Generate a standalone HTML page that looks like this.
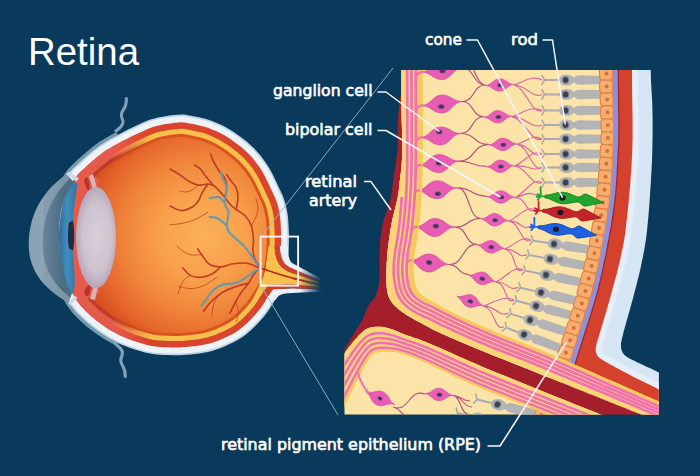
<!DOCTYPE html>
<html><head><meta charset="utf-8"><title>Retina</title>
<style>
html,body{margin:0;padding:0;background:#0a3a5b;}
svg{display:block}
text{font-family:"DejaVu Sans","Liberation Sans",sans-serif;fill:#fff}
</style></head><body>
<svg width="700" height="476" viewBox="0 0 700 476">
<rect width="700" height="476" fill="#0a3a5b"/>
<defs>
<radialGradient id="vit" gradientUnits="userSpaceOnUse" cx="202" cy="236" r="124">
<stop offset="0" stop-color="#fbb05a"/><stop offset="0.35" stop-color="#f8a04b"/><stop offset="0.62" stop-color="#f0853b"/><stop offset="0.84" stop-color="#e6662c"/><stop offset="1" stop-color="#d64c21"/></radialGradient>
<linearGradient id="corn" gradientUnits="userSpaceOnUse" x1="28" y1="0" x2="62" y2="0">
<stop offset="0" stop-color="#6d8a9c"/><stop offset="0.42" stop-color="#7591a2"/><stop offset="0.5" stop-color="#64829a"/><stop offset="1" stop-color="#4d6d82"/></linearGradient>
<linearGradient id="iris" gradientUnits="userSpaceOnUse" x1="59" y1="0" x2="75" y2="0">
<stop offset="0" stop-color="#2c6c9c"/><stop offset="0.5" stop-color="#3f8dc0"/><stop offset="1" stop-color="#3579a8"/></linearGradient>
<radialGradient id="lens" gradientUnits="userSpaceOnUse" cx="97" cy="237" r="50" gradientTransform="translate(97 237) scale(0.42 1) translate(-97 -237)">
<stop offset="0" stop-color="#d9d0da"/><stop offset="0.7" stop-color="#cdc2cf"/><stop offset="1" stop-color="#b7a6ba"/></radialGradient>
<linearGradient id="nfade" gradientUnits="userSpaceOnUse" x1="300" y1="0" x2="321" y2="0">
<stop offset="0" stop-color="#0a3a5b" stop-opacity="0"/><stop offset="1" stop-color="#0a3a5b" stop-opacity="1"/></linearGradient>
<linearGradient id="fmg" gradientUnits="userSpaceOnUse" x1="112" y1="0" x2="152" y2="0"><stop offset="0" stop-color="#fff"/><stop offset="1" stop-color="#000"/></linearGradient>
<mask id="fm" maskUnits="userSpaceOnUse" x="40" y="100" width="130" height="270"><rect x="40" y="100" width="130" height="270" fill="url(#fmg)"/></mask>
<clipPath id="eyeclip"><ellipse cx="170.5" cy="235" rx="117.5" ry="119.8"/></clipPath>
<clipPath id="vitclip"><ellipse cx="170.5" cy="235" rx="98.0" ry="100.3"/></clipPath>
</defs>
<path d="M57.8,196.2 L58.6,192.9 L59.6,189.6 L60.6,186.3 L61.8,183.1 L63.1,180 L64.6,177 L66.3,174.2 L68.3,171.5 L70.3,169.1 L72.5,166.8 L75,164.4 L77.9,161.7 L81.2,158.6 L84.9,155.3 L88.9,151.8 L93,148.5 L96.9,145.5 L100.8,142.8 L104.6,140.5 L108.4,138.2 L112.2,136.1 L116,134.1" fill="none" stroke="#7898ad" stroke-width="3" stroke-linecap="round"/>
<path d="M126.3,98.5C126.6,103 126,106 123.5,109.5C120.5,113.5 120.5,116 122.5,119.5C124,122.5 122.5,125.5 119,128.5L116,131" fill="none" stroke="#82a1b6" stroke-width="3.1" stroke-linecap="round" stroke-linejoin="round"/>
<path d="M57.4,276.5 L58.4,281 L59.6,285.4 L61,289.7 L62.6,293.8 L64.4,297.7 L66.4,301.6 L68.8,305.3 L71.3,308.9 L74.2,312.4 L77.3,315.7 L80.5,318.9 L84,322.1 L87.7,325.3 L91.7,328.5 L95.9,331.6 L100.1,334.6 L104.2,337.3 L108.2,339.7 L112.1,341.8 L116,343.8" fill="none" stroke="#7898ad" stroke-width="3" stroke-linecap="round"/>
<path d="M125.2,376.5C125.6,372 124.5,369 122.5,365.5C120,361.5 120.3,359 122,355.5C123.3,352.5 122,349.5 118.5,346.5L115.5,344" fill="none" stroke="#82a1b6" stroke-width="3.1" stroke-linecap="round" stroke-linejoin="round"/>
<path d="M178,114.7 L181.1,114.5 L183.6,114.6 L185.7,114.8 L188.1,115.2 L191,115.8 L194.7,116.5 L198.8,117.3 L203.2,118.3 L207.7,119.6 L212,121 L216.2,122.7 L220.4,124.5 L224.6,126.6 L228.8,128.9 L233,131.5 L237.3,134.4 L241.7,137.7 L246.1,141.1 L250.2,144.7 L254,148.3 L257.4,151.9 L260.5,155.6 L263.4,159.4 L266.1,163.3 L268.7,167.2 L271.2,171.4 L273.5,175.9 L275.6,180.4 L277.5,184.6 L279.2,188.2 L280.6,191.1 L281.7,193.5 L282.7,195.6 L283.5,197.7 L284.3,200 L285.1,202.5 L285.8,205.1 L286.4,207.7 L286.9,210.4 L287.4,213 L287.8,215.6 L288.1,218.2 L288.3,220.7 L288.4,223.3 L288.6,226 L288.7,228.7 L288.8,231.5 L288.9,234.3 L288.9,237.1 L288.9,240 L288.9,242.9 L288.8,245.8 L288.7,248.8 L288.5,251.9 L288.2,255 L287.9,258.3 L287.5,261.7 L287,265.2 L286.4,268.6 L285.8,272 L285.1,275.3 L284.3,278.4 L283.5,281.6 L282.5,284.8 L281.3,287.9 L279.9,291.1 L278.3,294.2 L276.6,297.4 L274.8,300.5 L272.9,303.6 L271,306.6 L269.1,309.6 L267,312.5 L264.8,315.4 L262.4,318.3 L259.7,321.3 L256.8,324.4 L253.8,327.5 L250.7,330.4 L247.7,333 L244.9,335.3 L242.1,337.2 L239.3,339 L236.3,340.8 L233,342.5 L229.2,344.3 L225.1,346.2 L220.7,347.9 L216.3,349.6 L212,350.9 L207.8,352 L203.5,352.8 L199.3,353.4 L195.1,354 L191,354.4 L187.1,354.8 L183.4,355 L179.7,355.2 L176,355.2 L172,355.2 L167.8,355.1 L163.6,355 L159.2,354.8 L154.6,354.3 L150,353.6 L145.1,352.5 L140,351.1 L134.8,349.5 L129.7,347.8 L125,346 L120.7,344.2 L116.6,342.4 L112.8,340.5 L108.9,338.4 L105,336 L100.9,333.3 L96.8,330.4 L92.6,327.3 L88.7,324.2 L85,321 L81.6,317.8 L78.4,314.7 L75.3,311.4 L72.5,308 L70,304.5 L67.7,300.8 L65.7,297.1 L64,293.2 L62.4,289.2 L61,285 L59.8,280.7 L58.9,276.2 L58.1,271.7 L57.5,266.9 L57,262 L56.6,256.9 L56.3,251.5 L56.1,246 L56,240.5 L56,235 L56.1,229.5 L56.3,223.8 L56.6,218.2 L57,212.8 L57.5,208 L58,203.8 L58.6,200 L59.3,196.6 L60.1,193.3 L61,190 L62,186.8 L63.2,183.6 L64.5,180.7 L65.9,177.8 L67.6,175 L69.4,172.4 L71.4,170.1 L73.6,167.8 L76.1,165.4 L78.9,162.8 L82.2,159.8 L85.9,156.4 L89.9,153 L93.9,149.7 L97.8,146.7 L101.6,144.1 L105.4,141.7 L109.1,139.6 L112.9,137.5 L116.7,135.4 L120.5,133.4 L124.3,131.4 L128,129.5 L131.8,127.7 L135.6,126 L139.3,124.3 L142.9,122.6 L146.6,121.1 L150.4,119.6 L154.5,118.4 L159.1,117.3 L164.1,116.4 L169.1,115.6 L173.9,115.1Z" fill="#bdd5ea"/>
<path d="M178.1,116.4 L181.2,116.2 L183.5,116.3 L185.5,116.5 L187.7,116.9 L190.7,117.5 L194.4,118.2 L198.5,119 L202.8,120 L207.2,121.2 L211.4,122.6 L215.5,124.2 L219.7,126.1 L223.8,128.1 L227.9,130.4 L232.1,132.9 L236.3,135.8 L240.7,139 L245,142.4 L249.1,146 L252.8,149.5 L256.1,153 L259.2,156.7 L262.1,160.4 L264.7,164.2 L267.3,168.1 L269.7,172.2 L271.9,176.6 L274.1,181.1 L276,185.3 L277.7,188.9 L279.1,191.9 L280.2,194.2 L281.1,196.3 L281.9,198.3 L282.7,200.5 L283.4,203 L284.1,205.5 L284.7,208.1 L285.3,210.7 L285.7,213.3 L286.1,215.8 L286.4,218.3 L286.6,220.9 L286.8,223.4 L286.9,226.1 L287,228.8 L287.1,231.5 L287.2,234.3 L287.2,237.1 L287.2,240 L287.2,242.9 L287.1,245.8 L287,248.7 L286.8,251.7 L286.5,254.8 L286.2,258.1 L285.8,261.5 L285.3,264.9 L284.8,268.3 L284.1,271.7 L283.4,274.9 L282.7,278 L281.9,281.1 L280.9,284.2 L279.7,287.3 L278.4,290.3 L276.8,293.5 L275.1,296.6 L273.3,299.7 L271.5,302.7 L269.6,305.7 L267.6,308.6 L265.6,311.5 L263.5,314.3 L261.1,317.2 L258.5,320.2 L255.6,323.2 L252.6,326.3 L249.6,329.1 L246.6,331.7 L243.8,333.9 L241.2,335.8 L238.4,337.6 L235.5,339.3 L232.2,341 L228.5,342.8 L224.4,344.6 L220.1,346.4 L215.8,347.9 L211.5,349.3 L207.4,350.3 L203.2,351.1 L199,351.7 L194.9,352.3 L190.8,352.7 L187,353.1 L183.3,353.3 L179.7,353.5 L176,353.5 L172,353.5 L167.9,353.4 L163.6,353.3 L159.3,353.1 L154.9,352.7 L150.3,351.9 L145.5,350.9 L140.5,349.5 L135.3,347.9 L130.3,346.2 L125.6,344.4 L121.4,342.7 L117.4,340.9 L113.6,339 L109.8,336.9 L105.9,334.6 L101.9,331.9 L97.8,329.1 L93.7,326 L89.8,322.9 L86.1,319.7 L82.8,316.6 L79.6,313.5 L76.6,310.3 L73.9,307 L71.4,303.6 L69.2,300 L67.3,296.3 L65.5,292.5 L64,288.6 L62.6,284.5 L61.5,280.3 L60.6,275.9 L59.8,271.4 L59.2,266.7 L58.7,261.8 L58.3,256.7 L58,251.4 L57.8,246 L57.7,240.5 L57.7,235 L57.8,229.5 L58,223.8 L58.3,218.3 L58.7,213 L59.2,208.2 L59.7,204 L60.3,200.3 L60.9,196.9 L61.7,193.7 L62.6,190.5 L63.7,187.3 L64.8,184.3 L66,181.4 L67.4,178.6 L69,175.9 L70.8,173.5 L72.7,171.2 L74.8,169 L77.2,166.7 L80.1,164 L83.3,161 L87,157.7 L91,154.3 L95,151 L98.8,148.1 L102.5,145.5 L106.2,143.2 L110,141 L113.7,139 L117.5,136.9 L121.3,134.9 L125,132.9 L128.8,131.1 L132.5,129.3 L136.3,127.5 L140,125.8 L143.6,124.2 L147.2,122.7 L151,121.3 L154.9,120 L159.4,119 L164.4,118.1 L169.4,117.3 L174.1,116.8Z" fill="#eef3f8"/>
<path d="M178.4,122.5 L181.3,122.3 L183.1,122.4 L184.6,122.6 L186.7,122.9 L189.6,123.5 L193.2,124.1 L197.2,125 L201.3,125.9 L205.4,127 L209.3,128.3 L213.2,129.9 L217.1,131.6 L221,133.5 L224.9,135.6 L228.8,138 L232.8,140.8 L237,143.9 L241.1,147.1 L245,150.5 L248.5,153.8 L251.6,157.1 L254.5,160.5 L257.1,164 L259.7,167.6 L262.1,171.3 L264.3,175.2 L266.5,179.4 L268.5,183.7 L270.4,187.8 L272.1,191.5 L273.5,194.5 L274.6,196.8 L275.5,198.7 L276.2,200.4 L276.9,202.4 L277.6,204.7 L278.2,207 L278.8,209.4 L279.3,211.8 L279.7,214.2 L280,216.6 L280.3,218.9 L280.5,221.3 L280.7,223.8 L280.8,226.4 L280.9,229.1 L281,231.7 L281.1,234.4 L281.1,237.1 L281.1,239.9 L281.1,242.7 L281,245.6 L280.9,248.4 L280.7,251.3 L280.4,254.3 L280.1,257.4 L279.7,260.7 L279.3,264 L278.8,267.3 L278.2,270.4 L277.5,273.5 L276.8,276.5 L276,279.4 L275.1,282.2 L274.1,285 L272.8,287.8 L271.4,290.6 L269.8,293.6 L268.1,296.5 L266.3,299.5 L264.5,302.4 L262.6,305.2 L260.7,307.9 L258.7,310.5 L256.5,313.2 L254,316.1 L251.2,319 L248.3,321.9 L245.5,324.6 L242.7,327 L240.1,329 L237.7,330.8 L235.3,332.4 L232.6,333.9 L229.5,335.5 L225.9,337.2 L222,339 L217.9,340.7 L213.8,342.2 L209.9,343.4 L206.1,344.3 L202.2,345.1 L198.2,345.7 L194.2,346.2 L190.2,346.6 L186.5,347 L183,347.2 L179.5,347.4 L175.9,347.4 L172.1,347.4 L168,347.3 L163.9,347.2 L159.8,347 L155.6,346.6 L151.5,345.9 L147,344.9 L142.2,343.6 L137.2,342.1 L132.4,340.4 L127.8,338.7 L123.8,337.1 L120,335.4 L116.4,333.6 L112.8,331.6 L109.1,329.4 L105.3,326.9 L101.3,324.1 L97.4,321.2 L93.7,318.2 L90.2,315.2 L87,312.2 L84,309.2 L81.2,306.2 L78.7,303.2 L76.5,300.2 L74.5,297 L72.7,293.6 L71.1,290.2 L69.7,286.5 L68.5,282.8 L67.4,278.9 L66.6,274.8 L65.9,270.5 L65.3,266 L64.8,261.3 L64.3,256.3 L64.1,251.1 L63.9,245.8 L63.8,240.4 L63.8,235.1 L63.9,229.7 L64.1,224.1 L64.4,218.7 L64.8,213.5 L65.3,208.8 L65.7,204.8 L66.3,201.3 L66.9,198.2 L67.6,195.2 L68.5,192.3 L69.4,189.3 L70.4,186.5 L71.5,183.9 L72.8,181.5 L74.1,179.3 L75.6,177.2 L77.2,175.3 L79.1,173.3 L81.4,171.1 L84.2,168.5 L87.4,165.5 L91.1,162.3 L94.9,158.9 L98.7,155.8 L102.4,153 L105.9,150.6 L109.4,148.4 L113,146.3 L116.7,144.3 L120.4,142.3 L124.1,140.3 L127.8,138.4 L131.5,136.6 L135.1,134.8 L138.9,133.1 L142.6,131.4 L146.1,129.8 L149.5,128.3 L152.9,127 L156.5,125.9 L160.7,125 L165.4,124.1 L170.2,123.4 L174.8,122.8Z" fill="#d8442c"/>
<path d="M178.7,128.9 L181.4,128.7 L182.7,128.8 L183.7,128.9 L185.5,129.2 L188.4,129.8 L192,130.4 L195.8,131.2 L199.8,132.1 L203.6,133.1 L207.1,134.3 L210.7,135.8 L214.4,137.4 L218,139.2 L221.6,141.2 L225.3,143.4 L229.1,146 L233.1,148.9 L237,152.1 L240.7,155.2 L244,158.3 L246.8,161.4 L249.5,164.5 L252,167.8 L254.4,171.2 L256.6,174.6 L258.7,178.2 L260.7,182.2 L262.7,186.4 L264.6,190.5 L266.3,194.2 L267.8,197.2 L268.8,199.4 L269.6,201.2 L270.2,202.7 L270.8,204.4 L271.4,206.5 L272,208.6 L272.5,210.8 L273,213.1 L273.4,215.3 L273.7,217.4 L273.9,219.5 L274.1,221.8 L274.3,224.2 L274.4,226.8 L274.5,229.3 L274.6,231.9 L274.7,234.5 L274.7,237.1 L274.7,239.8 L274.7,242.6 L274.6,245.3 L274.5,248.1 L274.3,250.8 L274.1,253.7 L273.7,256.7 L273.4,259.9 L272.9,263.1 L272.5,266.2 L271.9,269.2 L271.2,272.1 L270.6,275 L269.9,277.6 L269.1,280.1 L268.2,282.5 L267,285 L265.7,287.7 L264.2,290.4 L262.6,293.3 L260.8,296.1 L259.1,298.9 L257.3,301.6 L255.5,304.1 L253.7,306.6 L251.6,309.1 L249.2,311.8 L246.6,314.6 L243.9,317.3 L241.2,319.9 L238.6,322.1 L236.3,323.9 L234.1,325.5 L231.9,326.9 L229.5,328.3 L226.6,329.8 L223.2,331.4 L219.5,333.1 L215.6,334.7 L211.7,336.1 L208.1,337.2 L204.7,338.1 L201.1,338.8 L197.3,339.4 L193.4,339.8 L189.5,340.3 L185.9,340.6 L182.6,340.9 L179.3,341 L175.9,341 L172.2,341 L168.1,340.9 L164.1,340.8 L160.2,340.6 L156.5,340.3 L152.7,339.7 L148.5,338.7 L143.9,337.5 L139.2,336 L134.5,334.4 L130.2,332.8 L126.3,331.2 L122.7,329.6 L119.4,327.9 L116,326.1 L112.5,324 L108.9,321.6 L105.1,318.9 L101.3,316.1 L97.8,313.3 L94.5,310.4 L91.4,307.6 L88.5,304.8 L86,302 L83.8,299.3 L81.8,296.6 L80,293.8 L78.5,290.8 L77,287.7 L75.7,284.4 L74.6,280.9 L73.6,277.4 L72.9,273.6 L72.2,269.6 L71.6,265.2 L71.1,260.7 L70.7,255.9 L70.4,250.8 L70.3,245.6 L70.2,240.4 L70.2,235.1 L70.3,229.9 L70.5,224.4 L70.8,219.1 L71.2,214 L71.6,209.5 L72.1,205.7 L72.6,202.4 L73.2,199.6 L73.8,196.9 L74.6,194.1 L75.5,191.4 L76.4,188.9 L77.3,186.7 L78.4,184.6 L79.5,182.8 L80.6,181.2 L82,179.6 L83.6,177.9 L85.9,175.7 L88.6,173.2 L91.8,170.2 L95.3,167.1 L99,163.8 L102.7,160.8 L106.1,158.2 L109.4,156 L112.7,153.9 L116.1,151.9 L119.8,149.9 L123.5,147.9 L127.1,145.9 L130.7,144.1 L134.3,142.3 L137.8,140.6 L141.5,138.9 L145.2,137.2 L148.7,135.6 L151.9,134.3 L155,133.1 L158.2,132.1 L162,131.2 L166.4,130.4 L171.1,129.7 L175.6,129.2Z" fill="#f8bf4c"/>
<path d="M178.9,134 L181.5,133.8 L182.4,133.9 L183,133.9 L184.6,134.2 L187.4,134.8 L191,135.4 L194.7,136.2 L198.5,137.1 L202.1,138 L205.4,139.1 L208.7,140.5 L212.2,142 L215.7,143.7 L219.1,145.6 L222.5,147.7 L226.1,150.2 L230,153 L233.7,156 L237.3,159 L240.4,161.9 L243,164.8 L245.5,167.7 L247.9,170.8 L250.1,174.1 L252.3,177.3 L254.2,180.7 L256.2,184.5 L258.1,188.5 L260,192.6 L261.7,196.4 L263.2,199.4 L264.2,201.6 L264.9,203.2 L265.4,204.5 L266,206 L266.5,207.9 L267.1,209.8 L267.5,211.9 L268,214 L268.3,216.1 L268.6,218 L268.9,220 L269,222.2 L269.2,224.5 L269.3,227 L269.5,229.5 L269.5,232 L269.6,234.6 L269.6,237.1 L269.6,239.8 L269.6,242.5 L269.5,245.2 L269.4,247.8 L269.2,250.5 L269,253.2 L268.7,256.2 L268.3,259.3 L267.9,262.4 L267.4,265.3 L266.9,268.2 L266.3,271 L265.6,273.7 L265,276.2 L264.2,278.4 L263.4,280.6 L262.4,282.9 L261.2,285.3 L259.8,287.9 L258.2,290.6 L256.5,293.4 L254.8,296.1 L253.1,298.7 L251.4,301.1 L249.7,303.4 L247.7,305.8 L245.5,308.3 L242.9,311 L240.3,313.7 L237.8,316.1 L235.4,318.2 L233.2,319.9 L231.2,321.3 L229.3,322.6 L227.1,323.8 L224.4,325.2 L221.1,326.8 L217.5,328.4 L213.8,329.9 L210.1,331.3 L206.8,332.3 L203.6,333.1 L200.2,333.8 L196.6,334.3 L192.8,334.8 L189,335.2 L185.5,335.5 L182.3,335.8 L179.2,335.9 L175.9,335.9 L172.3,335.9 L168.2,335.8 L164.3,335.7 L160.6,335.5 L157.1,335.2 L153.7,334.7 L149.8,333.8 L145.4,332.6 L140.8,331.1 L136.2,329.6 L132,328 L128.3,326.5 L124.9,325 L121.7,323.4 L118.6,321.6 L115.3,319.6 L111.7,317.4 L108.1,314.8 L104.5,312.1 L101,309.3 L97.8,306.6 L94.9,303.9 L92.2,301.2 L89.8,298.7 L87.8,296.2 L86,293.8 L84.5,291.2 L83,288.5 L81.7,285.7 L80.5,282.6 L79.5,279.4 L78.6,276.2 L77.9,272.7 L77.2,268.9 L76.7,264.6 L76.2,260.2 L75.8,255.5 L75.5,250.6 L75.4,245.5 L75.3,240.3 L75.3,235.2 L75.4,230 L75.6,224.7 L75.9,219.4 L76.3,214.5 L76.7,210.1 L77.1,206.4 L77.6,203.3 L78.1,200.6 L78.7,198.2 L79.5,195.6 L80.3,193.1 L81.1,190.8 L82,188.8 L82.8,187.1 L83.7,185.6 L84.7,184.3 L85.7,183 L87.3,181.5 L89.4,179.4 L92,176.9 L95.2,174 L98.7,170.9 L102.3,167.7 L105.9,164.8 L109.1,162.3 L112.2,160.2 L115.3,158.3 L118.7,156.3 L122.2,154.4 L125.9,152.4 L129.5,150.4 L133,148.6 L136.5,146.9 L140,145.2 L143.6,143.5 L147.3,141.9 L150.7,140.3 L153.8,139 L156.6,137.9 L159.5,137 L163,136.2 L167.3,135.4 L171.7,134.8 L176.2,134.2Z" fill="#d9531f"/>
<path d="M179.1,136.9 L181.6,136.7 L182.2,136.8 L182.6,136.8 L184.1,137.1 L186.9,137.6 L190.4,138.3 L194.1,139 L197.8,139.9 L201.2,140.8 L204.4,141.9 L207.6,143.1 L211,144.6 L214.3,146.3 L217.6,148.1 L220.9,150.1 L224.5,152.5 L228.2,155.3 L231.9,158.2 L235.3,161.2 L238.3,164 L240.9,166.7 L243.2,169.5 L245.5,172.5 L247.7,175.7 L249.8,178.8 L251.7,182.1 L253.6,185.7 L255.5,189.8 L257.3,193.8 L259.1,197.6 L260.5,200.6 L261.5,202.8 L262.2,204.3 L262.7,205.5 L263.2,206.9 L263.7,208.7 L264.2,210.5 L264.7,212.5 L265.1,214.6 L265.5,216.5 L265.8,218.4 L266,220.3 L266.1,222.4 L266.3,224.7 L266.4,227.2 L266.6,229.7 L266.6,232.1 L266.7,234.6 L266.7,237.1 L266.7,239.7 L266.7,242.4 L266.6,245.1 L266.5,247.7 L266.3,250.2 L266.1,252.9 L265.8,255.9 L265.4,258.9 L265,261.9 L264.6,264.8 L264,267.6 L263.4,270.3 L262.8,273 L262.2,275.3 L261.5,277.5 L260.7,279.5 L259.8,281.6 L258.6,284 L257.3,286.5 L255.7,289.2 L254,291.9 L252.4,294.6 L250.7,297 L249.1,299.4 L247.4,301.6 L245.5,303.9 L243.3,306.4 L240.8,309 L238.3,311.6 L235.8,313.9 L233.5,315.9 L231.5,317.6 L229.6,318.9 L227.8,320.1 L225.7,321.3 L223.1,322.6 L219.9,324.2 L216.4,325.7 L212.7,327.2 L209.2,328.5 L206,329.5 L203,330.3 L199.7,330.9 L196.2,331.4 L192.5,331.9 L188.7,332.3 L185.3,332.6 L182.2,332.9 L179.1,333 L175.9,333 L172.3,333 L168.3,332.9 L164.4,332.8 L160.8,332.7 L157.5,332.3 L154.2,331.8 L150.5,331 L146.2,329.8 L141.7,328.4 L137.2,326.9 L133.1,325.3 L129.4,323.8 L126.2,322.4 L123.1,320.8 L120,319.1 L116.8,317.2 L113.3,314.9 L109.8,312.5 L106.2,309.8 L102.9,307.1 L99.8,304.4 L96.9,301.8 L94.3,299.2 L92,296.8 L90.1,294.4 L88.4,292.1 L87,289.8 L85.6,287.2 L84.4,284.6 L83.3,281.6 L82.3,278.6 L81.4,275.5 L80.7,272.2 L80.1,268.4 L79.6,264.3 L79.1,259.9 L78.7,255.3 L78.4,250.5 L78.3,245.4 L78.2,240.3 L78.2,235.2 L78.3,230.1 L78.5,224.8 L78.8,219.6 L79.2,214.7 L79.6,210.4 L80,206.8 L80.5,203.8 L81,201.3 L81.5,198.9 L82.2,196.5 L83,194 L83.8,191.8 L84.6,190 L85.4,188.5 L86.1,187.2 L86.9,186.1 L87.9,185 L89.3,183.5 L91.4,181.5 L94,179 L97.1,176.2 L100.6,173.1 L104.2,170 L107.7,167.1 L110.8,164.7 L113.8,162.7 L116.8,160.8 L120.1,158.9 L123.6,156.9 L127.3,154.9 L130.8,153 L134.3,151.2 L137.8,149.5 L141.2,147.8 L144.9,146.2 L148.5,144.5 L151.9,142.9 L154.9,141.7 L157.5,140.7 L160.2,139.8 L163.6,139.1 L167.7,138.3 L172.1,137.6 L176.6,137.1Z" fill="url(#vit)"/>
<clipPath id="eyeclip2"><path d="M178,114.7 L181.1,114.5 L183.6,114.6 L185.7,114.8 L188.1,115.2 L191,115.8 L194.7,116.5 L198.8,117.3 L203.2,118.3 L207.7,119.6 L212,121 L216.2,122.7 L220.4,124.5 L224.6,126.6 L228.8,128.9 L233,131.5 L237.3,134.4 L241.7,137.7 L246.1,141.1 L250.2,144.7 L254,148.3 L257.4,151.9 L260.5,155.6 L263.4,159.4 L266.1,163.3 L268.7,167.2 L271.2,171.4 L273.5,175.9 L275.6,180.4 L277.5,184.6 L279.2,188.2 L280.6,191.1 L281.7,193.5 L282.7,195.6 L283.5,197.7 L284.3,200 L285.1,202.5 L285.8,205.1 L286.4,207.7 L286.9,210.4 L287.4,213 L287.8,215.6 L288.1,218.2 L288.3,220.7 L288.4,223.3 L288.6,226 L288.7,228.7 L288.8,231.5 L288.9,234.3 L288.9,237.1 L288.9,240 L288.9,242.9 L288.8,245.8 L288.7,248.8 L288.5,251.9 L288.2,255 L287.9,258.3 L287.5,261.7 L287,265.2 L286.4,268.6 L285.8,272 L285.1,275.3 L284.3,278.4 L283.5,281.6 L282.5,284.8 L281.3,287.9 L279.9,291.1 L278.3,294.2 L276.6,297.4 L274.8,300.5 L272.9,303.6 L271,306.6 L269.1,309.6 L267,312.5 L264.8,315.4 L262.4,318.3 L259.7,321.3 L256.8,324.4 L253.8,327.5 L250.7,330.4 L247.7,333 L244.9,335.3 L242.1,337.2 L239.3,339 L236.3,340.8 L233,342.5 L229.2,344.3 L225.1,346.2 L220.7,347.9 L216.3,349.6 L212,350.9 L207.8,352 L203.5,352.8 L199.3,353.4 L195.1,354 L191,354.4 L187.1,354.8 L183.4,355 L179.7,355.2 L176,355.2 L172,355.2 L167.8,355.1 L163.6,355 L159.2,354.8 L154.6,354.3 L150,353.6 L145.1,352.5 L140,351.1 L134.8,349.5 L129.7,347.8 L125,346 L120.7,344.2 L116.6,342.4 L112.8,340.5 L108.9,338.4 L105,336 L100.9,333.3 L96.8,330.4 L92.6,327.3 L88.7,324.2 L85,321 L81.6,317.8 L78.4,314.7 L75.3,311.4 L72.5,308 L70,304.5 L67.7,300.8 L65.7,297.1 L64,293.2 L62.4,289.2 L61,285 L59.8,280.7 L58.9,276.2 L58.1,271.7 L57.5,266.9 L57,262 L56.6,256.9 L56.3,251.5 L56.1,246 L56,240.5 L56,235 L56.1,229.5 L56.3,223.8 L56.6,218.2 L57,212.8 L57.5,208 L58,203.8 L58.6,200 L59.3,196.6 L60.1,193.3 L61,190 L62,186.8 L63.2,183.6 L64.5,180.7 L65.9,177.8 L67.6,175 L69.4,172.4 L71.4,170.1 L73.6,167.8 L76.1,165.4 L78.9,162.8 L82.2,159.8 L85.9,156.4 L89.9,153 L93.9,149.7 L97.8,146.7 L101.6,144.1 L105.4,141.7 L109.1,139.6 L112.9,137.5 L116.7,135.4 L120.5,133.4 L124.3,131.4 L128,129.5 L131.8,127.7 L135.6,126 L139.3,124.3 L142.9,122.6 L146.6,121.1 L150.4,119.6 L154.5,118.4 L159.1,117.3 L164.1,116.4 L169.1,115.6 L173.9,115.1Z"/></clipPath>
<g>
<path d="M268.5,246 L274.5,246 L284,270 L292,277 L292,279 L275,283.5 L262,291 L256,297 L261,284 L265.5,270Z" fill="#f8c14d"/>
<path d="M279.5,246 L288,246 C288.3,256 289,260.5 292,263 L322,279 L322,281.3 L292,268.5 C284,265.5 280.5,259 279.5,246Z" fill="#e9f0f7"/>
<path d="M274,246 L279.7,246 C280.5,259 284,265.5 292,268.5 L322,281.3 L322,283 L292,273 C280,269.5 275,262 274,246Z" fill="#d0402b"/>
<path d="M269,246 L274.2,246 C275,262 280,269.5 292,273 L322,283 L322,284.5 L292,277 C277,273 270,266 269,246Z" fill="#f8c14d"/>
<path d="M273,289.5 L292,288.3 L322,289.6 L322,291.6 L292,293 C286,293.3 281,294 278.5,296 L275.2,300 L265.4,300 Z" fill="#e9f0f7"/>
<path d="M268,284.5 L292,284 L322,287.8 L322,289.6 L292,288.3 L273,289.5 L265.4,300 L258,300 Z" fill="#d0402b"/>
<path d="M263.6,277 L292,279 L322,286 L322,287.8 L292,284 L268,284.5 L258,300 L252.3,300 Z" fill="#f8c14d"/>
<path d="M266,262 C270,268 277,273 292,277 L322,284.5 L322,286 L292,278.5 C282,278.2 272,279 266,281.5Z" fill="#f8c14d"/>
<path d="M262,268.5 C272,272 282,275.5 292,277.9 L322,285.2" fill="none" stroke="#b8251c" stroke-width="1.5"/>
<rect x="296" y="255" width="30" height="42" fill="url(#nfade)"/>
</g>
<path d="M259,266 C257.5,263.3 255.5,260.8 254.5,258 C253.5,255.2 253,252 252.8,249 C252.6,246 253.8,243.9 253.5,240 C253.2,236.1 252.6,229.6 251.3,225.6 C250,221.6 248.1,218.9 245.6,216.2 C243.1,213.5 238.7,211.4 236.2,209.5 C233.7,207.6 232.4,206.8 230.5,204.8 C228.6,202.8 226.7,199.7 224.8,197.3 C222.9,194.9 221,192.6 219.1,190.6 C217.2,188.6 215.4,186.6 213.5,185.5 C211.6,184.4 210.3,184.1 207.8,184 C205.3,183.9 201.6,185.5 198.4,185 C195.2,184.5 192.1,182.9 188.9,181.2 C185.8,179.5 182.7,176.6 179.5,174.6 C176.3,172.6 173.2,170.9 170,169 M224.8,197.3 C225.4,194.1 226.7,191 226.7,187.8 C226.7,184.7 226.1,181.2 224.8,178.4 C223.5,175.6 221,173.7 219.1,170.8 C217.2,168 214.9,164.1 213.5,161.3 C212.1,158.5 211.6,156.3 210.6,153.8 M236.2,209.5 C236.8,205.4 238,200.9 238,197.3 C238,193.7 237.4,190.7 236.2,187.8 C234.9,185 232.1,182.4 230.5,180.2 C228.9,178 228,176.5 226.7,174.6 M213.5,185.5 C211,182.5 208.1,179.3 205.9,176.5 C203.7,173.7 202.1,170.8 200.2,168.9 C198.3,167 196.5,166.3 194.6,165 M207.8,184 C205.9,187 203.6,190.2 202,193 C200.4,195.8 200,198.7 198.4,201 C196.8,203.3 195.5,205.1 192.7,206.7 C189.8,208.3 185.1,210.6 181.3,210.5 C177.5,210.4 173.8,207.5 170,206 M258,267.5 C255.3,266.3 252.5,264.8 250,264 C247.5,263.2 246.2,263 243.2,263 C240.2,263 235.6,263.4 231.8,264 C228,264.6 224.3,266.9 220.5,266.9 C216.7,266.9 212.2,266.1 209.1,264 C205.9,261.9 203.5,257.1 201.6,254.6 C199.7,252.1 199.1,250.8 197.8,248.9 M220.5,266.9 C218,269.1 216.1,271.8 212.9,273.5 C209.8,275.2 205.4,277 201.6,277.3 C197.8,277.6 193.3,277 190.2,275.4 C187,273.8 185.2,270.3 182.7,267.8 M257.5,270 C255.7,272.3 253.4,274.8 252,277 C250.6,279.2 250.6,280.4 248.8,283 C247,285.6 243.5,289.3 241.3,292.4 C239.1,295.5 237.5,298.3 235.6,301.8 C233.7,305.3 231.9,309.4 230,313.2 M248.8,283 C244.4,284.2 240,285.1 235.6,286.7 C231.2,288.3 226.5,289.9 222.4,292.4 C218.3,294.9 214.2,298.6 211,301.8 C207.8,305 206,308.1 203.5,311.3" fill="none" stroke="#b62b1d" stroke-width="1.6" stroke-linecap="round" opacity="0.85"/>
<path d="M216.7,277.3 C212.9,279.8 209.5,282.9 205.4,284.8 C201.3,286.7 196.5,288.3 192.1,288.6 C187.7,288.9 183.3,287.3 178.9,286.7 M207.8,212.4 C204.5,214.3 201.2,216.4 198,218 C194.8,219.6 192.2,220.8 188.9,221.8 C185.6,222.8 181.2,223.5 178,224 C174.8,224.5 172.7,224.5 170,224.7 M251.3,225.6 C252.9,222.7 254.9,219.9 256,217 C257.1,214.1 258,211 258,208 C258,205 256.7,202 256,199 M201.6,254.6 C198.4,254.7 194.9,255.4 192,255 C189.1,254.6 186.5,253.5 184,252 C181.5,250.5 179.3,248 177,246 M222.4,292.4 C220.3,294.6 217.6,296.6 216,299 C214.4,301.4 213.7,304.3 213,307 C212.3,309.7 212.3,312.3 212,315 M190.2,275.4 C188.1,276.9 185.7,278.1 184,280 C182.3,281.9 181,284.7 180,287 C179,289.3 178.7,291.7 178,294 M198.4,185 C196.3,186.7 194.1,188.8 192,190 C189.9,191.2 188,191.8 186,192 C184,192.2 182,191.3 180,191 M235.6,301.8 C236.4,304.2 237.6,306.6 238,309 C238.4,311.4 238.3,313.8 238,316 C237.7,318.2 236.7,320 236,322" fill="none" stroke="#b9361f" stroke-width="1" stroke-linecap="round" opacity="0.7"/>
<path d="M258,265.5 C255.6,261.9 253.2,258 250.7,254.6 C248.2,251.2 245.7,247.8 243.2,245.1 C240.7,242.4 238,240.7 235.6,238.5 C233.2,236.3 230.5,234.2 229,232 C227.5,229.8 226.8,228.9 226.7,225.6 C226.6,222.3 228.9,216.2 228.6,212.4 C228.3,208.6 225.1,207.1 224.8,203 C224.5,198.9 227,191.9 226.7,187.8 C226.4,183.7 223.9,180.9 223,178.4 C222.1,175.9 221.7,174.6 221,172.7 M224.8,203 C222.9,201.1 221.6,198.1 219.1,197.3 C216.6,196.5 212.8,197.9 209.7,198.2 M226.7,225.6 C223.6,223.1 220.1,219.4 217.3,218 C214.5,216.6 212.2,217.4 209.7,217.1 M257.5,269.5 C253.3,272.4 248.7,275.9 245,278.2 C241.3,280.4 239.4,281.9 235.6,283 C231.8,284.1 226.2,283.6 222.4,284.8 C218.6,286.1 215.4,288.3 212.9,290.5 C210.4,292.7 209.2,295.5 207.3,298 C205.4,300.5 203.5,303.1 201.6,305.6" fill="none" stroke="#5a9db2" stroke-width="2" stroke-linecap="round"/>
<g clip-path="url(#eyeclip2)">
<g mask="url(#fm)">
<path d="M66.9,198.2 L67.6,195.2 L68.5,192.3 L69.4,189.3 L70.4,186.5 L71.5,183.9 L72.8,181.5 L74.1,179.3 L75.6,177.2 L77.2,175.3 L79.1,173.3 L81.4,171.1 L84.2,168.5 L87.4,165.5 L91.1,162.3 L94.9,158.9 L98.7,155.8 L102.4,153 L105.9,150.6 L109.4,148.4 L113,146.3 L116.7,144.3 L120.4,142.3 L124.1,140.3 L127.8,138.4 L131.5,136.6 L135.1,134.8 L138.9,133.1 L142.6,131.4 L146.1,129.8 L149.5,128.3 L152.9,127 L156.5,125.9 L158.9,135 L155.9,135.9 L153,137 L149.9,138.4 L146.5,139.9 L142.8,141.6 L139.1,143.3 L135.6,145 L132,146.8 L128.5,148.6 L124.9,150.5 L121.2,152.5 L117.6,154.5 L114.2,156.5 L111,158.5 L107.9,160.6 L104.6,163.2 L101,166.1 L97.3,169.3 L93.8,172.5 L90.6,175.4 L87.9,177.9 L85.8,180 L84.2,181.6 L83,183 L82,184.5 L81,186.1 L80.1,187.9 L79.2,190 L78.3,192.4 L77.5,195 L76.7,197.6 L76.1,200.2Z" fill="#e65a4c"/>
<path d="M76.1,200.2 L76.7,197.6 L77.5,195 L78.3,192.4 L79.2,190 L80.1,187.9 L81,186.1 L82,184.5 L83,183 L84.2,181.6 L85.8,180 L87.9,177.9 L90.6,175.4 L93.8,172.5 L97.3,169.3 L101,166.1 L104.6,163.2 L107.9,160.6 L111,158.5 L114.2,156.5 L117.6,154.5 L121.2,152.5 L124.9,150.5 L128.5,148.6 L132,146.8 L135.6,145 L139.1,143.3 L142.8,141.6 L146.5,139.9 L149.9,138.4 L153,137 L155.9,135.9 L158.9,135 L160,138.9 L157.2,139.7 L154.5,140.8 L151.5,142 L148.1,143.6 L144.4,145.3 L140.8,146.9 L137.3,148.6 L133.8,150.3 L130.4,152.1 L126.8,154 L123.1,156 L119.6,158 L116.3,159.9 L113.2,161.8 L110.2,163.9 L107.1,166.3 L103.5,169.2 L99.9,172.3 L96.5,175.4 L93.3,178.3 L90.7,180.8 L88.6,182.8 L87.2,184.3 L86.2,185.5 L85.3,186.7 L84.5,188 L83.7,189.6 L82.9,191.5 L82.1,193.7 L81.3,196.2 L80.6,198.6 L80,201Z" fill="#bf3b2c"/>
<path d="M80,201 L80.6,198.6 L81.3,196.2 L82.1,193.7 L82.9,191.5 L83.7,189.6 L84.5,188 L85.3,186.7 L86.2,185.5 L87.2,184.3 L88.6,182.8 L90.7,180.8 L93.3,178.3 L96.5,175.4 L99.9,172.3 L103.5,169.2 L107.1,166.3 L110.2,163.9 L113.2,161.8 L116.3,159.9 L119.6,158 L123.1,156 L126.8,154 L130.4,152.1 L133.8,150.3 L137.3,148.6 L140.8,146.9 L144.4,145.3 L148.1,143.6 L151.5,142 L154.5,140.8 L157.2,139.7 L160,138.9 L160.8,142.1 L158.3,142.8 L155.7,143.8 L152.8,145 L149.5,146.6 L145.8,148.3 L142.2,149.9 L138.8,151.6 L135.3,153.3 L131.9,155 L128.4,156.9 L124.7,158.9 L121.2,160.9 L118,162.7 L115,164.6 L112.2,166.5 L109.1,168.9 L105.7,171.7 L102.1,174.8 L98.7,177.9 L95.6,180.7 L92.9,183.2 L90.9,185.2 L89.6,186.5 L88.8,187.5 L88.1,188.5 L87.4,189.6 L86.7,191 L86,192.7 L85.2,194.8 L84.4,197.1 L83.8,199.5 L83.2,201.7Z" fill="#d9521f" opacity="0.55"/>
<path d="M155.6,346.6 L151.5,345.9 L147,344.9 L142.2,343.6 L137.2,342.1 L132.4,340.4 L127.8,338.7 L123.8,337.1 L120,335.4 L116.4,333.6 L112.8,331.6 L109.1,329.4 L105.3,326.9 L101.3,324.1 L97.4,321.2 L93.7,318.2 L90.2,315.2 L87,312.2 L84,309.2 L81.2,306.2 L78.7,303.2 L76.5,300.2 L74.5,297 L72.7,293.6 L71.1,290.2 L69.7,286.5 L68.5,282.8 L67.4,278.9 L66.6,274.8 L75.8,273.1 L76.6,276.7 L77.5,280 L78.6,283.3 L79.8,286.5 L81.1,289.5 L82.6,292.3 L84.3,294.9 L86.1,297.5 L88.3,300.1 L90.7,302.7 L93.5,305.4 L96.5,308.2 L99.7,310.9 L103.2,313.7 L106.8,316.5 L110.6,319.1 L114.1,321.4 L117.5,323.5 L120.8,325.2 L124,326.9 L127.5,328.4 L131.3,330 L135.5,331.6 L140.1,333.1 L144.8,334.6 L149.3,335.8 L153.3,336.7 L156.9,337.3Z" fill="#e65a4c"/>
<path d="M156.9,337.3 L153.3,336.7 L149.3,335.8 L144.8,334.6 L140.1,333.1 L135.5,331.6 L131.3,330 L127.5,328.4 L124,326.9 L120.8,325.2 L117.5,323.5 L114.1,321.4 L110.6,319.1 L106.8,316.5 L103.2,313.7 L99.7,310.9 L96.5,308.2 L93.5,305.4 L90.7,302.7 L88.3,300.1 L86.1,297.5 L84.3,294.9 L82.6,292.3 L81.1,289.5 L79.8,286.5 L78.6,283.3 L77.5,280 L76.6,276.7 L75.8,273.1 L79.7,272.3 L80.4,275.7 L81.3,278.9 L82.3,282 L83.5,284.9 L84.7,287.7 L86.1,290.3 L87.6,292.7 L89.3,295 L91.3,297.4 L93.6,299.9 L96.2,302.5 L99.1,305.2 L102.2,307.9 L105.6,310.6 L109.2,313.3 L112.8,315.8 L116.3,318 L119.5,320 L122.6,321.7 L125.7,323.3 L129,324.8 L132.7,326.3 L136.9,327.8 L141.3,329.3 L145.9,330.7 L150.2,331.9 L154,332.8 L157.4,333.3Z" fill="#bf3b2c"/>
<path d="M157.4,333.3 L154,332.8 L150.2,331.9 L145.9,330.7 L141.3,329.3 L136.9,327.8 L132.7,326.3 L129,324.8 L125.7,323.3 L122.6,321.7 L119.5,320 L116.3,318 L112.8,315.8 L109.2,313.3 L105.6,310.6 L102.2,307.9 L99.1,305.2 L96.2,302.5 L93.6,299.9 L91.3,297.4 L89.3,295 L87.6,292.7 L86.1,290.3 L84.7,287.7 L83.5,284.9 L82.3,282 L81.3,278.9 L80.4,275.7 L79.7,272.3 L83,271.7 L83.7,275 L84.5,277.9 L85.4,280.9 L86.5,283.7 L87.7,286.2 L89,288.6 L90.4,290.9 L91.9,293 L93.8,295.2 L95.9,297.6 L98.5,300.1 L101.3,302.7 L104.3,305.3 L107.6,308 L111.1,310.6 L114.6,313 L118,315.2 L121.2,317.1 L124.2,318.8 L127.1,320.3 L130.3,321.7 L133.9,323.2 L138,324.7 L142.4,326.2 L146.8,327.6 L151,328.7 L154.6,329.5 L157.8,330Z" fill="#d9521f" opacity="0.55"/>
</g>
<path d="M75,181 L84,172 L101,180 L95,189 L80,215 L80,260 L96,287 L102,292 L84,300 L75,294 L68,250 L68,215 Z" fill="#e65a4c"/>
<path d="M84,180 C86,176 88,177 89,181 L90,192 C87,190 85,186 84,180Z" fill="#b7332c"/>
<path d="M84,292 C86,298 88,297 90,293 L91,283 C88,285 85,288 84,292Z" fill="#b7332c"/>
</g>
<path d="M89,176 L93,190 L97,188 L93,174Z" fill="#d9c3c8" opacity="0.85"/>
<path d="M90,299 L94,285 L98,287 L95,300Z" fill="#d9c3c8" opacity="0.85"/>
<ellipse cx="96" cy="237.5" rx="20" ry="50.5" fill="url(#lens)"/>
<path d="M75,182 C70,187 65.5,194 63,204 C60,215 58.6,228 59,240 C59.3,255 61,270 65,281 C67,287 69.5,291 73,294 C74.5,289 75,283 74.6,276 C74.2,267 73.6,258 73,250.5 L69,248.5 C67.6,242 67.6,229 69,222.5 L73,220.5 C73.6,211 74.6,202 76,194 C76.6,190 77.2,186 77.6,183.5Z" fill="url(#iris)"/>
<path d="M69,222.5 L73,220.5 C74.6,228 74.6,243 73,250.5 L69,248.5 C67.6,242 67.6,229 69,222.5Z" fill="#15304a"/>
<path d="M66.3,174.5 C52,184 41,198 35,212 C30,224 28,238 29,250 C30,262 35,274 44,284 C52,292 60,298 68.5,303 L72,293 C67,286 63,272 60.5,256 C58.5,240 58.5,224 61,212 C63.5,200 68,190 74.5,182.5Z" fill="url(#corn)"/>
<path d="M66.3,174.5 C52,184 41,198 35,212 C30,224 28,238 29,250 C30,262 35,274 44,284 C52,292 60,298 68.5,303 L70.5,297.5 C64,293 58,287 53.5,280 C47,271 43.5,260 42.8,249 C42,237 43.5,225 47,214 C51,202 58,190 69.5,179Z" fill="#9db3c0" opacity="0.6"/>
<path d="M66,174.5 L69,171.5 L79,178.5 L76.5,181.5Z" fill="#cddbe8"/>
<path d="M68,303 L70.5,305.5 L77.5,298 L74.8,295.5Z" fill="#cddbe8"/>
<defs><clipPath id="pc"><rect x="344.5" y="70" width="314.4" height="344.5"/></clipPath>
<clipPath id="uc"><path d="M401,40 L401,43 L401.1,45.9 L401.1,48.8 L401.1,51.7 L401.2,54.6 L401.2,57.5 L401.2,60.5 L401.2,63.6 L401.3,66.7 L401.3,70 L401.3,73.4 L401.3,77 L401.3,80.6 L401.4,84.3 L401.4,88.1 L401.4,91.9 L401.4,95.8 L401.4,99.6 L401.5,103.3 L401.5,107 L401.6,110.7 L401.6,114.5 L401.7,118.4 L401.8,122.2 L401.9,126.1 L402,129.8 L402.1,133.4 L402.2,136.8 L402.3,140.1 L402.3,143 L402.3,145.7 L402.3,148.1 L402.3,150.2 L402.3,152.2 L402.2,154.1 L402.2,155.9 L402.1,157.7 L402,159.4 L401.9,161.2 L401.8,163 L401.7,164.9 L401.5,166.8 L401.3,168.6 L401.1,170.4 L400.9,172.2 L400.7,174 L400.4,175.8 L400.2,177.6 L400,179.3 L399.8,181 L399.6,182.6 L399.5,184.2 L399.3,185.7 L399.2,187.1 L399,188.6 L398.9,190.1 L398.7,191.6 L398.4,193.3 L398.2,195.1 L397.8,197 L397.4,199.1 L396.8,201.5 L396.3,203.9 L395.6,206.5 L395,209.1 L394.3,211.7 L393.7,214.3 L393,216.8 L392.5,219.3 L392,221.5 L391.6,223.6 L391.2,225.6 L390.9,227.6 L390.5,229.5 L390.2,231.3 L390,233.1 L389.7,234.9 L389.5,236.6 L389.2,238.3 L389,240 L388.8,241.6 L388.6,243.2 L388.4,244.8 L388.2,246.3 L388,247.7 L387.9,249.2 L387.7,250.6 L387.6,252.1 L387.4,253.5 L387.3,255 L387.2,256.5 L387.1,258 L387,259.5 L386.9,261 L386.8,262.6 L386.7,264.1 L386.7,265.6 L386.6,267.1 L386.5,268.5 L386.5,270 L386.5,271.4 L386.4,272.9 L386.4,274.3 L386.3,275.8 L386.3,277.2 L386.3,278.6 L386.3,280 L386.4,281.3 L386.4,282.7 L386.5,284 L386.6,285.3 L386.7,286.6 L386.8,287.8 L387,289.1 L387.1,290.3 L387.3,291.5 L387.6,292.7 L387.8,293.8 L388.1,294.9 L388.5,296 L388.9,297 L389.3,298 L389.8,299 L390.3,299.9 L390.9,300.8 L391.4,301.7 L392.1,302.6 L392.8,303.5 L393.6,304.4 L394.4,305.3 L395.3,306.2 L396.3,307.1 L397.3,308.1 L398.4,309 L399.6,309.9 L400.8,310.8 L402,311.8 L403.3,312.7 L404.6,313.6 L406,314.5 L407.4,315.4 L408.9,316.3 L410.4,317.2 L412,318.1 L413.6,319 L415.2,319.9 L416.9,320.8 L418.6,321.7 L420.3,322.6 L422,323.5 L423.6,324.4 L425.1,325.2 L426.6,326 L428,326.8 L429.5,327.6 L431.1,328.5 L432.9,329.4 L435,330.4 L437.3,331.5 L440,332.8 L443,334.2 L446.3,335.6 L449.8,337.2 L453.5,338.8 L457.4,340.5 L461.5,342.3 L465.8,344.1 L470.4,346 L475.1,348 L480,350 L485.2,352.1 L490.7,354.4 L496.5,356.7 L502.6,359.1 L508.8,361.6 L515,364.1 L521.4,366.6 L527.7,369.1 L533.9,371.6 L540,374 L546,376.4 L552,378.8 L558,381.2 L564,383.6 L570,386 L576,388.4 L582,390.8 L588,393.2 L594,395.6 L600,398 L606.1,400.4 L612.3,402.9 L618.6,405.5 L625,408 L631.2,410.5 L637.4,413 L643.5,415.4 L649.3,417.7 L654.8,419.9 L660,422 L664.8,423.9 L669.3,425.7 L673.5,427.4 L677.4,429 L681.2,430.5 L685,432 L688.6,433.5 L692.3,434.9 L696.1,436.4 L700,438 L720,438 L720,0 L401,0Z"/></clipPath>
<clipPath id="lc"><path d="M700,454 L696.1,452.4 L692.3,450.9 L688.6,449.5 L685,448 L681.2,446.5 L677.4,445 L673.5,443.4 L669.3,441.7 L664.8,439.9 L660,438 L654.8,435.9 L649.3,433.7 L643.5,431.4 L637.4,429 L631.2,426.5 L625,424 L618.6,421.5 L612.3,418.9 L606.1,416.4 L600,414 L594,411.6 L588,409.2 L582,406.8 L576,404.4 L570,402 L564,399.6 L558,397.2 L552,394.8 L546,392.4 L540,390 L534,387.6 L527.8,385.1 L521.7,382.6 L515.5,380.1 L509.4,377.6 L503.3,375.1 L497.3,372.7 L491.4,370.2 L485.6,367.9 L480,365.5 L474.5,363.1 L469,360.7 L463.5,358.3 L458.1,355.9 L452.9,353.6 L447.8,351.3 L442.9,349.1 L438.3,347.1 L434,345.2 L430,343.5 L426.4,342 L423,340.7 L420,339.6 L417.2,338.6 L414.7,337.7 L412.3,336.9 L410.1,336.1 L408,335.4 L405.9,334.7 L404,334 L402.2,333.3 L400.6,332.7 L399.3,332.1 L398,331.5 L396.9,331 L395.9,330.5 L394.8,330.1 L393.8,329.7 L392.7,329.3 L391.5,328.9 L390.2,328.5 L389,328.2 L387.7,327.8 L386.4,327.5 L385.1,327.2 L383.9,327 L382.6,326.7 L381.3,326.6 L380.1,326.5 L378.9,326.4 L377.7,326.4 L376.5,326.4 L375.3,326.5 L374.1,326.7 L372.9,326.8 L371.8,327.1 L370.7,327.3 L369.6,327.6 L368.6,327.9 L367.6,328.3 L366.7,328.7 L365.8,329.1 L365.1,329.6 L364.3,330.1 L363.6,330.7 L362.9,331.3 L362.2,331.9 L361.5,332.6 L360.8,333.3 L360,334 L359.2,334.8 L358.4,335.6 L357.6,336.4 L356.8,337.3 L356,338.2 L355.2,339.2 L354.4,340.1 L353.6,341.1 L352.8,342 L352,343 L351.2,343.9 L350.5,344.9 L349.8,345.8 L349.1,346.7 L348.3,347.6 L347.6,348.6 L346.9,349.6 L346.1,350.7 L345.3,351.8 L344.5,353 L343.6,354.3 L342.8,355.5 L341.9,356.8 L341,358.2 L340.1,359.6 L339.1,361.1 L338.2,362.7 L337.2,364.3 L336.1,366.1 L335,368 L333.8,370 L332.6,372.2 L331.3,374.4 L330,376.8 L328.7,379.2 L327.3,381.7 L325.9,384.2 L324.6,386.8 L323.3,389.4 L322,392 L320.8,394.6 L319.5,397.3 L318.3,400.1 L317.1,402.9 L315.9,405.8 L314.8,408.6 L313.6,411.5 L312.4,414.3 L311.2,417.2 L310,420 L310,480 L720,480Z"/></clipPath>
</defs>
<g clip-path="url(#pc)">
<path d="M401.5,91 L401.3,92.1 L401.1,93.2 L400.8,94.2 L400.6,95.3 L400.4,96.4 L400.2,97.5 L400,98.7 L399.8,100 L399.6,101.3 L399.4,102.6 L399.3,104 L399.1,105.4 L398.9,106.9 L398.8,108.5 L398.6,110.2 L398.5,112 L398.4,114 L398.2,116.1 L398.1,118.4 L398,120.8 L397.8,123.2 L397.7,125.6 L397.7,127.9 L397.6,130 L397.6,132 L397.6,133.9 L397.7,135.8 L397.8,137.6 L397.8,139.4 L397.9,141.2 L397.9,143 L397.8,145 L397.7,147 L397.5,149.1 L397.2,151.2 L397,153.3 L396.7,155.5 L396.4,157.6 L396.1,159.8 L395.8,162 L395.5,164.2 L395.2,166.5 L394.9,168.9 L394.5,171.2 L394.2,173.6 L393.9,175.8 L393.6,178 L393.3,180 L393,181.9 L392.8,183.6 L392.6,185.2 L392.4,186.8 L392.2,188.3 L392,189.8 L391.8,191.4 L391.5,193 L391.2,194.7 L390.9,196.4 L390.6,198.2 L390.2,199.9 L389.8,201.7 L389.4,203.5 L389,205.2 L388.5,207 L387.9,208.7 L387.3,210.5 L386.6,212.2 L385.9,213.9 L385.2,215.6 L384.5,217.4 L383.8,219.2 L383.3,221 L382.8,222.9 L382.4,224.9 L382,226.9 L381.7,228.9 L381.4,230.9 L381.1,233 L380.8,235 L380.6,237 L380.4,239 L380.2,241 L380,243 L379.9,245 L379.8,247 L379.7,249 L379.6,251 L379.5,253 L379.5,255 L379.4,257 L379.4,259 L379.5,261.1 L379.5,263.1 L379.5,265.1 L379.5,267 L379.5,269 L379.5,270.9 L379.5,272.9 L379.5,274.8 L379.5,276.7 L379.5,278.6 L379.4,280.4 L379.2,282.2 L379,284 L378.7,285.8 L378.3,287.5 L377.9,289.2 L377.4,290.9 L376.8,292.5 L376.3,294.1 L375.6,295.6 L375,297 L374.3,298.2 L373.5,299.3 L372.7,300.3 L371.8,301.2 L371,302.1 L370.1,303.1 L369.2,304.2 L368.4,305.5 L367.6,307 L366.9,308.8 L366.1,310.6 L365.4,312.5 L364.7,314.5 L363.9,316.4 L363.1,318.3 L362.3,320 L361.4,321.6 L360.6,323.2 L359.6,324.7 L358.7,326.2 L357.8,327.6 L356.8,329.1 L355.9,330.5 L355,332 L354.1,333.5 L353.3,334.9 L352.4,336.3 L351.5,337.7 L350.7,339.1 L349.8,340.6 L348.9,342 L348,343.5 L347,345 L346.1,346.6 L345.1,348.1 L344.1,349.7 L343,351.3 L342,352.9 L341,354.4 L340,356 L380,350 L430,352 L660,444 L660,418 L430,322 L410,300 L405,260 L405,92Z" fill="#a51e2b"/>
<g clip-path="url(#uc)">
<path d="M650.5,40 L650.5,43.7 L650.6,47.5 L650.6,51.4 L650.6,55.2 L650.6,59.1 L650.7,62.8 L650.7,66.6 L650.8,70.2 L650.8,73.7 L650.9,77 L651,80.2 L651.1,83.2 L651.3,86.2 L651.4,89 L651.6,91.8 L651.8,94.4 L651.9,97.1 L652.1,99.7 L652.2,102.4 L652.3,105 L652.4,107.6 L652.4,110.1 L652.5,112.6 L652.5,115 L652.6,117.4 L652.6,119.8 L652.6,122.2 L652.6,124.7 L652.6,127.3 L652.6,130 L652.6,132.8 L652.6,135.7 L652.5,138.6 L652.5,141.6 L652.4,144.7 L652.4,147.8 L652.3,150.8 L652.2,153.9 L652.1,157 L652,160 L651.9,163 L651.7,166.1 L651.6,169.2 L651.4,172.2 L651.2,175.3 L651,178.4 L650.9,181.4 L650.7,184.3 L650.5,187.2 L650.3,190 L650.1,192.7 L650,195.3 L649.8,197.8 L649.6,200.3 L649.5,202.8 L649.3,205.2 L649.1,207.6 L648.9,210 L648.7,212.5 L648.5,215 L648.3,217.6 L648,220.2 L647.8,222.8 L647.5,225.4 L647.3,228 L647,230.6 L646.7,233.2 L646.4,235.8 L646.1,238.4 L645.7,241 L645.3,243.5 L644.9,246.1 L644.5,248.6 L644,251.1 L643.5,253.6 L643.1,256.1 L642.6,258.6 L642,261.1 L641.5,263.5 L641,266 L640.5,268.5 L639.9,270.9 L639.3,273.4 L638.7,275.9 L638.1,278.3 L637.5,280.7 L636.9,283.1 L636.3,285.5 L635.7,287.8 L635.1,290 L634.5,292.2 L634,294.3 L633.5,296.3 L633,298.3 L632.4,300.2 L631.9,302.2 L631.4,304.1 L630.9,306.1 L630.3,308 L629.8,310 L629.2,312 L628.6,314.1 L628,316.2 L627.4,318.3 L626.8,320.4 L626.2,322.5 L625.6,324.5 L625.1,326.4 L624.6,328.3 L624.1,330 L623.7,331.6 L623.3,333 L623,334.4 L622.7,335.7 L622.4,336.9 L622.1,338.1 L621.8,339.3 L621.6,340.5 L621.3,341.7 L621,343 L621,343.8 L621,344.5 L621,345.2 L621,346 L621,346.8 L621,347.5 L621.1,348.2 L621.3,349 L621.5,349.8 L621.8,350.5 L622.1,351.3 L622.4,352.1 L622.8,352.8 L623.3,353.6 L623.9,354.3 L624.5,355 L625.1,355.6 L625.7,356.1 L626.3,356.6 L627,357.1 L627.9,357.6 L629.1,358.2 L630.6,359 L632.5,360 L634.8,361.1 L637.5,362.4 L640.4,363.8 L643.6,365.3 L647.1,366.9 L650.8,368.6 L654.8,370.5 L658.9,372.5 L663.3,374.7 L668.1,377.1 L673.2,379.6 L678.5,382.2 L683.9,385 L689.4,387.7 L694.8,390.4 L700,393 L700,520 L300,520 L300,0 L649.5,0Z" fill="#d6e6f5"/>
<path d="M638.5,40.1 L638.4,43.7 L638.4,47.3 L638.3,50.7 L638.2,54.1 L638.2,57.6 L638.1,61.1 L638.1,64.8 L638,68.6 L638,72.7 L638,77 L638,81.7 L638.1,86.9 L638.1,92.4 L638.2,98.1 L638.3,103.8 L638.4,109.6 L638.5,115.2 L638.6,120.6 L638.6,125.5 L638.6,130 L638.6,134 L638.5,137.5 L638.5,140.8 L638.4,143.8 L638.4,146.6 L638.3,149.3 L638.2,152 L638.1,154.6 L637.9,157.4 L637.8,160.3 L637.6,163.3 L637.5,166.4 L637.3,169.5 L637.1,172.7 L636.8,175.7 L636.6,178.8 L636.4,181.8 L636.1,184.8 L635.9,187.7 L635.7,190.5 L635.5,193.2 L635.2,195.8 L635,198.4 L634.8,200.9 L634.5,203.3 L634.3,205.8 L634.1,208.2 L633.8,210.6 L633.5,213.1 L633.3,215.7 L633,218.2 L632.7,220.8 L632.4,223.4 L632.1,226.1 L631.8,228.7 L631.5,231.4 L631.1,234 L630.7,236.7 L630.3,239.4 L629.9,242 L629.5,244.6 L629,247.2 L628.4,249.8 L627.9,252.4 L627.3,254.9 L626.8,257.5 L626.2,260 L625.6,262.5 L625,264.9 L624.4,267.4 L623.8,269.9 L623.2,272.4 L622.6,274.9 L621.9,277.4 L621.3,279.9 L620.6,282.3 L620,284.7 L619.3,287 L618.7,289.3 L618.1,291.6 L617.5,293.7 L616.9,295.8 L616.4,297.9 L615.8,299.9 L615.3,301.9 L614.7,303.8 L614.2,305.8 L613.6,307.7 L613,309.7 L612.5,311.7 L611.9,313.7 L611.2,315.8 L610.6,317.9 L610,320 L609.4,322.1 L608.7,324.2 L608.1,326.2 L607.5,328.1 L607,330 L606.4,331.7 L606,333.4 L605.5,334.9 L605.1,336.4 L604.6,337.8 L604.2,339.1 L603.8,340.4 L603.5,341.7 L603.1,343 L602.7,344.4 L602.3,345.4 L602.3,345.7 L602.2,346.8 L602,347.7 L601.9,348.5 L601.8,349.1 L601.7,349.6 L601.7,349.9 L601.7,350.2 L601.8,350.6 L601.9,351.1 L602,351.5 L602.2,351.8 L602.3,352.1 L602.5,352.4 L602.6,352.6 L603,353 L603.3,353.3 L603.6,353.6 L603.8,353.8 L604.2,354 L604.8,354.4 L605.8,355 L607.2,355.8 L609,356.8 L611.1,358 L613.6,359.4 L616.5,361 L619.5,362.6 L622.8,364.4 L626.1,366.2 L629.4,367.9 L632.8,369.7 L636,371.3 L639.3,373 L642.6,374.7 L646,376.3 L649.6,378.1 L653.4,380 L657.3,381.9 L661.6,384 L666.1,386.3 L671,388.7 L676.1,391.3 L681.4,393.9 L686.7,396.6 L692.1,399.3 L697.5,402 L702.7,404.6 L700,520 L300,520 L300,0 L640,0Z" fill="#e6eff8"/>
<path d="M632.5,40 L632.4,43.6 L632.4,47.1 L632.3,50.6 L632.2,54 L632.2,57.5 L632.1,61 L632.1,64.7 L632,68.6 L632,72.7 L632,77 L632,81.8 L632.1,86.9 L632.1,92.4 L632.2,98.2 L632.3,103.9 L632.4,109.7 L632.5,115.3 L632.6,120.6 L632.6,125.6 L632.6,130 L632.6,133.9 L632.6,137.5 L632.5,140.7 L632.4,143.7 L632.4,146.4 L632.3,149.1 L632.2,151.7 L632.1,154.4 L631.9,157.1 L631.8,160 L631.6,163 L631.5,166.1 L631.3,169.2 L631.1,172.2 L630.8,175.3 L630.6,178.4 L630.4,181.4 L630.2,184.3 L629.9,187.2 L629.7,190 L629.5,192.7 L629.3,195.3 L629,197.8 L628.8,200.3 L628.6,202.8 L628.3,205.2 L628.1,207.6 L627.8,210 L627.6,212.5 L627.3,215 L627,217.6 L626.7,220.2 L626.4,222.8 L626.1,225.4 L625.8,228 L625.5,230.6 L625.2,233.2 L624.8,235.8 L624.4,238.4 L624,241 L623.5,243.5 L623.1,246.1 L622.6,248.6 L622,251.1 L621.5,253.6 L620.9,256.1 L620.4,258.6 L619.8,261.1 L619.2,263.5 L618.6,266 L618,268.5 L617.4,270.9 L616.8,273.4 L616.1,275.9 L615.5,278.3 L614.8,280.7 L614.2,283.1 L613.5,285.5 L612.9,287.8 L612.3,290 L611.7,292.2 L611.1,294.3 L610.6,296.3 L610,298.3 L609.5,300.2 L608.9,302.2 L608.4,304.1 L607.8,306.1 L607.3,308 L606.7,310 L606.1,312 L605.5,314.1 L604.9,316.2 L604.2,318.3 L603.6,320.4 L603,322.4 L602.4,324.4 L601.8,326.4 L601.2,328.2 L600.7,330 L600.2,331.6 L599.7,333.2 L599.3,334.6 L598.9,336 L598.5,337.4 L598.1,338.7 L597.7,340 L597.3,341.3 L596.9,342.6 L596.5,344 L596.4,344.9 L596.2,345.8 L596.1,346.7 L595.9,347.6 L595.8,348.4 L595.7,349.3 L595.7,350.2 L595.8,351 L595.9,351.8 L596.1,352.6 L596.4,353.4 L596.6,354.1 L597,354.9 L597.4,355.6 L597.9,356.3 L598.5,357 L599.1,357.6 L599.7,358.1 L600.2,358.6 L600.9,359.1 L601.8,359.6 L602.9,360.2 L604.2,361 L606,362 L608.2,363.2 L610.7,364.7 L613.6,366.2 L616.7,367.9 L619.9,369.7 L623.3,371.5 L626.7,373.3 L630,375 L633.3,376.7 L636.6,378.4 L639.9,380 L643.4,381.7 L647,383.5 L650.7,385.3 L654.7,387.3 L658.9,389.4 L663.5,391.7 L668.3,394.1 L673.4,396.7 L678.7,399.3 L684.1,402 L689.4,404.7 L694.8,407.4 L700,410 L700,520 L300,520 L300,0 L633,0Z" fill="#d4422e"/>
<path d="M619.3,40 L619.3,43.6 L619.2,47.2 L619.2,50.6 L619.1,54 L619.1,57.5 L619.1,61.1 L619,64.7 L619,68.6 L619,72.7 L619,77 L619,81.7 L619.1,86.9 L619.2,92.4 L619.3,98.1 L619.3,103.9 L619.4,109.7 L619.5,115.3 L619.6,120.6 L619.6,125.6 L619.6,130 L619.6,133.9 L619.5,137.5 L619.4,140.7 L619.4,143.7 L619.3,146.5 L619.1,149.2 L619,151.8 L618.9,154.4 L618.7,157.2 L618.6,160.1 L618.4,163.1 L618.3,166.1 L618.1,169.2 L618,172.3 L617.8,175.4 L617.6,178.4 L617.4,181.5 L617.2,184.4 L616.9,187.3 L616.7,190.1 L616.4,192.8 L616.2,195.4 L615.9,198 L615.6,200.5 L615.3,202.9 L615,205.3 L614.7,207.8 L614.4,210.2 L614,212.7 L613.7,215.2 L613.3,217.8 L612.9,220.4 L612.5,223 L612.1,225.6 L611.6,228.2 L611.2,230.8 L610.7,233.5 L610.2,236.1 L609.7,238.7 L609.3,241.2 L608.8,243.8 L608.3,246.3 L607.8,248.9 L607.3,251.4 L606.8,253.9 L606.3,256.4 L605.8,258.9 L605.3,261.3 L604.8,263.8 L604.3,266.3 L603.7,268.7 L603.2,271.2 L602.6,273.7 L602.1,276.2 L601.5,278.6 L600.9,281 L600.4,283.4 L599.8,285.8 L599.2,288.1 L598.7,290.3 L598.1,292.5 L597.5,294.6 L596.9,296.6 L596.4,298.6 L595.8,300.6 L595.2,302.6 L594.6,304.5 L594,306.4 L593.4,308.4 L592.8,310.4 L592.2,312.4 L591.6,314.4 L591,316.4 L590.4,318.3 L589.7,320.3 L589.1,322.3 L588.5,324.3 L587.8,326.3 L587.2,328.4 L586.5,330.4 L585.9,332.5 L585.2,334.5 L584.6,336.6 L583.9,338.7 L583.2,340.8 L582.5,342.9 L581.9,345.1 L581.2,347.2 L580.5,349.3 L579.8,351.4 L579.2,353.5 L578.5,355.7 L577.8,357.9 L577.1,360.2 L576.4,362.4 L575.7,364.6 L575,366.7 L574.4,368.7 L573.8,370.6 L573.2,372.4 L572.7,374 L572.3,375.5 L571.9,376.9 L571.5,378.2 L571.1,379.4 L570.7,380.6 L570.4,381.7 L570,382.9 L569.6,384.1 L569.2,385.4 L560,520 L300,520 L300,0 L619,0Z" fill="#a3242a"/>
<path d="M618,40 L618,43.6 L617.9,47.1 L617.9,50.6 L617.8,54 L617.8,57.5 L617.8,61 L617.7,64.7 L617.7,68.6 L617.7,72.7 L617.7,77 L617.7,81.8 L617.8,86.9 L617.9,92.4 L618,98.2 L618,103.9 L618.1,109.7 L618.2,115.3 L618.3,120.6 L618.3,125.6 L618.3,130 L618.3,133.9 L618.2,137.5 L618.1,140.7 L618.1,143.7 L618,146.4 L617.8,149.1 L617.7,151.7 L617.6,154.4 L617.4,157.1 L617.3,160 L617.2,163 L617,166.1 L616.8,169.2 L616.7,172.2 L616.5,175.3 L616.3,178.4 L616.1,181.4 L615.9,184.3 L615.6,187.2 L615.4,190 L615.2,192.7 L614.9,195.3 L614.6,197.8 L614.3,200.3 L614.1,202.8 L613.8,205.2 L613.4,207.6 L613.1,210 L612.8,212.5 L612.4,215 L612,217.6 L611.6,220.2 L611.2,222.8 L610.8,225.4 L610.3,228 L609.9,230.6 L609.4,233.2 L608.9,235.8 L608.5,238.4 L608,241 L607.5,243.5 L607,246.1 L606.6,248.6 L606.1,251.1 L605.6,253.6 L605.1,256.1 L604.6,258.6 L604,261.1 L603.5,263.5 L603,266 L602.5,268.5 L601.9,270.9 L601.4,273.4 L600.8,275.9 L600.2,278.3 L599.7,280.7 L599.1,283.1 L598.5,285.5 L598,287.8 L597.4,290 L596.8,292.2 L596.3,294.3 L595.7,296.3 L595.1,298.3 L594.5,300.2 L594,302.2 L593.4,304.1 L592.8,306.1 L592.2,308 L591.6,310 L591,312 L590.4,314 L589.8,316 L589.1,318 L588.5,319.9 L587.9,321.9 L587.2,323.9 L586.6,325.9 L585.9,328 L585.3,330 L584.6,332.1 L584,334.1 L583.3,336.2 L582.6,338.3 L582,340.4 L581.3,342.6 L580.6,344.7 L579.9,346.8 L579.3,348.9 L578.6,351 L577.9,353.1 L577.2,355.3 L576.5,357.6 L575.8,359.8 L575.1,362 L574.4,364.2 L573.8,366.3 L573.2,368.3 L572.6,370.2 L572,372 L571.5,373.6 L571,375.1 L570.6,376.5 L570.2,377.8 L569.8,379 L569.5,380.2 L569.1,381.4 L568.8,382.5 L568.4,383.7 L568,385 L560,520 L300,520 L300,0 L619,0Z" fill="#8f90dd"/>
<path d="M612.6,40 L612.6,43.6 L612.6,47.1 L612.6,50.6 L612.5,54 L612.5,57.5 L612.5,61 L612.5,64.7 L612.5,68.6 L612.6,72.7 L612.6,77 L612.7,81.8 L612.8,86.9 L612.9,92.4 L613.1,98.2 L613.2,103.9 L613.4,109.7 L613.5,115.3 L613.6,120.6 L613.7,125.6 L613.7,130 L613.7,133.9 L613.6,137.5 L613.6,140.7 L613.5,143.7 L613.4,146.4 L613.3,149.1 L613.1,151.7 L613,154.4 L612.8,157.1 L612.7,160 L612.6,163 L612.4,166.1 L612.3,169.2 L612.1,172.2 L612,175.3 L611.8,178.4 L611.6,181.4 L611.4,184.3 L611.1,187.2 L610.9,190 L610.6,192.7 L610.3,195.3 L610,197.8 L609.7,200.3 L609.4,202.8 L609,205.2 L608.7,207.6 L608.3,210 L607.9,212.5 L607.5,215 L607.1,217.6 L606.7,220.2 L606.2,222.8 L605.8,225.4 L605.3,228 L604.8,230.6 L604.3,233.2 L603.9,235.8 L603.4,238.4 L602.9,241 L602.4,243.5 L602,246.1 L601.5,248.6 L601,251.1 L600.5,253.6 L600,256.1 L599.5,258.6 L599,261.1 L598.5,263.5 L598,266 L597.5,268.5 L596.9,270.9 L596.4,273.4 L595.8,275.9 L595.2,278.3 L594.6,280.7 L594.1,283.1 L593.5,285.5 L592.9,287.8 L592.3,290 L591.7,292.2 L591.1,294.3 L590.5,296.3 L589.9,298.3 L589.3,300.2 L588.7,302.2 L588.1,304.1 L587.5,306.1 L586.8,308 L586.2,310 L585.6,312 L584.9,314 L584.2,316 L583.6,318 L582.9,319.9 L582.2,321.9 L581.6,323.9 L580.9,325.9 L580.2,328 L579.6,330 L579,332.1 L578.4,334.1 L577.8,336.2 L577.2,338.3 L576.6,340.4 L576,342.6 L575.4,344.7 L574.8,346.8 L574.2,348.9 L573.6,351 L573,353.1 L572.3,355.3 L571.6,357.6 L570.9,359.8 L570.2,362 L569.5,364.2 L568.8,366.3 L568.2,368.3 L567.6,370.2 L567,372 L566.5,373.6 L566,375.1 L565.6,376.5 L565.2,377.8 L564.8,379 L564.5,380.2 L564.1,381.4 L563.8,382.5 L563.4,383.7 L563,385 L550,520 L300,520 L300,0 L613,0Z" fill="#f3a566"/>
<path d="M599.4,40 L599.4,43.6 L599.4,47.1 L599.3,50.6 L599.3,54 L599.3,57.5 L599.3,61 L599.3,64.7 L599.3,68.6 L599.3,72.7 L599.4,77 L599.5,81.8 L599.7,86.9 L599.9,92.4 L600.1,98.2 L600.3,103.9 L600.5,109.7 L600.7,115.3 L600.8,120.6 L601,125.6 L601,130 L601,133.9 L600.9,137.5 L600.8,140.7 L600.7,143.7 L600.6,146.4 L600.4,149.1 L600.2,151.7 L600,154.4 L599.8,157.1 L599.6,160 L599.4,163 L599.2,166.1 L599,169.2 L598.7,172.2 L598.5,175.3 L598.2,178.4 L597.9,181.4 L597.7,184.3 L597.4,187.2 L597.1,190 L596.8,192.7 L596.5,195.3 L596.2,197.8 L595.9,200.3 L595.5,202.8 L595.2,205.2 L594.9,207.6 L594.5,210 L594.2,212.5 L593.8,215 L593.4,217.6 L593.1,220.2 L592.7,222.8 L592.3,225.4 L591.9,228 L591.5,230.6 L591.1,233.2 L590.6,235.8 L590.2,238.4 L589.7,241 L589.2,243.5 L588.7,246.1 L588.2,248.6 L587.6,251.1 L587.1,253.6 L586.5,256.1 L585.9,258.6 L585.4,261.1 L584.8,263.5 L584.2,266 L583.6,268.5 L583,270.9 L582.4,273.4 L581.8,275.9 L581.1,278.3 L580.5,280.7 L579.9,283.1 L579.2,285.5 L578.6,287.8 L578,290 L577.4,292.2 L576.8,294.3 L576.2,296.3 L575.7,298.3 L575.1,300.2 L574.5,302.2 L574,304.1 L573.4,306.1 L572.8,308 L572.2,310 L571.6,312 L571,314 L570.4,316 L569.8,318 L569.1,319.9 L568.5,321.9 L567.9,323.9 L567.2,325.9 L566.6,328 L565.9,330 L565.2,332.1 L564.5,334.1 L563.8,336.2 L563.1,338.3 L562.3,340.4 L561.6,342.6 L560.8,344.7 L560.1,346.8 L559.3,348.9 L558.6,351 L557.8,353.1 L557,355.3 L556.2,357.6 L555.4,359.8 L554.6,362 L553.8,364.2 L553,366.3 L552.3,368.3 L551.6,370.2 L551,372 L550.5,373.6 L550,375.1 L549.5,376.5 L549.1,377.8 L548.8,379 L548.4,380.2 L548.1,381.4 L547.7,382.5 L547.4,383.7 L547,385 L540,520 L300,520 L300,0 L600,0Z" fill="#fce3a8"/>
<path d="M513.6,85 C525.6,83.9 532.1,99.4 542.1,94.4 M513.6,85 C525.6,81 532.1,75 542.1,80 M513.6,85 C525.6,87.1 532.1,115.4 542.1,110.4 M511.8,116.7 C523.8,115.4 532.1,130 542.1,125 M511.8,116.7 C523.8,112.4 532.1,105.4 542.1,110.4 M511.8,116.7 C523.8,118.2 532.1,144 542.1,139 M516.9,144.4 C528.9,143.3 532.1,159 542.1,154 M516.9,144.4 C528.9,140.3 532.1,134 542.1,139 M516.9,144.4 C528.9,146 532.1,172.5 542.1,167.5 M514.4,166.3 C526.4,163.5 532.1,172.5 542.1,167.5 M514.4,166.3 C526.4,166.5 532.1,187.5 542.1,182.5 M514.4,166.3 C526.4,160.8 532.1,149 542.1,154 M514.9,197.7 C526.9,194.4 527.7,190.8 537.7,195.8 M514.9,197.7 C526.9,197.2 525.5,215 535.5,210 M514.9,197.7 C526.9,191.7 532.1,177.5 542.1,182.5 M508.5,221.3 C520.5,219.3 521.2,231.3 531.2,226.3 M508.5,221.3 C520.5,216 525.5,205 535.5,210 M508.5,221.3 C520.5,222.1 520.8,245.3 530.8,240.3 M504.6,249.2 C516.6,247.3 516.9,259.5 526.9,254.5 M504.6,249.2 C516.6,244.4 520.8,235.3 530.8,240.3 M504.6,249.2 C516.6,250.4 513,275.1 523,270.1 M495.5,282.2 C507.5,280.2 508.1,292.2 518.1,287.2 M495.5,282.2 C507.5,282.8 504.3,305.2 514.3,300.2 M495.5,282.2 C507.5,276.7 513,265.1 523,270.1 M483,306.2 C495,304.6 498.6,318 508.6,313 M483,306.2 C495,302 504.3,295.2 514.3,300.2 M483,306.2 C495,307.4 493.9,331.8 503.9,326.8" fill="none" stroke="#d8649f" stroke-width="1.1"/>
<path d="M462,68 C475,68 472.6,85 485.6,85 M462,101.5 C474,101.5 471.8,116.7 483.8,116.7 M462,101.5 C475,101.5 472.6,85 485.6,85 M460.6,133.5 C476.2,133.5 473.3,144.4 488.9,144.4 M460.6,133.5 C473.4,133.5 471,116.7 483.8,116.7 M458.9,161.1 C474,161.1 471.3,166.3 486.4,166.3 M458.9,161.1 C475.4,161.1 472.4,144.4 488.9,144.4 M457.1,187.9 C473.5,187.9 470.5,196.3 486.9,196.3 M457.1,187.9 C470.1,187.9 467.7,218.3 480.7,218.3 M455.2,227.1 C469.2,227.1 466.6,218.3 480.7,218.3 M455.2,227.1 C467.2,227.1 465,244.4 477,244.4 M449.1,264.7 C459.8,264.7 457.8,274.4 468.5,274.4 M449.1,264.7 C464.4,264.7 461.7,244.4 477,244.4 M462,68 C475,68 475,56 488,56 M462,56 C474,56 474,85 486,85" fill="none" stroke="#b4547f" stroke-width="1.2"/>
<g transform="translate(442 70.5)"><path d="M-20,1.5C-11,1 -9,-9 0,-9C9,-9 11,-2.5 20,-2.5C11,-2 9,9 0,9C-9,9 -11,2 -20,1.5Z" fill="#e85cb4" stroke="#d44aa2" stroke-width="0.7"/><ellipse cx="0.5" cy="0.5" rx="3.1" ry="2.3" fill="#5a4470"/><ellipse cx="0.5" cy="0.5" rx="1.6" ry="1.2" fill="#3d2f55"/></g>
<g transform="translate(442 104)"><path d="M-20,1.5C-11,1 -9,-9 0,-9C9,-9 11,-2.5 20,-2.5C11,-2 9,9 0,9C-9,9 -11,2 -20,1.5Z" fill="#e85cb4" stroke="#d44aa2" stroke-width="0.7"/><ellipse cx="-0.8" cy="2.6" rx="3.1" ry="2.3" fill="#5a4470"/><ellipse cx="-0.8" cy="2.6" rx="1.6" ry="1.2" fill="#3d2f55"/></g>
<g transform="translate(440.6 136)"><path d="M-20,1.5C-11,1 -9,-9 0,-9C9,-9 11,-2.5 20,-2.5C11,-2 9,9 0,9C-9,9 -11,2 -20,1.5Z" fill="#e85cb4" stroke="#d44aa2" stroke-width="0.7"/><ellipse cx="-1.3" cy="-4" rx="3.1" ry="2.3" fill="#5a4470"/><ellipse cx="-1.3" cy="-4" rx="1.6" ry="1.2" fill="#3d2f55"/></g>
<g transform="translate(438.9 163.6)"><path d="M-20,1.5C-11,1 -9,-9 0,-9C9,-9 11,-2.5 20,-2.5C11,-2 9,9 0,9C-9,9 -11,2 -20,1.5Z" fill="#e85cb4" stroke="#d44aa2" stroke-width="0.7"/><ellipse cx="0" cy="-0.4" rx="3.1" ry="2.3" fill="#5a4470"/><ellipse cx="0" cy="-0.4" rx="1.6" ry="1.2" fill="#3d2f55"/></g>
<g transform="translate(437 189.7) rotate(2)"><path d="M-20,1.5C-11,1 -9,-9 0,-9C9,-9 11,-2.5 20,-2.5C11,-2 9,9 0,9C-9,9 -11,2 -20,1.5Z" fill="#e85cb4" stroke="#d44aa2" stroke-width="0.7"/><ellipse cx="1" cy="4" rx="3.1" ry="2.3" fill="#5a4470"/><ellipse cx="1" cy="4" rx="1.6" ry="1.2" fill="#3d2f55"/></g>
<g transform="translate(435 227.5) rotate(6)"><path d="M-20,1.5C-11,1 -9,-9 0,-9C9,-9 11,-2.5 20,-2.5C11,-2 9,9 0,9C-9,9 -11,2 -20,1.5Z" fill="#e85cb4" stroke="#d44aa2" stroke-width="0.7"/><ellipse cx="0.7" cy="-1.5" rx="3.1" ry="2.3" fill="#5a4470"/><ellipse cx="0.7" cy="-1.5" rx="1.6" ry="1.2" fill="#3d2f55"/></g>
<g transform="translate(429 263) rotate(12)"><path d="M-20,1.5C-11,1 -9,-9 0,-9C9,-9 11,-2.5 20,-2.5C11,-2 9,9 0,9C-9,9 -11,2 -20,1.5Z" fill="#e85cb4" stroke="#d44aa2" stroke-width="0.7"/><ellipse cx="0" cy="-0.5" rx="3.1" ry="2.3" fill="#5a4470"/><ellipse cx="0" cy="-0.5" rx="1.6" ry="1.2" fill="#3d2f55"/></g>
<g transform="translate(499.6 85)"><path d="M-14,0.5C-8,0 -6,-6.3 0,-6.3C6,-6.3 8,-1 14,-0.5C8,0 6,6.3 0,6.3C-6,6.3 -8,1 -14,0.5Z" fill="#ea5fb6" stroke="#d44aa2" stroke-width="0.6"/><ellipse cx="0.5" cy="0.3" rx="2.8" ry="2" fill="#5a4470"/><ellipse cx="0.5" cy="0.3" rx="1.4" ry="1" fill="#3d2f55"/></g>
<g transform="translate(497.8 116.7)"><path d="M-14,0.5C-8,0 -6,-6.3 0,-6.3C6,-6.3 8,-1 14,-0.5C8,0 6,6.3 0,6.3C-6,6.3 -8,1 -14,0.5Z" fill="#ea5fb6" stroke="#d44aa2" stroke-width="0.6"/><ellipse cx="0.5" cy="0.3" rx="2.8" ry="2" fill="#5a4470"/><ellipse cx="0.5" cy="0.3" rx="1.4" ry="1" fill="#3d2f55"/></g>
<g transform="translate(502.9 144.4)"><path d="M-14,0.5C-8,0 -6,-6.3 0,-6.3C6,-6.3 8,-1 14,-0.5C8,0 6,6.3 0,6.3C-6,6.3 -8,1 -14,0.5Z" fill="#ea5fb6" stroke="#d44aa2" stroke-width="0.6"/><ellipse cx="0.5" cy="0.3" rx="2.8" ry="2" fill="#5a4470"/><ellipse cx="0.5" cy="0.3" rx="1.4" ry="1" fill="#3d2f55"/></g>
<g transform="translate(500.4 166.3)"><path d="M-14,0.5C-8,0 -6,-6.3 0,-6.3C6,-6.3 8,-1 14,-0.5C8,0 6,6.3 0,6.3C-6,6.3 -8,1 -14,0.5Z" fill="#ea5fb6" stroke="#d44aa2" stroke-width="0.6"/><ellipse cx="0.5" cy="0.3" rx="2.8" ry="2" fill="#5a4470"/><ellipse cx="0.5" cy="0.3" rx="1.4" ry="1" fill="#3d2f55"/></g>
<g transform="translate(500.9 197) rotate(3)"><path d="M-14,0.5C-8,0 -6,-6.3 0,-6.3C6,-6.3 8,-1 14,-0.5C8,0 6,6.3 0,6.3C-6,6.3 -8,1 -14,0.5Z" fill="#ea5fb6" stroke="#d44aa2" stroke-width="0.6"/><ellipse cx="0.5" cy="0.3" rx="2.8" ry="2" fill="#5a4470"/><ellipse cx="0.5" cy="0.3" rx="1.4" ry="1" fill="#3d2f55"/></g>
<g transform="translate(494.6 219.8) rotate(6)"><path d="M-14,0.5C-8,0 -6,-6.3 0,-6.3C6,-6.3 8,-1 14,-0.5C8,0 6,6.3 0,6.3C-6,6.3 -8,1 -14,0.5Z" fill="#ea5fb6" stroke="#d44aa2" stroke-width="0.6"/><ellipse cx="0.5" cy="0.3" rx="2.8" ry="2" fill="#5a4470"/><ellipse cx="0.5" cy="0.3" rx="1.4" ry="1" fill="#3d2f55"/></g>
<g transform="translate(490.8 246.8) rotate(10)"><path d="M-14,0.5C-8,0 -6,-6.3 0,-6.3C6,-6.3 8,-1 14,-0.5C8,0 6,6.3 0,6.3C-6,6.3 -8,1 -14,0.5Z" fill="#ea5fb6" stroke="#d44aa2" stroke-width="0.6"/><ellipse cx="0.5" cy="0.3" rx="2.8" ry="2" fill="#5a4470"/><ellipse cx="0.5" cy="0.3" rx="1.4" ry="1" fill="#3d2f55"/></g>
<g transform="translate(482 278.3) rotate(16)"><path d="M-14,0.5C-8,0 -6,-6.3 0,-6.3C6,-6.3 8,-1 14,-0.5C8,0 6,6.3 0,6.3C-6,6.3 -8,1 -14,0.5Z" fill="#ea5fb6" stroke="#d44aa2" stroke-width="0.6"/><ellipse cx="0.5" cy="0.3" rx="2.8" ry="2" fill="#5a4470"/><ellipse cx="0.5" cy="0.3" rx="1.4" ry="1" fill="#3d2f55"/></g>
<g transform="translate(470 301) rotate(22)"><path d="M-14,0.5C-8,0 -6,-6.3 0,-6.3C6,-6.3 8,-1 14,-0.5C8,0 6,6.3 0,6.3C-6,6.3 -8,1 -14,0.5Z" fill="#ea5fb6" stroke="#d44aa2" stroke-width="0.6"/><ellipse cx="0.5" cy="0.3" rx="2.8" ry="2" fill="#5a4470"/><ellipse cx="0.5" cy="0.3" rx="1.4" ry="1" fill="#3d2f55"/></g>
<g transform="translate(565.6 80) scale(1 1.32)"><path d="M-6,0L-21,0M-23.6,-3.4L-21,0L-23.6,3.4" fill="none" stroke="#a9abae" stroke-width="1.5" stroke-linecap="round"/><path d="M-6.5,0C-6.5,-5.2 5.5,-5 7.5,-2.2C9,-1.3 10,-3.5 13,-3.6L33.2,-3.3C37.2,-3.3 37.2,3.3 33.2,3.3L13,3.6C10,3.5 9,1.3 7.5,2.2C5.5,5 -6.5,5.2 -6.5,0Z" fill="#b4b4b6"/><ellipse cx="0" cy="0" rx="3.6" ry="2.9" fill="#7b7f8a"/><ellipse cx="0" cy="0" rx="2.5" ry="2" fill="#3a3f4c"/></g>
<g transform="translate(565.6 94.4) scale(1 1.32)"><path d="M-6,0L-21,0M-23.6,-3.4L-21,0L-23.6,3.4" fill="none" stroke="#a9abae" stroke-width="1.5" stroke-linecap="round"/><path d="M-6.5,0C-6.5,-5.2 5.5,-5 7.5,-2.2C9,-1.3 10,-3.5 13,-3.6L33.7,-3.3C37.7,-3.3 37.7,3.3 33.7,3.3L13,3.6C10,3.5 9,1.3 7.5,2.2C5.5,5 -6.5,5.2 -6.5,0Z" fill="#b4b4b6"/><ellipse cx="0" cy="0" rx="3.6" ry="2.9" fill="#7b7f8a"/><ellipse cx="0" cy="0" rx="2.5" ry="2" fill="#3a3f4c"/></g>
<g transform="translate(565.6 110.4) scale(1 1.32)"><path d="M-6,0L-21,0M-23.6,-3.4L-21,0L-23.6,3.4" fill="none" stroke="#a9abae" stroke-width="1.5" stroke-linecap="round"/><path d="M-6.5,0C-6.5,-5.2 5.5,-5 7.5,-2.2C9,-1.3 10,-3.5 13,-3.6L34.2,-3.3C38.2,-3.3 38.2,3.3 34.2,3.3L13,3.6C10,3.5 9,1.3 7.5,2.2C5.5,5 -6.5,5.2 -6.5,0Z" fill="#b4b4b6"/><ellipse cx="0" cy="0" rx="3.6" ry="2.9" fill="#7b7f8a"/><ellipse cx="0" cy="0" rx="2.5" ry="2" fill="#3a3f4c"/></g>
<g transform="translate(565.6 125) scale(1 1.32)"><path d="M-6,0L-21,0M-23.6,-3.4L-21,0L-23.6,3.4" fill="none" stroke="#a9abae" stroke-width="1.5" stroke-linecap="round"/><path d="M-6.5,0C-6.5,-5.2 5.5,-5 7.5,-2.2C9,-1.3 10,-3.5 13,-3.6L34.7,-3.3C38.7,-3.3 38.7,3.3 34.7,3.3L13,3.6C10,3.5 9,1.3 7.5,2.2C5.5,5 -6.5,5.2 -6.5,0Z" fill="#b4b4b6"/><ellipse cx="0" cy="0" rx="3.6" ry="2.9" fill="#7b7f8a"/><ellipse cx="0" cy="0" rx="2.5" ry="2" fill="#3a3f4c"/></g>
<g transform="translate(565.6 139) scale(1 1.32)"><path d="M-6,0L-21,0M-23.6,-3.4L-21,0L-23.6,3.4" fill="none" stroke="#a9abae" stroke-width="1.5" stroke-linecap="round"/><path d="M-6.5,0C-6.5,-5.2 5.5,-5 7.5,-2.2C9,-1.3 10,-3.5 13,-3.6L34.7,-3.3C38.7,-3.3 38.7,3.3 34.7,3.3L13,3.6C10,3.5 9,1.3 7.5,2.2C5.5,5 -6.5,5.2 -6.5,0Z" fill="#b4b4b6"/><ellipse cx="0" cy="0" rx="3.6" ry="2.9" fill="#7b7f8a"/><ellipse cx="0" cy="0" rx="2.5" ry="2" fill="#3a3f4c"/></g>
<g transform="translate(565.6 154) scale(1 1.32)"><path d="M-6,0L-21,0M-23.6,-3.4L-21,0L-23.6,3.4" fill="none" stroke="#a9abae" stroke-width="1.5" stroke-linecap="round"/><path d="M-6.5,0C-6.5,-5.2 5.5,-5 7.5,-2.2C9,-1.3 10,-3.5 13,-3.6L33.7,-3.3C37.7,-3.3 37.7,3.3 33.7,3.3L13,3.6C10,3.5 9,1.3 7.5,2.2C5.5,5 -6.5,5.2 -6.5,0Z" fill="#b4b4b6"/><ellipse cx="0" cy="0" rx="3.6" ry="2.9" fill="#7b7f8a"/><ellipse cx="0" cy="0" rx="2.5" ry="2" fill="#3a3f4c"/></g>
<g transform="translate(565.6 167.5) scale(1 1.32)"><path d="M-6,0L-21,0M-23.6,-3.4L-21,0L-23.6,3.4" fill="none" stroke="#a9abae" stroke-width="1.5" stroke-linecap="round"/><path d="M-6.5,0C-6.5,-5.2 5.5,-5 7.5,-2.2C9,-1.3 10,-3.5 13,-3.6L32.7,-3.3C36.7,-3.3 36.7,3.3 32.7,3.3L13,3.6C10,3.5 9,1.3 7.5,2.2C5.5,5 -6.5,5.2 -6.5,0Z" fill="#b4b4b6"/><ellipse cx="0" cy="0" rx="3.6" ry="2.9" fill="#7b7f8a"/><ellipse cx="0" cy="0" rx="2.5" ry="2" fill="#3a3f4c"/></g>
<g transform="translate(565.6 182.5) scale(1 1.32)"><path d="M-6,0L-21,0M-23.6,-3.4L-21,0L-23.6,3.4" fill="none" stroke="#a9abae" stroke-width="1.5" stroke-linecap="round"/><path d="M-6.5,0C-6.5,-5.2 5.5,-5 7.5,-2.2C9,-1.3 10,-3.5 13,-3.6L31.5,-3.3C35.5,-3.3 35.5,3.3 31.5,3.3L13,3.6C10,3.5 9,1.3 7.5,2.2C5.5,5 -6.5,5.2 -6.5,0Z" fill="#b4b4b6"/><ellipse cx="0" cy="0" rx="3.6" ry="2.9" fill="#7b7f8a"/><ellipse cx="0" cy="0" rx="2.5" ry="2" fill="#3a3f4c"/></g>
<g transform="translate(554 244) rotate(9) scale(1 1.32)"><path d="M-6,0L-21,0M-23.6,-3.4L-21,0L-23.6,3.4" fill="none" stroke="#a9abae" stroke-width="1.5" stroke-linecap="round"/><path d="M-6.5,0C-6.5,-5.2 5.5,-5 7.5,-2.2C9,-1.3 10,-3.5 13,-3.6L33.7,-3.3C37.7,-3.3 37.7,3.3 33.7,3.3L13,3.6C10,3.5 9,1.3 7.5,2.2C5.5,5 -6.5,5.2 -6.5,0Z" fill="#b4b4b6"/><ellipse cx="0" cy="0" rx="3.6" ry="2.9" fill="#7b7f8a"/><ellipse cx="0" cy="0" rx="2.5" ry="2" fill="#3a3f4c"/></g>
<g transform="translate(550 259) rotate(11) scale(1 1.32)"><path d="M-6,0L-21,0M-23.6,-3.4L-21,0L-23.6,3.4" fill="none" stroke="#a9abae" stroke-width="1.5" stroke-linecap="round"/><path d="M-6.5,0C-6.5,-5.2 5.5,-5 7.5,-2.2C9,-1.3 10,-3.5 13,-3.6L34.2,-3.3C38.2,-3.3 38.2,3.3 34.2,3.3L13,3.6C10,3.5 9,1.3 7.5,2.2C5.5,5 -6.5,5.2 -6.5,0Z" fill="#b4b4b6"/><ellipse cx="0" cy="0" rx="3.6" ry="2.9" fill="#7b7f8a"/><ellipse cx="0" cy="0" rx="2.5" ry="2" fill="#3a3f4c"/></g>
<g transform="translate(546 275) rotate(12) scale(1 1.32)"><path d="M-6,0L-21,0M-23.6,-3.4L-21,0L-23.6,3.4" fill="none" stroke="#a9abae" stroke-width="1.5" stroke-linecap="round"/><path d="M-6.5,0C-6.5,-5.2 5.5,-5 7.5,-2.2C9,-1.3 10,-3.5 13,-3.6L34.2,-3.3C38.2,-3.3 38.2,3.3 34.2,3.3L13,3.6C10,3.5 9,1.3 7.5,2.2C5.5,5 -6.5,5.2 -6.5,0Z" fill="#b4b4b6"/><ellipse cx="0" cy="0" rx="3.6" ry="2.9" fill="#7b7f8a"/><ellipse cx="0" cy="0" rx="2.5" ry="2" fill="#3a3f4c"/></g>
<g transform="translate(541 292.5) rotate(13) scale(1 1.32)"><path d="M-6,0L-21,0M-23.6,-3.4L-21,0L-23.6,3.4" fill="none" stroke="#a9abae" stroke-width="1.5" stroke-linecap="round"/><path d="M-6.5,0C-6.5,-5.2 5.5,-5 7.5,-2.2C9,-1.3 10,-3.5 13,-3.6L34.2,-3.3C38.2,-3.3 38.2,3.3 34.2,3.3L13,3.6C10,3.5 9,1.3 7.5,2.2C5.5,5 -6.5,5.2 -6.5,0Z" fill="#b4b4b6"/><ellipse cx="0" cy="0" rx="3.6" ry="2.9" fill="#7b7f8a"/><ellipse cx="0" cy="0" rx="2.5" ry="2" fill="#3a3f4c"/></g>
<g transform="translate(536 306) rotate(15) scale(1 1.32)"><path d="M-6,0L-20,0M-22.6,-3.4L-20,0L-22.6,3.4" fill="none" stroke="#a9abae" stroke-width="1.5" stroke-linecap="round"/><path d="M-6.5,0C-6.5,-5.2 5.5,-5 7.5,-2.2C9,-1.3 10,-3.5 13,-3.6L35.2,-3.3C39.2,-3.3 39.2,3.3 35.2,3.3L13,3.6C10,3.5 9,1.3 7.5,2.2C5.5,5 -6.5,5.2 -6.5,0Z" fill="#b4b4b6"/><ellipse cx="0" cy="0" rx="3.6" ry="2.9" fill="#7b7f8a"/><ellipse cx="0" cy="0" rx="2.5" ry="2" fill="#3a3f4c"/></g>
<g transform="translate(530 320) rotate(18) scale(1 1.32)"><path d="M-6,0L-20,0M-22.6,-3.4L-20,0L-22.6,3.4" fill="none" stroke="#a9abae" stroke-width="1.5" stroke-linecap="round"/><path d="M-6.5,0C-6.5,-5.2 5.5,-5 7.5,-2.2C9,-1.3 10,-3.5 13,-3.6L36.5,-3.3C40.5,-3.3 40.5,3.3 36.5,3.3L13,3.6C10,3.5 9,1.3 7.5,2.2C5.5,5 -6.5,5.2 -6.5,0Z" fill="#b4b4b6"/><ellipse cx="0" cy="0" rx="3.6" ry="2.9" fill="#7b7f8a"/><ellipse cx="0" cy="0" rx="2.5" ry="2" fill="#3a3f4c"/></g>
<g transform="translate(524 334.5) rotate(21) scale(1 1.32)"><path d="M-6,0L-19,0M-21.6,-3.4L-19,0L-21.6,3.4" fill="none" stroke="#a9abae" stroke-width="1.5" stroke-linecap="round"/><path d="M-6.5,0C-6.5,-5.2 5.5,-5 7.5,-2.2C9,-1.3 10,-3.5 13,-3.6L37.5,-3.3C41.5,-3.3 41.5,3.3 37.5,3.3L13,3.6C10,3.5 9,1.3 7.5,2.2C5.5,5 -6.5,5.2 -6.5,0Z" fill="#b4b4b6"/><ellipse cx="0" cy="0" rx="3.6" ry="2.9" fill="#7b7f8a"/><ellipse cx="0" cy="0" rx="2.5" ry="2" fill="#3a3f4c"/></g>
<g transform="translate(515 347) rotate(23) scale(1 1.32)"><path d="M-6,0L-18,0M-20.6,-3.4L-18,0L-20.6,3.4" fill="none" stroke="#a9abae" stroke-width="1.5" stroke-linecap="round"/><path d="M-6.5,0C-6.5,-5.2 5.5,-5 7.5,-2.2C9,-1.3 10,-3.5 13,-3.6L41.7,-3.3C45.7,-3.3 45.7,3.3 41.7,3.3L13,3.6C10,3.5 9,1.3 7.5,2.2C5.5,5 -6.5,5.2 -6.5,0Z" fill="#b4b4b6"/><ellipse cx="0" cy="0" rx="3.6" ry="2.9" fill="#7b7f8a"/><ellipse cx="0" cy="0" rx="2.5" ry="2" fill="#3a3f4c"/></g>
<g transform="translate(605.9 60.7) rotate(0.1)"><rect x="-6.6" y="-6.3" width="13.1" height="12.7" rx="3.4" fill="#f6ad72" stroke="#e3823f" stroke-width="1.1"/><circle cx="0.5" cy="0" r="2" fill="#d9702f"/></g>
<g transform="translate(606 73.6) rotate(-0.7)"><rect x="-6.5" y="-6.3" width="13.1" height="12.7" rx="3.4" fill="#f6ad72" stroke="#e3823f" stroke-width="1.1"/><circle cx="0.5" cy="0" r="2" fill="#d9702f"/></g>
<g transform="translate(606.2 86.5) rotate(-1.6)"><rect x="-6.5" y="-6.3" width="13" height="12.7" rx="3.4" fill="#f6ad72" stroke="#e3823f" stroke-width="1.1"/><circle cx="0.5" cy="0" r="2" fill="#d9702f"/></g>
<g transform="translate(606.6 99.4) rotate(-1.8)"><rect x="-6.4" y="-6.3" width="12.8" height="12.7" rx="3.4" fill="#f6ad72" stroke="#e3823f" stroke-width="1.1"/><circle cx="0.5" cy="0" r="2" fill="#d9702f"/></g>
<g transform="translate(607 112.3) rotate(-1.6)"><rect x="-6.4" y="-6.3" width="12.7" height="12.7" rx="3.4" fill="#f6ad72" stroke="#e3823f" stroke-width="1.1"/><circle cx="0.5" cy="0" r="2" fill="#d9702f"/></g>
<g transform="translate(607.3 125.2) rotate(-0.8)"><rect x="-6.3" y="-6.3" width="12.6" height="12.7" rx="3.4" fill="#f6ad72" stroke="#e3823f" stroke-width="1.1"/><circle cx="0.5" cy="0" r="2" fill="#d9702f"/></g>
<g transform="translate(607.3 138.1) rotate(1.3)"><rect x="-6.3" y="-6.3" width="12.6" height="12.7" rx="3.4" fill="#f6ad72" stroke="#e3823f" stroke-width="1.1"/><circle cx="0.5" cy="0" r="2" fill="#d9702f"/></g>
<g transform="translate(606.7 151) rotate(3.6)"><rect x="-6.4" y="-6.3" width="12.8" height="12.7" rx="3.4" fill="#f6ad72" stroke="#e3823f" stroke-width="1.1"/><circle cx="0.5" cy="0" r="2" fill="#d9702f"/></g>
<g transform="translate(605.9 163.8) rotate(3.3)"><rect x="-6.5" y="-6.3" width="13" height="12.7" rx="3.4" fill="#f6ad72" stroke="#e3823f" stroke-width="1.1"/><circle cx="0.5" cy="0" r="2" fill="#d9702f"/></g>
<g transform="translate(605.1 176.7) rotate(4.1)"><rect x="-6.7" y="-6.3" width="13.4" height="12.7" rx="3.4" fill="#f6ad72" stroke="#e3823f" stroke-width="1.1"/><circle cx="0.5" cy="0" r="2" fill="#d9702f"/></g>
<g transform="translate(604 189.6) rotate(5.7)"><rect x="-6.8" y="-6.3" width="13.7" height="12.7" rx="3.4" fill="#f6ad72" stroke="#e3823f" stroke-width="1.1"/><circle cx="0.5" cy="0" r="2" fill="#d9702f"/></g>
<g transform="translate(602.5 202.4) rotate(7.9)"><rect x="-6.8" y="-6.3" width="13.7" height="12.7" rx="3.4" fill="#f6ad72" stroke="#e3823f" stroke-width="1.1"/><circle cx="0.5" cy="0" r="2" fill="#d9702f"/></g>
<g transform="translate(600.6 215.1) rotate(8.6)"><rect x="-6.8" y="-6.3" width="13.6" height="12.7" rx="3.4" fill="#f6ad72" stroke="#e3823f" stroke-width="1.1"/><circle cx="0.5" cy="0" r="2" fill="#d9702f"/></g>
<g transform="translate(598.6 227.9) rotate(9.5)"><rect x="-6.6" y="-6.3" width="13.3" height="12.7" rx="3.4" fill="#f6ad72" stroke="#e3823f" stroke-width="1.1"/><circle cx="0.5" cy="0" r="2" fill="#d9702f"/></g>
<g transform="translate(596.4 240.6) rotate(10.6)"><rect x="-6.5" y="-6.3" width="13.1" height="12.7" rx="3.4" fill="#f6ad72" stroke="#e3823f" stroke-width="1.1"/><circle cx="0.5" cy="0" r="2" fill="#d9702f"/></g>
<g transform="translate(593.9 253.2) rotate(11.8)"><rect x="-6.6" y="-6.3" width="13.3" height="12.7" rx="3.4" fill="#f6ad72" stroke="#e3823f" stroke-width="1.1"/><circle cx="0.5" cy="0" r="2" fill="#d9702f"/></g>
<g transform="translate(591.1 265.8) rotate(12.9)"><rect x="-6.8" y="-6.3" width="13.7" height="12.7" rx="3.4" fill="#f6ad72" stroke="#e3823f" stroke-width="1.1"/><circle cx="0.5" cy="0" r="2" fill="#d9702f"/></g>
<g transform="translate(588.2 278.4) rotate(14)"><rect x="-7" y="-6.3" width="14" height="12.7" rx="3.4" fill="#f6ad72" stroke="#e3823f" stroke-width="1.1"/><circle cx="0.5" cy="0" r="2" fill="#d9702f"/></g>
<g transform="translate(584.9 290.9) rotate(15.4)"><rect x="-7.1" y="-6.3" width="14.2" height="12.7" rx="3.4" fill="#f6ad72" stroke="#e3823f" stroke-width="1.1"/><circle cx="0.5" cy="0" r="2" fill="#d9702f"/></g>
<g transform="translate(581.3 303.3) rotate(17.1)"><rect x="-7" y="-6.3" width="14" height="12.7" rx="3.4" fill="#f6ad72" stroke="#e3823f" stroke-width="1.1"/><circle cx="0.5" cy="0" r="2" fill="#d9702f"/></g>
<g transform="translate(577.4 315.6) rotate(17.9)"><rect x="-6.9" y="-6.3" width="13.7" height="12.7" rx="3.4" fill="#f6ad72" stroke="#e3823f" stroke-width="1.1"/><circle cx="0.5" cy="0" r="2" fill="#d9702f"/></g>
<g transform="translate(573.4 327.8) rotate(17.9)"><rect x="-6.8" y="-6.3" width="13.5" height="12.7" rx="3.4" fill="#f6ad72" stroke="#e3823f" stroke-width="1.1"/><circle cx="0.5" cy="0" r="2" fill="#d9702f"/></g>
<g transform="translate(569.6 340.1) rotate(17.4)"><rect x="-7.1" y="-6.3" width="14.1" height="12.7" rx="3.4" fill="#f6ad72" stroke="#e3823f" stroke-width="1.1"/><circle cx="0.5" cy="0" r="2" fill="#d9702f"/></g>
<g transform="translate(565.6 352.4) rotate(18.4)"><rect x="-7.1" y="-6.3" width="14.2" height="12.7" rx="3.4" fill="#f6ad72" stroke="#e3823f" stroke-width="1.1"/><circle cx="0.5" cy="0" r="2" fill="#d9702f"/></g>
<g transform="translate(561.5 364.6) rotate(18.9)"><rect x="-7.1" y="-6.3" width="14.2" height="12.7" rx="3.4" fill="#f6ad72" stroke="#e3823f" stroke-width="1.1"/><circle cx="0.5" cy="0" r="2" fill="#d9702f"/></g>
<g transform="translate(562.6 198) rotate(5) scale(1.04 1.1)"><path d="M-16,0L-21,0M-21,0L-24.5,-1.5M-21,0L-22,-8M-21,0L-23.5,3.5M-21,0L-25,1" fill="none" stroke="#23a330" stroke-width="1.7" stroke-linecap="round"/><path d="M-17,-1.2C-10,-1.5 -7,-5.2 0,-5.2C7,-5.2 10,-2.6 15,-2.2C18,-2.2 19,-5.5 22,-5.5C27,-4 34,-1 39.5,1C33,2.4 27,4.5 22,5.6C19,5.6 18,2.6 15,2.4C10,2.6 7,5.2 0,5.2C-7,5.2 -10,1.5 -17,1.2Z" fill="#23a330" stroke="#167f22" stroke-width="0.8" stroke-linejoin="round"/><ellipse cx="0" cy="0" rx="3" ry="2.5" fill="#1d1d2a"/></g>
<g transform="translate(560.4 212.6) rotate(6) scale(1.04 1.1)"><path d="M-16,0L-21,0M-21,0L-24.5,-1.5M-21,0L-22,-8M-21,0L-23.5,3.5M-21,0L-25,1" fill="none" stroke="#c5232c" stroke-width="1.7" stroke-linecap="round"/><path d="M-17,-1.2C-10,-1.5 -7,-5.2 0,-5.2C7,-5.2 10,-2.6 15,-2.2C18,-2.2 19,-5.5 22,-5.5C27,-4 34,-1 39.5,1C33,2.4 27,4.5 22,5.6C19,5.6 18,2.6 15,2.4C10,2.6 7,5.2 0,5.2C-7,5.2 -10,1.5 -17,1.2Z" fill="#c5232c" stroke="#98181f" stroke-width="0.8" stroke-linejoin="round"/><ellipse cx="0" cy="0" rx="3" ry="2.5" fill="#1d1d2a"/></g>
<g transform="translate(556 229.3) rotate(7) scale(1.04 1.1)"><path d="M-16,0L-21,0M-21,0L-24.5,-1.5M-21,0L-22,-8M-21,0L-23.5,3.5M-21,0L-25,1" fill="none" stroke="#1f60e2" stroke-width="1.7" stroke-linecap="round"/><path d="M-17,-1.2C-10,-1.5 -7,-5.2 0,-5.2C7,-5.2 10,-2.6 15,-2.2C18,-2.2 19,-5.5 22,-5.5C27,-4 34,-1 39.5,1C33,2.4 27,4.5 22,5.6C19,5.6 18,2.6 15,2.4C10,2.6 7,5.2 0,5.2C-7,5.2 -10,1.5 -17,1.2Z" fill="#1f60e2" stroke="#1546b0" stroke-width="0.8" stroke-linejoin="round"/><ellipse cx="0" cy="0" rx="3" ry="2.5" fill="#1d1d2a"/></g>
<path d="M401,40 L401,43 L401.1,45.9 L401.1,48.8 L401.1,51.7 L401.2,54.6 L401.2,57.5 L401.2,60.5 L401.2,63.6 L401.3,66.7 L401.3,70 L401.3,73.4 L401.3,77 L401.3,80.6 L401.4,84.3 L401.4,88.1 L401.4,91.9 L401.4,95.8 L401.4,99.6 L401.5,103.3 L401.5,107 L401.6,110.7 L401.6,114.5 L401.7,118.4 L401.8,122.2 L401.9,126.1 L402,129.8 L402.1,133.4 L402.2,136.8 L402.3,140.1 L402.3,143 L402.3,145.7 L402.3,148.1 L402.3,150.2 L402.3,152.2 L402.2,154.1 L402.2,155.9 L402.1,157.7 L402,159.4 L401.9,161.2 L401.8,163 L401.7,164.9 L401.5,166.8 L401.3,168.6 L401.1,170.4 L400.9,172.2 L400.7,174 L400.4,175.8 L400.2,177.6 L400,179.3 L399.8,181 L399.6,182.6 L399.5,184.2 L399.3,185.7 L399.2,187.1 L399,188.6 L398.9,190.1 L398.7,191.6 L398.4,193.3 L398.2,195.1 L397.8,197 L397.4,199.1 L396.8,201.5 L396.3,203.9 L395.6,206.5 L395,209.1 L394.3,211.7 L393.7,214.3 L393,216.8 L392.5,219.3 L392,221.5 L391.6,223.6 L391.2,225.6 L390.9,227.6 L390.5,229.5 L390.2,231.3 L390,233.1 L389.7,234.9 L389.5,236.6 L389.2,238.3 L389,240 L388.8,241.6 L388.6,243.2 L388.4,244.8 L388.2,246.3 L388,247.7 L387.9,249.2 L387.7,250.6 L387.6,252.1 L387.4,253.5 L387.3,255 L387.2,256.5 L387.1,258 L387,259.5 L386.9,261 L386.8,262.6 L386.7,264.1 L386.7,265.6 L386.6,267.1 L386.5,268.5 L386.5,270 L386.5,271.4 L386.4,272.9 L386.4,274.3 L386.3,275.8 L386.3,277.2 L386.3,278.6 L386.3,280 L386.4,281.3 L386.4,282.7 L386.5,284 L386.6,285.3 L386.7,286.6 L386.8,287.8 L387,289.1 L387.1,290.3 L387.3,291.5 L387.6,292.7 L387.8,293.8 L388.1,294.9 L388.5,296 L388.9,297 L389.3,298 L389.8,299 L390.3,299.9 L390.9,300.8 L391.4,301.7 L392.1,302.6 L392.8,303.5 L393.6,304.4 L394.4,305.3 L395.3,306.2 L396.3,307.1 L397.3,308.1 L398.4,309 L399.6,309.9 L400.8,310.8 L402,311.8 L403.3,312.7 L404.6,313.6 L406,314.5 L407.4,315.4 L408.9,316.3 L410.4,317.2 L412,318.1 L413.6,319 L415.2,319.9 L416.9,320.8 L418.6,321.7 L420.3,322.6 L422,323.5 L423.6,324.4 L425.1,325.2 L426.6,326 L428,326.8 L429.5,327.6 L431.1,328.5 L432.9,329.4 L435,330.4 L437.3,331.5 L440,332.8 L443,334.2 L446.3,335.6 L449.8,337.2 L453.5,338.8 L457.4,340.5 L461.5,342.3 L465.8,344.1 L470.4,346 L475.1,348 L480,350 L485.2,352.1 L490.7,354.4 L496.5,356.7 L502.6,359.1 L508.8,361.6 L515,364.1 L521.4,366.6 L527.7,369.1 L533.9,371.6 L540,374 L546,376.4 L552,378.8 L558,381.2 L564,383.6 L570,386 L576,388.4 L582,390.8 L588,393.2 L594,395.6 L600,398 L606.1,400.4 L612.3,402.9 L618.6,405.5 L625,408 L631.2,410.5 L637.4,413 L643.5,415.4 L649.3,417.7 L654.8,419.9 L660,422 L664.8,423.9 L669.3,425.7 L673.5,427.4 L677.4,429 L681.2,430.5 L685,432 L688.6,433.5 L692.3,434.9 L696.1,436.4 L700,438 L706,422.5 L702.2,420.8 L698.5,419.1 L694.8,417.5 L691.2,415.9 L687.6,414.3 L683.9,412.6 L680,410.9 L675.8,409 L671.4,407.1 L666.7,405 L661.6,402.7 L656.1,400.3 L650.4,397.8 L644.4,395.2 L638.3,392.5 L632.1,389.8 L625.8,387.1 L619.6,384.3 L613.4,381.6 L607.4,379 L601.5,376.4 L595.5,373.8 L589.6,371.1 L583.7,368.5 L577.7,365.9 L571.8,363.3 L565.8,360.7 L559.9,358.1 L553.9,355.5 L548,353 L542,350.5 L535.8,348 L529.5,345.5 L523.3,343 L517,340.5 L510.9,338.1 L504.9,335.7 L499.2,333.4 L493.7,331.2 L488.5,329 L483.6,326.9 L478.8,324.8 L474.2,322.7 L469.8,320.7 L465.6,318.7 L461.7,316.8 L457.9,315.1 L454.5,313.4 L451.3,311.9 L448.5,310.5 L446.1,309.3 L444,308.3 L442.4,307.4 L441,306.6 L439.8,305.9 L438.8,305.3 L437.9,304.7 L437,304.2 L436,303.6 L435,303 L433.9,302.4 L432.9,301.8 L431.9,301.3 L430.9,300.8 L430,300.3 L429.2,299.8 L428.3,299.4 L427.5,298.9 L426.8,298.5 L426,298 L425.3,297.5 L424.6,297.1 L423.9,296.6 L423.3,296.2 L422.7,295.8 L422.1,295.3 L421.5,294.9 L421,294.5 L420.5,294 L420,293.5 L419.5,293 L419.1,292.5 L418.7,292 L418.3,291.4 L418,290.9 L417.7,290.4 L417.4,289.8 L417.1,289.2 L416.8,288.6 L416.5,288 L416.2,287.4 L416,286.8 L415.8,286.1 L415.5,285.5 L415.3,284.8 L415.2,284.2 L415,283.4 L414.8,282.7 L414.7,281.9 L414.5,281 L414.4,280.1 L414.2,279.1 L414.1,278.1 L413.9,277.1 L413.8,276 L413.7,274.9 L413.6,273.7 L413.6,272.5 L413.5,271.3 L413.5,270 L413.5,268.7 L413.5,267.3 L413.6,265.8 L413.7,264.3 L413.8,262.8 L413.9,261.2 L414,259.6 L414.2,258.1 L414.3,256.5 L414.5,255 L414.7,253.5 L414.9,252.1 L415.1,250.6 L415.4,249.2 L415.7,247.7 L415.9,246.3 L416.2,244.8 L416.5,243.2 L416.7,241.6 L417,240 L417.3,238.3 L417.5,236.6 L417.8,234.9 L418,233.1 L418.3,231.3 L418.5,229.5 L418.8,227.6 L419,225.6 L419.3,223.6 L419.5,221.5 L419.7,219.3 L420,216.8 L420.2,214.3 L420.4,211.7 L420.6,209.1 L420.8,206.5 L421,203.9 L421.2,201.5 L421.4,199.1 L421.5,197 L421.6,195.1 L421.7,193.3 L421.8,191.6 L421.9,190.1 L422,188.6 L422.1,187.1 L422.1,185.7 L422.2,184.2 L422.2,182.6 L422.3,181 L422.4,179.3 L422.4,177.6 L422.5,175.8 L422.5,174 L422.5,172.2 L422.6,170.4 L422.6,168.6 L422.6,166.8 L422.7,164.9 L422.7,163 L422.7,161.2 L422.7,159.4 L422.8,157.7 L422.8,155.9 L422.8,154.1 L422.8,152.2 L422.8,150.2 L422.8,148.1 L422.8,145.7 L422.8,143 L422.8,140.1 L422.8,136.8 L422.8,133.4 L422.8,129.8 L422.8,126.1 L422.8,122.2 L422.8,118.4 L422.8,114.5 L422.8,110.7 L422.8,107 L422.8,103.3 L422.8,99.6 L422.8,95.8 L422.7,91.9 L422.7,88.1 L422.7,84.3 L422.7,80.6 L422.6,77 L422.6,73.4 L422.6,70 L422.6,66.7 L422.6,63.6 L422.6,60.5 L422.6,57.5 L422.5,54.6 L422.5,51.7 L422.5,48.8 L422.5,45.9 L422.5,43 L422.5,40Z" fill="#f8d676"/>
<path d="M416.9,40 L417,43 L417,45.9 L417,48.8 L417,51.7 L417,54.6 L417,57.5 L417,60.5 L417,63.6 L417,66.7 L417.1,70 L417.1,73.4 L417.1,77 L417.1,80.6 L417.1,84.3 L417.2,88.1 L417.2,91.9 L417.2,95.8 L417.2,99.6 L417.2,103.3 L417.2,107 L417.3,110.7 L417.3,114.5 L417.3,118.4 L417.3,122.2 L417.3,126.1 L417.3,129.8 L417.3,133.4 L417.3,136.8 L417.3,140.1 L417.2,143 L417.2,145.7 L417.2,148.1 L417.2,150.2 L417.2,152.2 L417.2,154.1 L417.2,155.9 L417.2,157.7 L417.2,159.4 L417.2,161.2 L417.1,163 L417.1,164.9 L417.1,166.8 L417.1,168.6 L417,170.4 L417,172.2 L417,174 L416.9,175.8 L416.9,177.6 L416.8,179.3 L416.8,181 L416.7,182.6 L416.6,184.2 L416.6,185.7 L416.5,187.1 L416.4,188.6 L416.4,190.1 L416.3,191.6 L416.2,193.3 L416.1,195.1 L415.9,197 L415.8,199.1 L415.6,201.5 L415.5,203.9 L415.3,206.5 L415.1,209.1 L414.8,211.7 L414.6,214.3 L414.4,216.8 L414.2,219.3 L413.9,221.5 L413.7,223.6 L413.5,225.6 L413.2,227.6 L413,229.5 L412.7,231.3 L412.5,233.1 L412.2,234.9 L412,236.6 L411.7,238.3 L411.4,240 L411.2,241.6 L410.9,243.2 L410.7,244.8 L410.4,246.3 L410.1,247.7 L409.8,249.2 L409.6,250.6 L409.4,252.1 L409.1,253.5 L408.9,255 L408.8,256.5 L408.6,258.1 L408.5,259.6 L408.3,261.2 L408.2,262.7 L408.1,264.2 L408.1,265.7 L408,267.2 L408,268.6 L407.9,270 L408,271.3 L408,272.6 L408.1,273.8 L408.2,275.1 L408.3,276.2 L408.4,277.4 L408.5,278.5 L408.7,279.6 L408.8,280.6 L409,281.6 L409.1,282.5 L409.3,283.4 L409.5,284.3 L409.7,285.1 L409.9,285.9 L410.1,286.7 L410.4,287.4 L410.6,288.1 L410.9,288.8 L411.2,289.5 L411.5,290.2 L411.8,290.9 L412.1,291.5 L412.5,292.2 L412.8,292.8 L413.3,293.4 L413.7,294 L414.2,294.6 L414.7,295.1 L415.2,295.7 L415.8,296.3 L416.4,296.8 L417.1,297.3 L417.7,297.8 L418.5,298.4 L419.2,298.9 L420,299.4 L420.8,299.9 L421.6,300.4 L422.5,300.9 L423.4,301.4 L424.4,301.9 L425.3,302.4 L426.3,302.8 L427.4,303.3 L428.5,303.8 L429.6,304.3 L430.7,304.8 L431.9,305.4 L433.1,305.9 L434.3,306.5 L435.4,307 L436.4,307.5 L437.4,308 L438.5,308.6 L439.8,309.3 L441.2,310.1 L442.9,311 L445,312 L447.4,313.3 L450.3,314.6 L453.5,316.2 L456.9,317.8 L460.6,319.6 L464.6,321.5 L468.8,323.4 L473.2,325.4 L477.7,327.5 L482.5,329.6 L487.4,331.7 L492.6,333.9 L498.1,336.2 L503.8,338.5 L509.8,340.8 L516,343.3 L522.2,345.7 L528.5,348.2 L534.7,350.7 L540.9,353.2 L546.9,355.8 L552.9,358.3 L558.8,360.8 L564.8,363.4 L570.7,366 L576.7,368.6 L582.6,371.3 L588.5,373.9 L594.5,376.5 L600.4,379.1 L606.3,381.7 L612.4,384.4 L618.5,387.1 L624.8,389.8 L631,392.6 L637.2,395.3 L643.3,398 L649.3,400.6 L655,403.1 L660.5,405.6 L665.6,407.8 L670.3,409.9 L674.7,411.9 L678.8,413.7 L682.7,415.5 L686.5,417.2 L690.1,418.8 L693.7,420.4 L697.3,422.1 L701,423.7 L704.9,425.4 L704,427.6 L700.2,425.9 L696.5,424.2 L692.8,422.6 L689.2,421 L685.6,419.4 L681.8,417.7 L677.9,416 L673.8,414.2 L669.4,412.3 L664.7,410.2 L659.5,407.9 L654.1,405.5 L648.3,403 L642.4,400.4 L636.2,397.8 L630,395.1 L623.8,392.3 L617.5,389.6 L611.4,386.9 L605.3,384.3 L599.4,381.7 L593.5,379 L587.6,376.4 L581.6,373.8 L575.7,371.2 L569.8,368.5 L563.8,365.9 L557.9,363.4 L551.9,360.8 L546,358.3 L539.9,355.8 L533.8,353.3 L527.5,350.7 L521.2,348.3 L515,345.8 L508.8,343.4 L502.8,341 L497,338.7 L491.5,336.4 L486.4,334.2 L481.5,332.1 L476.7,330 L472.2,328 L467.8,325.9 L463.6,324 L459.7,322.1 L456,320.4 L452.5,318.7 L449.4,317.2 L446.5,315.8 L444,314.6 L441.9,313.5 L440.1,312.6 L438.7,311.7 L437.4,311 L436.2,310.5 L435.1,309.9 L434.1,309.4 L432.9,308.8 L431.7,308.2 L430.4,307.6 L429.1,307 L427.9,306.5 L426.7,305.9 L425.6,305.4 L424.5,304.8 L423.4,304.3 L422.4,303.7 L421.4,303.2 L420.4,302.6 L419.5,302 L418.6,301.5 L417.8,300.9 L416.9,300.3 L416.2,299.8 L415.4,299.2 L414.7,298.6 L414,298 L413.4,297.4 L412.8,296.8 L412.2,296.2 L411.7,295.6 L411.2,295 L410.7,294.4 L410.3,293.7 L409.9,293.1 L409.5,292.4 L409.2,291.7 L408.9,291 L408.6,290.3 L408.3,289.5 L408,288.8 L407.7,288 L407.5,287.2 L407.2,286.4 L407,285.6 L406.8,284.7 L406.6,283.8 L406.5,282.9 L406.3,281.9 L406.1,280.8 L406,279.8 L405.8,278.7 L405.7,277.5 L405.6,276.4 L405.5,275.1 L405.4,273.9 L405.3,272.6 L405.3,271.3 L405.2,270 L405.3,268.6 L405.3,267.2 L405.4,265.7 L405.4,264.2 L405.5,262.7 L405.6,261.1 L405.8,259.6 L405.9,258 L406.1,256.5 L406.2,255 L406.4,253.5 L406.7,252.1 L406.9,250.6 L407.1,249.2 L407.4,247.7 L407.7,246.3 L408,244.8 L408.2,243.2 L408.5,241.6 L408.8,240 L409,238.3 L409.3,236.6 L409.5,234.9 L409.8,233.1 L410,231.3 L410.3,229.5 L410.5,227.6 L410.8,225.6 L411,223.6 L411.2,221.5 L411.5,219.3 L411.7,216.8 L411.9,214.3 L412.1,211.7 L412.4,209.1 L412.6,206.5 L412.8,203.9 L412.9,201.5 L413.1,199.1 L413.2,197 L413.4,195.1 L413.5,193.3 L413.6,191.6 L413.7,190.1 L413.8,188.6 L413.8,187.1 L413.9,185.7 L413.9,184.2 L414,182.6 L414.1,181 L414.1,179.3 L414.2,177.6 L414.2,175.8 L414.3,174 L414.3,172.2 L414.3,170.4 L414.4,168.6 L414.4,166.8 L414.4,164.9 L414.4,163 L414.5,161.2 L414.5,159.4 L414.5,157.7 L414.5,155.9 L414.5,154.1 L414.5,152.2 L414.5,150.2 L414.5,148.1 L414.5,145.7 L414.6,143 L414.6,140.1 L414.6,136.8 L414.6,133.4 L414.6,129.8 L414.6,126.1 L414.6,122.2 L414.6,118.4 L414.6,114.5 L414.6,110.7 L414.6,107 L414.5,103.3 L414.5,99.6 L414.5,95.8 L414.5,91.9 L414.5,88.1 L414.4,84.3 L414.4,80.6 L414.4,77 L414.4,73.4 L414.4,70 L414.3,66.7 L414.3,63.6 L414.3,60.5 L414.3,57.5 L414.3,54.6 L414.3,51.7 L414.3,48.8 L414.3,45.9 L414.3,43 L414.2,40Z" fill="#f26eb5"/>
<path d="M412.6,40 L412.7,43 L412.7,45.9 L412.7,48.8 L412.7,51.7 L412.7,54.6 L412.7,57.5 L412.7,60.5 L412.7,63.6 L412.7,66.7 L412.8,70 L412.8,73.4 L412.8,77 L412.8,80.6 L412.8,84.3 L412.9,88.1 L412.9,91.9 L412.9,95.8 L412.9,99.6 L412.9,103.3 L412.9,107 L413,110.7 L413,114.5 L413,118.4 L413,122.2 L413,126.1 L413,129.8 L413,133.4 L413,136.8 L413,140.1 L412.9,143 L412.9,145.7 L412.9,148.1 L412.9,150.2 L412.9,152.2 L412.9,154.1 L412.9,155.9 L412.9,157.7 L412.9,159.4 L412.9,161.2 L412.8,163 L412.8,164.9 L412.8,166.8 L412.8,168.6 L412.7,170.4 L412.7,172.2 L412.7,174 L412.6,175.8 L412.6,177.6 L412.5,179.3 L412.4,181 L412.4,182.6 L412.3,184.2 L412.3,185.7 L412.2,187.1 L412.1,188.6 L412.1,190.1 L412,191.6 L411.9,193.3 L411.8,195.1 L411.6,197 L411.5,199.1 L411.3,201.5 L411.2,203.9 L411,206.5 L410.8,209.1 L410.5,211.7 L410.3,214.3 L410.1,216.8 L409.9,219.3 L409.6,221.5 L409.4,223.6 L409.2,225.6 L408.9,227.6 L408.7,229.5 L408.4,231.3 L408.2,233.1 L407.9,234.9 L407.7,236.6 L407.4,238.3 L407.1,240 L406.9,241.6 L406.6,243.2 L406.4,244.8 L406.1,246.3 L405.8,247.7 L405.5,249.2 L405.3,250.6 L405.1,252.1 L404.8,253.5 L404.6,255 L404.5,256.5 L404.3,258 L404.2,259.6 L404,261.1 L403.9,262.7 L403.8,264.2 L403.8,265.7 L403.7,267.2 L403.7,268.6 L403.6,270 L403.7,271.3 L403.7,272.7 L403.8,273.9 L403.9,275.2 L404,276.4 L404.1,277.6 L404.2,278.8 L404.4,279.9 L404.5,281 L404.7,282 L404.9,283.1 L405.1,284 L405.2,285 L405.5,285.9 L405.7,286.7 L405.9,287.5 L406.2,288.4 L406.4,289.1 L406.7,289.9 L407,290.7 L407.3,291.5 L407.7,292.2 L408,292.9 L408.4,293.6 L408.8,294.3 L409.2,294.9 L409.7,295.6 L410.2,296.2 L410.7,296.9 L411.3,297.5 L411.9,298.2 L412.6,298.8 L413.3,299.4 L414,300 L414.8,300.6 L415.6,301.2 L416.4,301.8 L417.3,302.4 L418.3,303 L419.2,303.6 L420.2,304.2 L421.3,304.8 L422.4,305.3 L423.5,305.9 L424.6,306.5 L425.8,307 L427.1,307.6 L428.3,308.1 L429.6,308.7 L431,309.3 L432.3,309.9 L433.4,310.5 L434.5,311 L435.6,311.6 L436.8,312.2 L438.2,312.9 L439.7,313.7 L441.4,314.6 L443.5,315.7 L446.1,316.9 L448.9,318.3 L452.1,319.8 L455.6,321.5 L459.3,323.2 L463.2,325 L467.4,327 L471.8,328.9 L476.4,331 L481.1,333.1 L486,335.2 L491.2,337.3 L496.7,339.6 L502.5,341.9 L508.4,344.3 L514.6,346.7 L520.9,349.2 L527.1,351.7 L533.4,354.2 L539.6,356.7 L545.6,359.2 L551.6,361.7 L557.5,364.2 L563.5,366.8 L569.4,369.3 L575.4,371.9 L581.3,374.5 L587.3,377.1 L593.2,379.7 L599.2,382.3 L605.1,384.9 L611.2,387.5 L617.3,390.1 L623.6,392.8 L629.8,395.5 L636.1,398.2 L642.2,400.9 L648.2,403.5 L653.9,406 L659.4,408.4 L664.5,410.6 L669.2,412.7 L673.6,414.6 L677.8,416.4 L681.7,418.2 L685.4,419.8 L689.1,421.4 L692.7,423 L696.3,424.6 L700,426.3 L703.9,428 L703.1,430.1 L699.2,428.4 L695.5,426.8 L691.8,425.2 L688.2,423.7 L684.6,422.1 L680.8,420.4 L676.9,418.7 L672.7,416.9 L668.3,415 L663.6,413 L658.4,410.7 L653,408.4 L647.2,405.9 L641.2,403.4 L635.1,400.7 L628.9,398 L622.6,395.3 L616.3,392.6 L610.2,390 L604.1,387.4 L598.2,384.8 L592.3,382.2 L586.3,379.6 L580.4,377 L574.4,374.4 L568.5,371.9 L562.5,369.3 L556.6,366.7 L550.6,364.2 L544.7,361.7 L538.6,359.2 L532.4,356.7 L526.2,354.2 L519.9,351.7 L513.6,349.2 L507.5,346.8 L501.4,344.4 L495.7,342.1 L490.2,339.8 L485,337.7 L480.1,335.6 L475.4,333.5 L470.8,331.5 L466.4,329.5 L462.3,327.6 L458.3,325.7 L454.6,324 L451.2,322.3 L448,320.8 L445.1,319.4 L442.6,318.2 L440.4,317.1 L438.6,316.2 L437,315.3 L435.7,314.6 L434.4,314 L433.3,313.4 L432.1,312.8 L430.9,312.3 L429.5,311.6 L428.1,311 L426.8,310.3 L425.4,309.7 L424.1,309.1 L422.8,308.5 L421.6,307.9 L420.4,307.2 L419.3,306.6 L418.2,306 L417.1,305.3 L416.1,304.7 L415.1,304 L414.2,303.3 L413.3,302.7 L412.5,302 L411.6,301.4 L410.9,300.7 L410.2,300 L409.5,299.3 L408.8,298.6 L408.2,298 L407.7,297.3 L407.2,296.6 L406.7,295.9 L406.3,295.2 L405.8,294.5 L405.5,293.8 L405.1,293 L404.8,292.2 L404.4,291.4 L404.1,290.6 L403.8,289.8 L403.5,289 L403.3,288.1 L403,287.2 L402.8,286.3 L402.6,285.4 L402.4,284.4 L402.2,283.4 L402,282.3 L401.9,281.2 L401.7,280.1 L401.5,279 L401.4,277.8 L401.3,276.5 L401.2,275.3 L401.1,274 L401,272.7 L401,271.4 L400.9,270 L401,268.6 L401,267.2 L401.1,265.7 L401.1,264.2 L401.2,262.7 L401.3,261.1 L401.5,259.6 L401.6,258 L401.8,256.5 L401.9,255 L402.1,253.5 L402.4,252.1 L402.6,250.6 L402.8,249.2 L403.1,247.7 L403.4,246.3 L403.7,244.8 L403.9,243.2 L404.2,241.6 L404.4,240 L404.7,238.3 L405,236.6 L405.2,234.9 L405.5,233.1 L405.7,231.3 L406,229.5 L406.2,227.6 L406.5,225.6 L406.7,223.6 L406.9,221.5 L407.2,219.3 L407.4,216.8 L407.6,214.3 L407.8,211.7 L408.1,209.1 L408.3,206.5 L408.5,203.9 L408.6,201.5 L408.8,199.1 L408.9,197 L409.1,195.1 L409.2,193.3 L409.3,191.6 L409.4,190.1 L409.4,188.6 L409.5,187.1 L409.6,185.7 L409.6,184.2 L409.7,182.6 L409.8,181 L409.8,179.3 L409.9,177.6 L409.9,175.8 L410,174 L410,172.2 L410,170.4 L410.1,168.6 L410.1,166.8 L410.1,164.9 L410.1,163 L410.2,161.2 L410.2,159.4 L410.2,157.7 L410.2,155.9 L410.2,154.1 L410.2,152.2 L410.2,150.2 L410.2,148.1 L410.2,145.7 L410.2,143 L410.3,140.1 L410.3,136.8 L410.3,133.4 L410.3,129.8 L410.3,126.1 L410.3,122.2 L410.3,118.4 L410.3,114.5 L410.3,110.7 L410.2,107 L410.2,103.3 L410.2,99.6 L410.2,95.8 L410.2,91.9 L410.2,88.1 L410.1,84.3 L410.1,80.6 L410.1,77 L410.1,73.4 L410.1,70 L410,66.7 L410,63.6 L410,60.5 L410,57.5 L410,54.6 L410,51.7 L410,48.8 L410,45.9 L410,43 L409.9,40Z" fill="#f26eb5"/>
<path d="M408.4,40 L408.4,43 L408.4,45.9 L408.4,48.8 L408.4,51.7 L408.4,54.6 L408.4,57.5 L408.4,60.5 L408.4,63.6 L408.4,66.7 L408.5,70 L408.5,73.4 L408.5,77 L408.5,80.6 L408.5,84.3 L408.6,88.1 L408.6,91.9 L408.6,95.8 L408.6,99.6 L408.6,103.3 L408.7,107 L408.7,110.7 L408.7,114.5 L408.7,118.4 L408.7,122.2 L408.7,126.1 L408.7,129.8 L408.7,133.4 L408.7,136.8 L408.7,140.1 L408.7,143 L408.6,145.7 L408.6,148.1 L408.6,150.2 L408.6,152.2 L408.6,154.1 L408.6,155.9 L408.6,157.7 L408.6,159.4 L408.6,161.2 L408.6,163 L408.5,164.9 L408.5,166.8 L408.5,168.6 L408.4,170.4 L408.4,172.2 L408.4,174 L408.3,175.8 L408.3,177.6 L408.2,179.3 L408.2,181 L408.1,182.6 L408,184.2 L408,185.7 L407.9,187.1 L407.9,188.6 L407.8,190.1 L407.7,191.6 L407.6,193.3 L407.5,195.1 L407.4,197 L407.2,199.1 L407,201.5 L406.9,203.9 L406.7,206.5 L406.5,209.1 L406.2,211.7 L406,214.3 L405.8,216.8 L405.6,219.3 L405.4,221.5 L405.1,223.6 L404.9,225.6 L404.6,227.6 L404.4,229.5 L404.1,231.3 L403.9,233.1 L403.6,234.9 L403.4,236.6 L403.1,238.3 L402.9,240 L402.6,241.6 L402.3,243.2 L402.1,244.8 L401.8,246.3 L401.5,247.7 L401.2,249.2 L401,250.6 L400.8,252.1 L400.5,253.5 L400.4,255 L400.2,256.5 L400,258 L399.9,259.6 L399.7,261.1 L399.6,262.7 L399.5,264.2 L399.5,265.7 L399.4,267.2 L399.4,268.6 L399.4,270 L399.4,271.4 L399.4,272.7 L399.5,274 L399.6,275.3 L399.7,276.6 L399.8,277.9 L399.9,279.1 L400.1,280.2 L400.3,281.4 L400.4,282.5 L400.6,283.6 L400.8,284.6 L401,285.6 L401.2,286.6 L401.5,287.5 L401.7,288.4 L402,289.3 L402.3,290.2 L402.6,291 L402.9,291.9 L403.2,292.7 L403.6,293.5 L403.9,294.3 L404.3,295 L404.7,295.7 L405.2,296.5 L405.7,297.2 L406.2,297.9 L406.7,298.6 L407.3,299.3 L408,300.1 L408.7,300.8 L409.4,301.5 L410.2,302.2 L411.1,302.9 L411.9,303.6 L412.9,304.3 L413.8,304.9 L414.9,305.6 L415.9,306.3 L417,307 L418.2,307.7 L419.4,308.3 L420.6,308.9 L421.9,309.6 L423.2,310.2 L424.6,310.8 L425.9,311.5 L427.4,312.1 L428.8,312.8 L430.2,313.4 L431.5,314 L432.7,314.5 L433.9,315.1 L435.2,315.7 L436.5,316.4 L438.1,317.3 L439.9,318.2 L442.1,319.3 L444.7,320.6 L447.6,321.9 L450.8,323.4 L454.2,325.1 L457.9,326.8 L461.9,328.6 L466,330.5 L470.4,332.4 L475,334.5 L479.7,336.5 L484.6,338.6 L489.8,340.8 L495.3,343 L501.1,345.3 L507.1,347.7 L513.2,350.2 L519.5,352.6 L525.8,355.1 L532.1,357.6 L538.3,360.1 L544.3,362.6 L550.3,365.1 L556.3,367.6 L562.2,370.1 L568.2,372.7 L574.1,375.2 L580.1,377.8 L586,380.3 L592,382.9 L598,385.4 L603.9,388 L610,390.5 L616.1,393.2 L622.4,395.8 L628.7,398.5 L634.9,401.2 L641,403.8 L647,406.4 L652.8,408.8 L658.3,411.2 L663.4,413.4 L668.2,415.4 L672.6,417.3 L676.7,419.1 L680.6,420.8 L684.4,422.5 L688.1,424.1 L691.7,425.6 L695.3,427.2 L699,428.8 L702.9,430.5 L702.1,432.7 L698.2,431 L694.5,429.4 L690.8,427.8 L687.2,426.3 L683.5,424.7 L679.7,423.1 L675.8,421.4 L671.7,419.7 L667.2,417.8 L662.5,415.7 L657.3,413.6 L651.8,411.2 L646.1,408.8 L640.1,406.3 L633.9,403.7 L627.7,401 L621.4,398.3 L615.2,395.7 L609,393.1 L602.9,390.5 L597,387.9 L591,385.4 L585.1,382.8 L579.1,380.3 L573.2,377.7 L567.2,375.2 L561.3,372.7 L555.3,370.1 L549.3,367.6 L543.4,365.2 L537.3,362.7 L531.1,360.2 L524.8,357.7 L518.5,355.2 L512.3,352.7 L506.1,350.2 L500.1,347.8 L494.3,345.5 L488.8,343.3 L483.6,341.1 L478.7,339 L474,337 L469.4,335 L465.1,333 L460.9,331.1 L457,329.3 L453.3,327.6 L449.8,326 L446.6,324.5 L443.7,323.1 L441.1,321.8 L438.9,320.7 L437,319.8 L435.4,318.9 L434,318.2 L432.7,317.5 L431.4,316.9 L430.1,316.3 L428.8,315.7 L427.4,315 L425.9,314.3 L424.4,313.7 L422.9,313 L421.5,312.3 L420.1,311.6 L418.7,310.9 L417.4,310.2 L416.2,309.5 L415,308.8 L413.8,308 L412.7,307.3 L411.7,306.5 L410.7,305.8 L409.7,305 L408.8,304.3 L407.9,303.5 L407.1,302.8 L406.3,302 L405.6,301.2 L404.9,300.5 L404.3,299.7 L403.7,298.9 L403.2,298.2 L402.7,297.4 L402.2,296.7 L401.8,295.9 L401.4,295.1 L401,294.3 L400.6,293.5 L400.3,292.6 L400,291.7 L399.6,290.8 L399.3,289.9 L399.1,289 L398.8,288 L398.6,287.1 L398.3,286 L398.1,285 L397.9,283.9 L397.7,282.8 L397.6,281.6 L397.4,280.5 L397.3,279.2 L397.1,278 L397,276.7 L396.9,275.4 L396.8,274.1 L396.7,272.8 L396.7,271.4 L396.6,270 L396.7,268.6 L396.7,267.1 L396.8,265.7 L396.8,264.2 L396.9,262.6 L397,261.1 L397.2,259.6 L397.3,258 L397.5,256.5 L397.6,255 L397.8,253.5 L398.1,252.1 L398.3,250.6 L398.5,249.2 L398.8,247.7 L399.1,246.3 L399.4,244.8 L399.6,243.2 L399.9,241.6 L400.1,240 L400.4,238.3 L400.7,236.6 L400.9,234.9 L401.2,233.1 L401.4,231.3 L401.7,229.5 L401.9,227.6 L402.2,225.6 L402.4,223.6 L402.6,221.5 L402.9,219.3 L403.1,216.8 L403.3,214.3 L403.5,211.7 L403.8,209.1 L404,206.5 L404.2,203.9 L404.3,201.5 L404.5,199.1 L404.6,197 L404.8,195.1 L404.9,193.3 L405,191.6 L405.1,190.1 L405.1,188.6 L405.2,187.1 L405.3,185.7 L405.3,184.2 L405.4,182.6 L405.4,181 L405.5,179.3 L405.6,177.6 L405.6,175.8 L405.7,174 L405.7,172.2 L405.7,170.4 L405.8,168.6 L405.8,166.8 L405.8,164.9 L405.8,163 L405.9,161.2 L405.9,159.4 L405.9,157.7 L405.9,155.9 L405.9,154.1 L405.9,152.2 L405.9,150.2 L405.9,148.1 L405.9,145.7 L405.9,143 L406,140.1 L406,136.8 L406,133.4 L406,129.8 L406,126.1 L406,122.2 L406,118.4 L406,114.5 L406,110.7 L405.9,107 L405.9,103.3 L405.9,99.6 L405.9,95.8 L405.9,91.9 L405.9,88.1 L405.8,84.3 L405.8,80.6 L405.8,77 L405.8,73.4 L405.8,70 L405.7,66.7 L405.7,63.6 L405.7,60.5 L405.7,57.5 L405.7,54.6 L405.7,51.7 L405.7,48.8 L405.7,45.9 L405.7,43 L405.6,40Z" fill="#f26eb5"/>
<path d="M403.1,197 L402.9,199.1 L402.7,201.5 L402.6,203.9 L402.4,206.5 L402.2,209.1 L401.9,211.7 L401.7,214.3 L401.5,216.8 L401.3,219.3 L401.1,221.5 L400.8,223.6 L400.6,225.6 L400.3,227.6 L400.1,229.5 L399.8,231.3 L399.6,233.1 L399.3,234.9 L399.1,236.6 L398.8,238.3 L398.6,240 L398.3,241.6 L398,243.2 L397.8,244.8 L397.5,246.3 L397.2,247.7 L396.9,249.2 L396.7,250.6 L396.5,252.1 L396.2,253.5 L396.1,255 L395.9,256.5 L395.7,258 L395.6,259.6 L395.4,261.1 L395.3,262.6 L395.2,264.1 L395.2,265.6 L395.1,267.1 L395.1,268.6 L395.1,270 L395.1,271.4 L395.1,272.8 L395.2,274.1 L395.3,275.5 L395.4,276.8 L395.5,278.1 L395.7,279.4 L395.8,280.6 L396,281.8 L396.2,283 L396.3,284.1 L396.5,285.2 L396.7,286.3 L397,287.3 L397.2,288.3 L397.5,289.3 L397.8,290.3 L398.1,291.2 L398.4,292.2 L398.8,293.1 L399.1,294 L399.5,294.8 L399.9,295.6 L400.3,296.4 L400.7,297.2 L401.2,298 L401.7,298.8 L402.2,299.6 L402.8,300.3 L403.4,301.1 L404.1,302 L404.8,302.8 L405.6,303.6 L406.5,304.3 L407.4,305.1 L408.3,305.9 L409.3,306.7 L410.4,307.5 L411.5,308.3 L412.6,309 L413.8,309.8 L415.1,310.5 L416.4,311.3 L417.7,312 L419.1,312.7 L420.6,313.4 L422,314.1 L423.6,314.8 L425.1,315.5 L426.7,316.2 L428.1,316.8 L429.5,317.5 L430.8,318.1 L432.1,318.7 L433.5,319.3 L434.9,320 L436.6,320.9 L438.5,321.9 L440.7,323 L443.3,324.2 L446.2,325.6 L449.4,327.1 L452.9,328.7 L456.6,330.4 L460.5,332.2 L464.7,334 L469,335.9 L473.6,337.9 L478.3,340 L483.2,342 L488.4,344.2 L493.9,346.4 L499.7,348.8 L505.7,351.2 L511.9,353.6 L518.2,356.1 L524.5,358.6 L530.8,361.1 L537,363.6 L543,366.1 L549,368.5 L555,371 L560.9,373.5 L566.9,376 L572.9,378.5 L578.8,381 L584.8,383.5 L590.8,386.1 L596.7,388.6 L602.7,391.1 L608.8,393.6 L614.9,396.2 L621.2,398.8 L627.5,401.5 L633.8,404.1 L639.9,406.7 L645.9,409.2 L651.7,411.7 L657.1,414 L662.3,416.2 L667.1,418.2 L671.5,420.1 L675.7,421.8 L679.6,423.5 L683.4,425.1 L687,426.7 L690.7,428.2 L694.3,429.8 L698,431.4 L701.9,433 L701.1,435.2 L697.2,433.6 L693.5,432 L689.8,430.4 L686.2,428.9 L682.5,427.4 L678.7,425.8 L674.8,424.1 L670.6,422.4 L666.2,420.5 L661.4,418.5 L656.2,416.4 L650.7,414.1 L644.9,411.7 L638.9,409.2 L632.8,406.6 L626.5,404 L620.2,401.4 L614,398.7 L607.8,396.1 L601.7,393.6 L595.8,391.1 L589.8,388.6 L583.8,386.1 L577.9,383.5 L571.9,381 L565.9,378.5 L560,376 L554,373.5 L548,371.1 L542.1,368.6 L536,366.1 L529.8,363.6 L523.5,361.1 L517.2,358.6 L510.9,356.1 L504.7,353.7 L498.7,351.3 L492.9,348.9 L487.4,346.7 L482.2,344.5 L477.3,342.5 L472.6,340.4 L468,338.5 L463.7,336.5 L459.6,334.7 L455.7,332.9 L452,331.2 L448.5,329.6 L445.3,328.1 L442.3,326.7 L439.7,325.5 L437.4,324.4 L435.5,323.4 L433.8,322.5 L432.3,321.7 L430.9,321.1 L429.5,320.4 L428.2,319.8 L426.8,319.1 L425.2,318.4 L423.6,317.7 L422,317 L420.4,316.2 L418.9,315.5 L417.3,314.7 L415.9,314 L414.5,313.2 L413.1,312.4 L411.8,311.6 L410.5,310.8 L409.3,309.9 L408.2,309.1 L407.1,308.2 L406.1,307.4 L405.1,306.6 L404.1,305.7 L403.3,304.8 L402.4,304 L401.7,303.1 L401,302.3 L400.3,301.4 L399.7,300.6 L399.1,299.8 L398.6,299 L398.2,298.2 L397.7,297.3 L397.3,296.5 L396.9,295.6 L396.5,294.7 L396.2,293.8 L395.8,292.9 L395.5,291.9 L395.2,290.9 L394.9,289.9 L394.6,288.9 L394.3,287.8 L394.1,286.7 L393.9,285.6 L393.7,284.4 L393.5,283.3 L393.3,282 L393.1,280.8 L393,279.5 L392.8,278.2 L392.7,276.9 L392.6,275.6 L392.5,274.2 L392.4,272.8 L392.4,271.4 L392.4,270 L392.4,268.6 L392.4,267.1 L392.5,265.6 L392.5,264.1 L392.6,262.6 L392.7,261.1 L392.9,259.6 L393,258 L393.2,256.5 L393.4,255 L393.5,253.5 L393.8,252.1 L394,250.6 L394.2,249.2 L394.5,247.7 L394.8,246.3 L395.1,244.8 L395.3,243.2 L395.6,241.6 L395.9,240 L396.1,238.3 L396.4,236.6 L396.6,234.9 L396.9,233.1 L397.1,231.3 L397.4,229.5 L397.6,227.6 L397.9,225.6 L398.1,223.6 L398.4,221.5 L398.6,219.3 L398.8,216.8 L399,214.3 L399.2,211.7 L399.5,209.1 L399.7,206.5 L399.9,203.9 L400,201.5 L400.2,199.1 L400.4,197Z" fill="#f26eb5"/>
<path d="M417.5,40 L417.5,43 L417.5,45.9 L417.5,48.8 L417.5,51.7 L417.5,54.6 L417.6,57.5 L417.6,60.5 L417.6,63.6 L417.6,66.7 L417.6,70 L417.6,73.4 L417.6,77 L417.7,80.6 L417.7,84.3 L417.7,88.1 L417.7,91.9 L417.8,95.8 L417.8,99.6 L417.8,103.3 L417.8,107 L417.8,110.7 L417.8,114.5 L417.8,118.4 L417.8,122.2 L417.8,126.1 L417.8,129.8 L417.8,133.4 L417.8,136.8 L417.8,140.1 L417.8,143 L417.8,145.7 L417.8,148.1 L417.8,150.2 L417.8,152.2 L417.8,154.1 L417.8,155.9 L417.8,157.7 L417.7,159.4 L417.7,161.2 L417.7,163 L417.7,164.9 L417.6,166.8 L417.6,168.6 L417.6,170.4 L417.5,172.2 L417.5,174 L417.5,175.8 L417.4,177.6 L417.4,179.3 L417.3,181 L417.2,182.6 L417.2,184.2 L417.1,185.7 L417.1,187.1 L417,188.6 L416.9,190.1 L416.8,191.6 L416.7,193.3 L416.6,195.1 L416.5,197 L416.4,199.1 L416.2,201.5 L416,203.9 L415.8,206.5 L415.6,209.1 L415.4,211.7 L415.2,214.3 L415,216.8 L414.7,219.3 L414.5,221.5 L414.3,223.6 L414,225.6 L413.8,227.6 L413.5,229.5 L413.3,231.3 L413,233.1 L412.8,234.9 L412.5,236.6 L412.3,238.3 L412,240 L411.7,241.6 L411.5,243.2 L411.2,244.8 L410.9,246.3 L410.7,247.7 L410.4,249.2 L410.1,250.6 L409.9,252.1 L409.7,253.5 L409.5,255 L409.3,256.5 L409.2,258.1 L409,259.6 L408.9,261.2 L408.8,262.7 L408.7,264.2 L408.6,265.8 L408.5,267.2 L408.5,268.6 L408.5,270 L408.5,271.3 L408.6,272.6 L408.6,273.8 L408.7,275 L408.8,276.2 L408.9,277.4 L409.1,278.5 L409.2,279.5 L409.4,280.5 L409.5,281.5 L409.7,282.5 L409.9,283.4 L410,284.2 L410.2,285 L410.4,285.8 L410.7,286.5 L410.9,287.3 L411.1,288 L411.4,288.7 L411.7,289.4 L412,290.1 L412.3,290.7 L412.6,291.4 L413,292 L413.3,292.6 L413.7,293.2 L414.2,293.8 L414.6,294.4 L415.1,294.9 L415.7,295.5 L416.2,296.1 L416.8,296.6 L417.5,297.1 L418.1,297.6 L418.8,298.1 L419.5,298.6 L420.3,299.1 L421.1,299.6 L421.9,300.2 L422.8,300.7 L423.7,301.2 L424.6,301.7 L425.5,302.2 L426.5,302.7 L427.5,303.2 L428.6,303.7 L429.6,304.2 L430.8,304.7 L432,305.3 L433.2,305.9 L434.3,306.4 L435.4,307 L436.4,307.5 L437.4,308.1 L438.5,308.6 L439.7,309.3 L441.2,310.1 L442.9,311 L445,312.1 L447.4,313.3 L450.3,314.7 L453.5,316.2 L456.9,317.9 L460.6,319.7 L464.6,321.5 L468.7,323.5 L473.1,325.5 L477.7,327.6 L482.5,329.7 L487.4,331.8 L492.5,333.9 L498,336.2 L503.8,338.5 L509.8,340.9 L515.9,343.3 L522.2,345.8 L528.5,348.3 L534.7,350.8 L540.9,353.3 L546.9,355.8 L552.9,358.3 L558.8,360.9 L564.8,363.5 L570.7,366.1 L576.6,368.7 L582.6,371.3 L588.5,373.9 L594.4,376.6 L600.4,379.2 L606.3,381.8 L612.3,384.4 L618.5,387.1 L624.7,389.9 L631,392.6 L637.2,395.3 L643.3,398 L649.3,400.6 L655,403.1 L660.5,405.5 L665.6,407.8 L670.3,409.9 L674.7,411.8 L678.9,413.7 L682.8,415.4 L686.5,417.1 L690.1,418.7 L693.8,420.3 L697.4,421.9 L701.1,423.6 L704.9,425.3 L706,422.5 L702.2,420.8 L698.5,419.1 L694.8,417.5 L691.2,415.9 L687.6,414.3 L683.9,412.6 L680,410.9 L675.8,409 L671.4,407.1 L666.7,405 L661.6,402.7 L656.1,400.3 L650.4,397.8 L644.4,395.2 L638.3,392.5 L632.1,389.8 L625.8,387.1 L619.6,384.3 L613.4,381.6 L607.4,379 L601.5,376.4 L595.5,373.8 L589.6,371.1 L583.7,368.5 L577.7,365.9 L571.8,363.3 L565.8,360.7 L559.9,358.1 L553.9,355.5 L548,353 L542,350.5 L535.8,348 L529.5,345.5 L523.3,343 L517,340.5 L510.9,338.1 L504.9,335.7 L499.2,333.4 L493.7,331.2 L488.5,329 L483.6,326.9 L478.8,324.8 L474.2,322.7 L469.8,320.7 L465.6,318.7 L461.7,316.8 L457.9,315.1 L454.5,313.4 L451.3,311.9 L448.5,310.5 L446.1,309.3 L444,308.3 L442.4,307.4 L441,306.6 L439.8,305.9 L438.8,305.3 L437.9,304.7 L437,304.2 L436,303.6 L435,303 L433.9,302.4 L432.9,301.8 L431.9,301.3 L430.9,300.8 L430,300.3 L429.2,299.8 L428.3,299.4 L427.5,298.9 L426.8,298.5 L426,298 L425.3,297.5 L424.6,297.1 L423.9,296.6 L423.3,296.2 L422.7,295.8 L422.1,295.3 L421.5,294.9 L421,294.5 L420.5,294 L420,293.5 L419.5,293 L419.1,292.5 L418.7,292 L418.3,291.4 L418,290.9 L417.7,290.4 L417.4,289.8 L417.1,289.2 L416.8,288.6 L416.5,288 L416.2,287.4 L416,286.8 L415.8,286.1 L415.5,285.5 L415.3,284.8 L415.2,284.2 L415,283.4 L414.8,282.7 L414.7,281.9 L414.5,281 L414.4,280.1 L414.2,279.1 L414.1,278.1 L413.9,277.1 L413.8,276 L413.7,274.9 L413.6,273.7 L413.6,272.5 L413.5,271.3 L413.5,270 L413.5,268.7 L413.5,267.3 L413.6,265.8 L413.7,264.3 L413.8,262.8 L413.9,261.2 L414,259.6 L414.2,258.1 L414.3,256.5 L414.5,255 L414.7,253.5 L414.9,252.1 L415.1,250.6 L415.4,249.2 L415.7,247.7 L415.9,246.3 L416.2,244.8 L416.5,243.2 L416.7,241.6 L417,240 L417.3,238.3 L417.5,236.6 L417.8,234.9 L418,233.1 L418.3,231.3 L418.5,229.5 L418.8,227.6 L419,225.6 L419.3,223.6 L419.5,221.5 L419.7,219.3 L420,216.8 L420.2,214.3 L420.4,211.7 L420.6,209.1 L420.8,206.5 L421,203.9 L421.2,201.5 L421.4,199.1 L421.5,197 L421.6,195.1 L421.7,193.3 L421.8,191.6 L421.9,190.1 L422,188.6 L422.1,187.1 L422.1,185.7 L422.2,184.2 L422.2,182.6 L422.3,181 L422.4,179.3 L422.4,177.6 L422.5,175.8 L422.5,174 L422.5,172.2 L422.6,170.4 L422.6,168.6 L422.6,166.8 L422.7,164.9 L422.7,163 L422.7,161.2 L422.7,159.4 L422.8,157.7 L422.8,155.9 L422.8,154.1 L422.8,152.2 L422.8,150.2 L422.8,148.1 L422.8,145.7 L422.8,143 L422.8,140.1 L422.8,136.8 L422.8,133.4 L422.8,129.8 L422.8,126.1 L422.8,122.2 L422.8,118.4 L422.8,114.5 L422.8,110.7 L422.8,107 L422.8,103.3 L422.8,99.6 L422.8,95.8 L422.7,91.9 L422.7,88.1 L422.7,84.3 L422.7,80.6 L422.6,77 L422.6,73.4 L422.6,70 L422.6,66.7 L422.6,63.6 L422.6,60.5 L422.6,57.5 L422.5,54.6 L422.5,51.7 L422.5,48.8 L422.5,45.9 L422.5,43 L422.5,40Z" fill="#f5c95e"/>
<path d="M424,72 C420,71.7 415.7,73 415.8,81 M424,105.5 C420,105.2 415.9,106.5 415.9,114.5 M422.6,137.5 C418.6,137.2 415.9,138.5 415.9,146.5 M420.9,165.1 C416.9,164.8 415.7,166.1 415.6,174.1 M419,190.5 C415,190.2 414.9,191.5 414.4,199.5 M417,226.9 C413,226.6 411.7,227.9 410.7,235.9 M411.1,260.3 C407.1,260 406.9,261.3 406.6,269.3" fill="none" stroke="#f26eb5" stroke-width="2.2" stroke-linecap="round"/>
</g>
<g clip-path="url(#lc)">
<path d="M700,454 L696.1,452.4 L692.3,450.9 L688.6,449.5 L685,448 L681.2,446.5 L677.4,445 L673.5,443.4 L669.3,441.7 L664.8,439.9 L660,438 L654.8,435.9 L649.3,433.7 L643.5,431.4 L637.4,429 L631.2,426.5 L625,424 L618.6,421.5 L612.3,418.9 L606.1,416.4 L600,414 L594,411.6 L588,409.2 L582,406.8 L576,404.4 L570,402 L564,399.6 L558,397.2 L552,394.8 L546,392.4 L540,390 L534,387.6 L527.8,385.1 L521.7,382.6 L515.5,380.1 L509.4,377.6 L503.3,375.1 L497.3,372.7 L491.4,370.2 L485.6,367.9 L480,365.5 L474.5,363.1 L469,360.7 L463.5,358.3 L458.1,355.9 L452.9,353.6 L447.8,351.3 L442.9,349.1 L438.3,347.1 L434,345.2 L430,343.5 L426.4,342 L423,340.7 L420,339.6 L417.2,338.6 L414.7,337.7 L412.3,336.9 L410.1,336.1 L408,335.4 L405.9,334.7 L404,334 L402.2,333.3 L400.6,332.7 L399.3,332.1 L398,331.5 L396.9,331 L395.9,330.5 L394.8,330.1 L393.8,329.7 L392.7,329.3 L391.5,328.9 L390.2,328.5 L389,328.2 L387.7,327.8 L386.4,327.5 L385.1,327.2 L383.9,327 L382.6,326.7 L381.3,326.6 L380.1,326.5 L378.9,326.4 L377.7,326.4 L376.5,326.4 L375.3,326.5 L374.1,326.7 L372.9,326.8 L371.8,327.1 L370.7,327.3 L369.6,327.6 L368.6,327.9 L367.6,328.3 L366.7,328.7 L365.8,329.1 L365.1,329.6 L364.3,330.1 L363.6,330.7 L362.9,331.3 L362.2,331.9 L361.5,332.6 L360.8,333.3 L360,334 L359.2,334.8 L358.4,335.6 L357.6,336.4 L356.8,337.3 L356,338.2 L355.2,339.2 L354.4,340.1 L353.6,341.1 L352.8,342 L352,343 L351.2,343.9 L350.5,344.9 L349.8,345.8 L349.1,346.7 L348.3,347.6 L347.6,348.6 L346.9,349.6 L346.1,350.7 L345.3,351.8 L344.5,353 L343.6,354.3 L342.8,355.5 L341.9,356.8 L341,358.2 L340.1,359.6 L339.1,361.1 L338.2,362.7 L337.2,364.3 L336.1,366.1 L335,368 L333.8,370 L332.6,372.2 L331.3,374.4 L330,376.8 L328.7,379.2 L327.3,381.7 L325.9,384.2 L324.6,386.8 L323.3,389.4 L322,392 L320.8,394.6 L319.5,397.3 L318.3,400.1 L317.1,402.9 L315.9,405.8 L314.8,408.6 L313.6,411.5 L312.4,414.3 L311.2,417.2 L310,420 L310,480 L720,480Z" fill="#fce3a8"/>
<path d="M393,407 C409,413 409,388 425,394 M393,407 C401.5,409 401.5,416 410,418 M453,395.5 C461.5,395.5 461.5,401 470,401 M453,395.5 C462.5,395.5 462.5,407 472,407 M453,395.5 C460.5,395.5 460.5,414 468,414" fill="none" stroke="#b4547f" stroke-width="1.1"/>
<g transform="translate(380 398.5) rotate(30) scale(0.8 0.8)"><path d="M-20,1.5C-11,1 -9,-9 0,-9C9,-9 11,-2.5 20,-2.5C11,-2 9,9 0,9C-9,9 -11,2 -20,1.5Z" fill="#e85cb4" stroke="#d44aa2" stroke-width="0.7"/><ellipse cx="0" cy="0" rx="3.1" ry="2.3" fill="#5a4470"/><ellipse cx="0" cy="0" rx="1.6" ry="1.2" fill="#3d2f55"/></g>
<g transform="translate(439 394.5) rotate(6)"><path d="M-14,0.5C-8,0 -6,-6.3 0,-6.3C6,-6.3 8,-1 14,-0.5C8,0 6,6.3 0,6.3C-6,6.3 -8,1 -14,0.5Z" fill="#ea5fb6" stroke="#d44aa2" stroke-width="0.6"/><ellipse cx="0.5" cy="0.3" rx="2.8" ry="2" fill="#5a4470"/><ellipse cx="0.5" cy="0.3" rx="1.4" ry="1" fill="#3d2f55"/></g>
<g transform="translate(497.5 404.5) rotate(14) scale(1 1.32)"><path d="M-6,0L-21,0M-23.6,-3.4L-21,0L-23.6,3.4" fill="none" stroke="#a9abae" stroke-width="1.5" stroke-linecap="round"/><path d="M-6.5,0C-6.5,-5.2 5.5,-5 7.5,-2.2C9,-1.3 10,-3.5 13,-3.6L37,-3.3C41,-3.3 41,3.3 37,3.3L13,3.6C10,3.5 9,1.3 7.5,2.2C5.5,5 -6.5,5.2 -6.5,0Z" fill="#b4b4b6"/><ellipse cx="0" cy="0" rx="3.6" ry="2.9" fill="#7b7f8a"/><ellipse cx="0" cy="0" rx="2.5" ry="2" fill="#3a3f4c"/></g>
<g transform="translate(478 418) rotate(14) scale(1 1.32)"><path d="M-6,0L-21,0M-23.6,-3.4L-21,0L-23.6,3.4" fill="none" stroke="#a9abae" stroke-width="1.5" stroke-linecap="round"/><path d="M-6.5,0C-6.5,-5.2 5.5,-5 7.5,-2.2C9,-1.3 10,-3.5 13,-3.6L37,-3.3C41,-3.3 41,3.3 37,3.3L13,3.6C10,3.5 9,1.3 7.5,2.2C5.5,5 -6.5,5.2 -6.5,0Z" fill="#b4b4b6"/><ellipse cx="0" cy="0" rx="3.6" ry="2.9" fill="#7b7f8a"/><ellipse cx="0" cy="0" rx="2.5" ry="2" fill="#3a3f4c"/></g>
<g transform="translate(541 415) rotate(22)"><rect x="-6.2" y="-6.8" width="12.5" height="13.5" rx="3.4" fill="#f6ad72" stroke="#e3823f" stroke-width="1.1"/><circle cx="0.5" cy="0" r="2" fill="#d9702f"/></g>
<path d="M700,454 L696.1,452.4 L692.3,450.9 L688.6,449.5 L685,448 L681.2,446.5 L677.4,445 L673.5,443.4 L669.3,441.7 L664.8,439.9 L660,438 L654.8,435.9 L649.3,433.7 L643.5,431.4 L637.4,429 L631.2,426.5 L625,424 L618.6,421.5 L612.3,418.9 L606.1,416.4 L600,414 L594,411.6 L588,409.2 L582,406.8 L576,404.4 L570,402 L564,399.6 L558,397.2 L552,394.8 L546,392.4 L540,390 L534,387.6 L527.8,385.1 L521.7,382.6 L515.5,380.1 L509.4,377.6 L503.3,375.1 L497.3,372.7 L491.4,370.2 L485.6,367.9 L480,365.5 L474.5,363.1 L469,360.7 L463.5,358.3 L458.1,355.9 L452.9,353.6 L447.8,351.3 L442.9,349.1 L438.3,347.1 L434,345.2 L430,343.5 L426.4,342 L423,340.7 L420,339.6 L417.2,338.6 L414.7,337.7 L412.3,336.9 L410.1,336.1 L408,335.4 L405.9,334.7 L404,334 L402.2,333.3 L400.6,332.7 L399.3,332.1 L398,331.5 L396.9,331 L395.9,330.5 L394.8,330.1 L393.8,329.7 L392.7,329.3 L391.5,328.9 L390.2,328.5 L389,328.2 L387.7,327.8 L386.4,327.5 L385.1,327.2 L383.9,327 L382.6,326.7 L381.3,326.6 L380.1,326.5 L378.9,326.4 L377.7,326.4 L376.5,326.4 L375.3,326.5 L374.1,326.7 L372.9,326.8 L371.8,327.1 L370.7,327.3 L369.6,327.6 L368.6,327.9 L367.6,328.3 L366.7,328.7 L365.8,329.1 L365.1,329.6 L364.3,330.1 L363.6,330.7 L362.9,331.3 L362.2,331.9 L361.5,332.6 L360.8,333.3 L360,334 L359.2,334.8 L358.4,335.6 L357.6,336.4 L356.8,337.3 L356,338.2 L355.2,339.2 L354.4,340.1 L353.6,341.1 L352.8,342 L352,343 L351.2,343.9 L350.5,344.9 L349.8,345.8 L349.1,346.7 L348.3,347.6 L347.6,348.6 L346.9,349.6 L346.1,350.7 L345.3,351.8 L344.5,353 L343.6,354.3 L342.8,355.5 L341.9,356.8 L341,358.2 L340.1,359.6 L339.1,361.1 L338.2,362.7 L337.2,364.3 L336.1,366.1 L335,368 L333.8,370 L332.6,372.2 L331.3,374.4 L330,376.8 L328.7,379.2 L327.3,381.7 L325.9,384.2 L324.6,386.8 L323.3,389.4 L322,392 L320.8,394.6 L319.5,397.3 L318.3,400.1 L317.1,402.9 L315.9,405.8 L314.8,408.6 L313.6,411.5 L312.4,414.3 L311.2,417.2 L310,420 L338,419 L339.2,416.6 L340.4,414.2 L341.6,411.8 L342.8,409.3 L344.1,406.9 L345.3,404.5 L346.4,402.1 L347.6,399.9 L348.7,397.7 L349.7,395.6 L350.7,393.6 L351.6,391.7 L352.5,389.9 L353.4,388.2 L354.2,386.5 L355,384.9 L355.7,383.3 L356.5,381.8 L357.3,380.3 L358,378.8 L358.7,377.4 L359.5,375.9 L360.2,374.6 L360.9,373.2 L361.6,371.9 L362.2,370.7 L362.9,369.5 L363.5,368.5 L364,367.4 L364.5,366.5 L364.9,365.7 L365.3,365 L365.6,364.3 L365.9,363.8 L366.2,363.3 L366.4,362.8 L366.7,362.4 L366.9,362 L367.2,361.5 L367.5,361 L367.8,360.5 L368.2,359.9 L368.5,359.4 L368.9,358.8 L369.2,358.3 L369.6,357.8 L369.9,357.3 L370.3,356.8 L370.6,356.4 L371,356 L371.3,355.6 L371.7,355.3 L372,355 L372.3,354.8 L372.6,354.5 L373,354.3 L373.3,354.1 L373.7,353.9 L374.1,353.7 L374.5,353.5 L375,353.3 L375.4,353.1 L375.9,352.9 L376.4,352.8 L376.9,352.6 L377.5,352.5 L378,352.3 L378.6,352.2 L379.3,352.1 L380,352 L380.7,351.9 L381.5,351.9 L382.4,351.8 L383.3,351.7 L384.2,351.7 L385.1,351.7 L386,351.7 L387,351.7 L388,351.7 L389,351.8 L390,351.8 L390.9,351.9 L391.8,351.9 L392.7,351.9 L393.6,352 L394.6,352.1 L395.8,352.2 L397,352.4 L398.4,352.8 L400,353.2 L401.7,353.7 L403.4,354.2 L405.2,354.7 L407.1,355.4 L409.1,356.1 L411.3,356.9 L413.8,357.8 L416.5,358.9 L419.6,360.1 L423,361.6 L426.8,363.3 L431,365.2 L435.5,367.4 L440.3,369.7 L445.4,372.1 L450.6,374.6 L456,377.2 L461.4,379.7 L466.9,382.2 L472.4,384.6 L478,387 L483.7,389.3 L489.7,391.7 L495.7,394.2 L501.8,396.6 L508,399 L514.2,401.4 L520.4,403.8 L526.5,406.2 L532.6,408.6 L538.6,411 L544.7,413.3 L550.7,415.7 L556.7,418 L562.7,420.4 L568.8,422.7 L574.8,425 L580.8,427.3 L586.9,429.7 L592.9,432 L599,434.4 L605.3,436.8 L611.6,439.2 L618,441.7 L624.3,444.1 L630.5,446.5 L636.6,448.8 L642.4,451.1 L648,453.2 L653.2,455.2 L658,457.1 L662.5,458.8 L666.7,460.4 L670.7,462 L674.5,463.4 L678.2,464.9 L681.9,466.3 L685.6,467.7 L689.4,469.2 L693.3,470.7Z" fill="#f8d676"/>
<path d="M693.9,469.2 L690,467.6 L686.2,466.2 L682.5,464.7 L678.9,463.3 L675.1,461.9 L671.3,460.4 L667.3,458.8 L663.1,457.2 L658.7,455.5 L653.8,453.6 L648.6,451.6 L643.1,449.4 L637.2,447.2 L631.2,444.8 L625,442.4 L618.7,440 L612.3,437.5 L606,435.1 L599.7,432.6 L593.6,430.3 L587.6,427.9 L581.5,425.6 L575.5,423.2 L569.5,420.9 L563.5,418.6 L557.4,416.2 L551.4,413.9 L545.4,411.5 L539.4,409.1 L533.3,406.8 L527.3,404.4 L521.1,402 L514.9,399.5 L508.7,397.1 L502.6,394.7 L496.5,392.3 L490.4,389.8 L484.5,387.4 L478.7,385 L473.2,382.7 L467.7,380.3 L462.2,377.8 L456.7,375.3 L451.3,372.8 L446.1,370.3 L441.1,367.9 L436.3,365.6 L431.7,363.5 L427.5,361.5 L423.7,359.8 L420.2,358.4 L417.1,357.1 L414.4,356 L411.9,355.1 L409.6,354.3 L407.6,353.6 L405.7,353 L403.8,352.4 L402.1,351.9 L400.4,351.3 L398.8,350.9 L397.4,350.5 L396.1,350.2 L395,350 L394,349.8 L393,349.7 L392.1,349.6 L391.2,349.5 L390.3,349.4 L389.3,349.3 L388.2,349.2 L387.2,349.2 L386.2,349.1 L385.2,349 L384.3,349 L383.3,349 L382.4,349 L381.5,349 L380.7,349.1 L379.9,349.1 L379.1,349.2 L378.4,349.3 L377.7,349.4 L377.1,349.5 L376.5,349.7 L375.9,349.8 L375.3,350 L374.8,350.2 L374.2,350.4 L373.7,350.6 L373.2,350.9 L372.8,351.1 L372.4,351.3 L372,351.6 L371.6,351.8 L371.2,352.1 L370.9,352.5 L370.5,352.8 L370.2,353.2 L369.8,353.6 L369.4,354 L369,354.5 L368.6,355 L368.2,355.5 L367.8,356.1 L367.4,356.7 L367,357.3 L366.6,357.9 L366.2,358.5 L365.8,359 L365.5,359.6 L365.1,360.1 L364.8,360.6 L364.5,361.1 L364.2,361.6 L363.9,362.1 L363.6,362.7 L363.2,363.4 L362.8,364.2 L362.3,365 L361.8,366 L361.2,367 L360.5,368.1 L359.9,369.3 L359.2,370.6 L358.5,371.9 L357.7,373.2 L357,374.6 L356.2,376.1 L355.4,377.6 L354.6,379.1 L353.8,380.7 L353,382.3 L352.1,384 L351.3,385.7 L350.4,387.4 L349.4,389.3 L348.5,391.2 L347.5,393.1 L346.5,395.2 L345.4,397.3 L344.3,399.6 L343.1,401.9 L342,404.3 L340.8,406.8 L339.5,409.2 L338.3,411.7 L337.1,414.2 L335.9,416.7 L334.7,419.1 L332.2,419.2 L333.3,416.7 L334.6,414.2 L335.8,411.7 L337,409.2 L338.2,406.7 L339.4,404.2 L340.6,401.7 L341.7,399.3 L342.9,397 L343.9,394.8 L345,392.7 L345.9,390.7 L346.9,388.7 L347.9,386.8 L348.8,385 L349.7,383.2 L350.6,381.4 L351.4,379.7 L352.3,378.1 L353.1,376.5 L353.9,375 L354.7,373.5 L355.5,372 L356.2,370.6 L357,369.3 L357.7,368 L358.4,366.8 L359,365.7 L359.6,364.6 L360.2,363.6 L360.7,362.7 L361.2,361.9 L361.6,361.1 L362,360.5 L362.3,359.9 L362.7,359.3 L363,358.8 L363.4,358.3 L363.7,357.7 L364.1,357.1 L364.6,356.5 L365,355.8 L365.5,355.2 L365.9,354.6 L366.4,354 L366.8,353.4 L367.3,352.8 L367.7,352.3 L368.2,351.7 L368.6,351.3 L369.1,350.8 L369.5,350.5 L369.9,350.1 L370.3,349.8 L370.7,349.5 L371.1,349.2 L371.6,348.9 L372,348.6 L372.5,348.4 L373,348.2 L373.6,347.9 L374.2,347.7 L374.8,347.5 L375.4,347.3 L376.1,347.1 L376.7,347 L377.5,346.9 L378.2,346.7 L379,346.6 L379.8,346.6 L380.6,346.5 L381.5,346.5 L382.4,346.4 L383.4,346.4 L384.4,346.5 L385.4,346.5 L386.4,346.5 L387.4,346.6 L388.5,346.7 L389.5,346.8 L390.6,346.9 L391.5,347 L392.5,347.1 L393.4,347.2 L394.4,347.3 L395.4,347.5 L396.5,347.7 L397.8,348 L399.3,348.3 L400.9,348.8 L402.7,349.4 L404.4,349.9 L406.3,350.5 L408.3,351.1 L410.4,351.8 L412.7,352.7 L415.2,353.6 L418,354.7 L421.1,356 L424.6,357.5 L428.5,359.2 L432.7,361.1 L437.2,363.2 L442,365.5 L447.1,367.9 L452.3,370.4 L457.7,372.9 L463.1,375.4 L468.6,377.9 L474.1,380.3 L479.7,382.7 L485.5,385 L491.4,387.5 L497.4,389.9 L503.5,392.3 L509.7,394.7 L515.9,397.2 L522.1,399.6 L528.2,402 L534.3,404.4 L540.3,406.8 L546.3,409.1 L552.3,411.5 L558.4,413.8 L564.4,416.2 L570.4,418.5 L576.4,420.9 L582.5,423.2 L588.5,425.5 L594.5,427.9 L600.6,430.3 L606.9,432.7 L613.2,435.1 L619.6,437.6 L625.9,440 L632.1,442.4 L638.2,444.8 L644,447 L649.6,449.2 L654.8,451.2 L659.6,453.1 L664.1,454.8 L668.3,456.5 L672.3,458 L676.1,459.5 L679.8,460.9 L683.5,462.4 L687.2,463.8 L690.9,465.3 L694.9,466.8Z" fill="#f26eb5"/>
<path d="M695.2,466 L691.3,464.5 L687.5,463 L683.8,461.5 L680.1,460.1 L676.4,458.6 L672.6,457.1 L668.6,455.6 L664.4,453.9 L660,452.2 L655.1,450.3 L649.9,448.3 L644.4,446.1 L638.6,443.8 L632.5,441.5 L626.3,439.1 L620,436.6 L613.6,434.1 L607.3,431.7 L601.1,429.2 L594.9,426.8 L588.9,424.5 L582.9,422.1 L576.9,419.8 L570.9,417.4 L564.8,415.1 L558.8,412.7 L552.8,410.3 L546.8,408 L540.8,405.6 L534.7,403.2 L528.7,400.8 L522.5,398.4 L516.4,396 L510.2,393.5 L504,391.1 L497.9,388.6 L491.9,386.2 L486,383.8 L480.2,381.4 L474.6,379 L469.1,376.6 L463.6,374.2 L458.1,371.7 L452.8,369.2 L447.5,366.8 L442.5,364.4 L437.7,362.1 L433.1,360 L428.9,358.1 L425,356.4 L421.5,354.9 L418.4,353.7 L415.6,352.6 L413,351.6 L410.7,350.8 L408.6,350.1 L406.6,349.4 L404.7,348.8 L402.9,348.2 L401.2,347.7 L399.5,347.1 L398.1,346.7 L396.8,346.4 L395.6,346.1 L394.6,345.8 L393.6,345.6 L392.7,345.4 L391.7,345.3 L390.8,345.1 L389.7,345 L388.7,344.8 L387.6,344.7 L386.5,344.5 L385.5,344.4 L384.4,344.3 L383.4,344.3 L382.4,344.2 L381.5,344.2 L380.6,344.2 L379.7,344.2 L378.8,344.3 L378,344.4 L377.2,344.5 L376.4,344.6 L375.7,344.8 L375,344.9 L374.3,345.1 L373.6,345.3 L373,345.6 L372.4,345.8 L371.8,346.1 L371.3,346.4 L370.8,346.7 L370.3,347 L369.9,347.3 L369.5,347.7 L369,348 L368.6,348.5 L368.1,348.9 L367.7,349.4 L367.2,349.9 L366.7,350.4 L366.2,351 L365.7,351.6 L365.2,352.3 L364.8,352.9 L364.3,353.6 L363.8,354.3 L363.3,354.9 L362.9,355.6 L362.4,356.2 L362,356.8 L361.6,357.4 L361.2,358 L360.8,358.6 L360.4,359.2 L360,359.9 L359.6,360.7 L359.1,361.5 L358.5,362.4 L357.9,363.5 L357.2,364.6 L356.6,365.7 L355.8,366.9 L355.1,368.2 L354.3,369.6 L353.5,371 L352.7,372.4 L351.9,374 L351,375.5 L350.2,377.2 L349.2,378.8 L348.3,380.6 L347.4,382.4 L346.4,384.3 L345.4,386.2 L344.4,388.2 L343.3,390.2 L342.3,392.3 L341.2,394.5 L340.1,396.7 L338.9,399.1 L337.8,401.5 L336.6,404 L335.4,406.5 L334.2,409.1 L333,411.7 L331.8,414.3 L330.6,416.8 L329.4,419.3 L326.8,419.4 L328,416.9 L329.2,414.3 L330.4,411.7 L331.6,409 L332.8,406.4 L334,403.9 L335.2,401.3 L336.4,398.9 L337.5,396.5 L338.6,394.2 L339.7,391.9 L340.8,389.8 L341.9,387.6 L342.9,385.6 L343.9,383.6 L344.9,381.6 L345.9,379.7 L346.9,377.9 L347.8,376.1 L348.7,374.4 L349.6,372.8 L350.4,371.3 L351.3,369.8 L352.1,368.3 L352.9,367 L353.6,365.6 L354.4,364.4 L355.1,363.2 L355.7,362.1 L356.4,361 L357,360 L357.5,359.1 L358,358.3 L358.5,357.6 L358.9,356.9 L359.4,356.3 L359.8,355.6 L360.2,355 L360.7,354.3 L361.2,353.7 L361.7,353 L362.2,352.3 L362.8,351.5 L363.3,350.8 L363.8,350.1 L364.4,349.5 L364.9,348.8 L365.5,348.2 L366,347.6 L366.5,347.1 L367.1,346.6 L367.5,346.1 L368,345.7 L368.5,345.3 L369,344.9 L369.5,344.6 L370,344.2 L370.5,343.9 L371.1,343.6 L371.7,343.4 L372.4,343.1 L373.1,342.9 L373.8,342.6 L374.5,342.4 L375.3,342.2 L376.1,342.1 L376.9,341.9 L377.8,341.8 L378.7,341.7 L379.6,341.7 L380.5,341.6 L381.5,341.6 L382.5,341.7 L383.5,341.7 L384.5,341.8 L385.6,341.9 L386.7,342 L387.8,342.1 L388.9,342.3 L390,342.4 L391.1,342.6 L392.1,342.8 L393,342.9 L394,343.1 L395,343.3 L396,343.5 L397.2,343.8 L398.5,344.2 L400,344.6 L401.7,345.2 L403.5,345.7 L405.3,346.3 L407.2,346.9 L409.3,347.6 L411.4,348.3 L413.8,349.2 L416.4,350.1 L419.3,351.3 L422.4,352.5 L425.9,354 L429.8,355.7 L434.1,357.6 L438.6,359.7 L443.5,362 L448.5,364.4 L453.7,366.8 L459.1,369.3 L464.6,371.8 L470.1,374.3 L475.6,376.7 L481.1,379 L486.9,381.4 L492.8,383.8 L498.9,386.2 L505,388.7 L511.1,391.1 L517.3,393.6 L523.5,396 L529.6,398.4 L535.7,400.8 L541.7,403.2 L547.7,405.6 L553.7,408 L559.8,410.3 L565.8,412.7 L571.8,415 L577.8,417.4 L583.8,419.7 L589.9,422.1 L595.9,424.4 L602,426.8 L608.2,429.3 L614.6,431.7 L620.9,434.2 L627.2,436.7 L633.4,439.1 L639.5,441.5 L645.3,443.7 L650.9,445.9 L656.1,447.9 L660.9,449.8 L665.4,451.6 L669.6,453.2 L673.6,454.8 L677.4,456.3 L681.1,457.7 L684.8,459.2 L688.5,460.6 L692.2,462.1 L696.1,463.6Z" fill="#f26eb5"/>
<path d="M696.5,462.8 L692.6,461.3 L688.8,459.8 L685.1,458.3 L681.4,456.9 L677.7,455.4 L673.9,453.9 L669.9,452.3 L665.7,450.7 L661.2,448.9 L656.4,447 L651.2,445 L645.7,442.8 L639.9,440.5 L633.8,438.1 L627.6,435.7 L621.3,433.2 L615,430.7 L608.6,428.3 L602.4,425.8 L596.3,423.4 L590.3,421 L584.3,418.7 L578.3,416.3 L572.2,413.9 L566.2,411.6 L560.2,409.2 L554.2,406.8 L548.2,404.4 L542.2,402.1 L536.2,399.7 L530.1,397.3 L524,394.8 L517.8,392.4 L511.6,389.9 L505.5,387.5 L499.3,385 L493.3,382.6 L487.4,380.1 L481.7,377.8 L476.1,375.4 L470.6,373 L465.1,370.6 L459.6,368.1 L454.2,365.6 L449,363.2 L443.9,360.9 L439.1,358.6 L434.5,356.5 L430.2,354.6 L426.3,352.9 L422.8,351.5 L419.6,350.2 L416.8,349.1 L414.1,348.1 L411.8,347.3 L409.6,346.5 L407.5,345.9 L405.6,345.2 L403.7,344.6 L401.9,344 L400.2,343.4 L398.7,342.9 L397.4,342.5 L396.3,342.1 L395.2,341.8 L394.2,341.5 L393.3,341.3 L392.3,341.1 L391.3,340.8 L390.2,340.6 L389.1,340.4 L388,340.2 L386.8,340 L385.7,339.8 L384.6,339.7 L383.5,339.5 L382.5,339.4 L381.4,339.4 L380.4,339.3 L379.5,339.3 L378.5,339.4 L377.6,339.5 L376.7,339.6 L375.8,339.7 L374.9,339.8 L374.1,340 L373.3,340.2 L372.5,340.5 L371.8,340.7 L371.1,341 L370.4,341.3 L369.8,341.6 L369.2,342 L368.7,342.4 L368.2,342.8 L367.7,343.2 L367.2,343.6 L366.7,344.1 L366.1,344.6 L365.6,345.2 L365,345.8 L364.5,346.4 L363.9,347 L363.3,347.7 L362.7,348.5 L362.1,349.2 L361.6,349.9 L361,350.7 L360.5,351.4 L359.9,352.2 L359.4,352.9 L358.9,353.6 L358.4,354.2 L357.9,354.9 L357.4,355.6 L357,356.3 L356.4,357.1 L355.9,357.9 L355.3,358.9 L354.7,359.9 L354,361 L353.3,362.1 L352.6,363.3 L351.8,364.6 L351,365.9 L350.2,367.3 L349.3,368.7 L348.5,370.2 L347.6,371.8 L346.6,373.5 L345.7,375.2 L344.7,377 L343.7,378.9 L342.6,380.9 L341.5,382.9 L340.4,385 L339.3,387.1 L338.2,389.3 L337,391.5 L335.9,393.8 L334.8,396.2 L333.6,398.6 L332.4,401.1 L331.2,403.7 L330,406.3 L328.8,409 L327.6,411.6 L326.4,414.3 L325.2,416.9 L324,419.5 L321.5,419.6 L322.7,417 L323.9,414.3 L325.1,411.6 L326.3,408.9 L327.5,406.2 L328.7,403.6 L329.9,400.9 L331,398.4 L332.2,395.9 L333.4,393.5 L334.5,391.1 L335.6,388.8 L336.8,386.6 L337.9,384.3 L339.1,382.2 L340.2,380.1 L341.3,378 L342.3,376.1 L343.3,374.2 L344.3,372.4 L345.3,370.7 L346.2,369 L347.1,367.5 L347.9,366 L348.8,364.6 L349.6,363.3 L350.4,362 L351.1,360.7 L351.8,359.6 L352.6,358.4 L353.2,357.4 L353.8,356.4 L354.4,355.5 L355,354.7 L355.5,353.9 L356,353.2 L356.6,352.5 L357.1,351.7 L357.7,351 L358.2,350.2 L358.8,349.5 L359.4,348.7 L360.1,347.9 L360.7,347.1 L361.3,346.3 L361.9,345.6 L362.6,344.8 L363.2,344.1 L363.8,343.5 L364.4,342.9 L365,342.3 L365.6,341.8 L366.2,341.3 L366.7,340.8 L367.3,340.4 L367.8,340 L368.4,339.6 L369,339.2 L369.7,338.9 L370.4,338.6 L371.2,338.3 L372,338 L372.8,337.7 L373.7,337.5 L374.6,337.3 L375.5,337.2 L376.4,337 L377.4,336.9 L378.3,336.8 L379.3,336.8 L380.4,336.8 L381.4,336.8 L382.5,336.9 L383.6,337 L384.7,337.1 L385.9,337.3 L387,337.4 L388.2,337.6 L389.3,337.8 L390.5,338.1 L391.6,338.3 L392.6,338.5 L393.6,338.8 L394.6,339 L395.6,339.3 L396.7,339.6 L397.9,340 L399.2,340.4 L400.7,340.9 L402.4,341.5 L404.3,342.1 L406.2,342.7 L408.2,343.4 L410.2,344.1 L412.5,344.8 L414.9,345.7 L417.6,346.7 L420.5,347.8 L423.7,349.1 L427.3,350.6 L431.2,352.3 L435.5,354.2 L440,356.3 L444.9,358.5 L449.9,360.8 L455.2,363.3 L460.5,365.7 L466,368.2 L471.5,370.6 L477,373 L482.6,375.4 L488.4,377.8 L494.3,380.2 L500.3,382.6 L506.4,385.1 L512.6,387.5 L518.7,390 L524.9,392.4 L531,394.9 L537.1,397.3 L543.1,399.7 L549.1,402.1 L555.1,404.4 L561.2,406.8 L567.2,409.2 L573.2,411.6 L579.2,413.9 L585.2,416.3 L591.2,418.6 L597.2,421 L603.3,423.4 L609.6,425.9 L615.9,428.4 L622.3,430.9 L628.6,433.3 L634.8,435.8 L640.8,438.1 L646.6,440.4 L652.2,442.6 L657.4,444.6 L662.2,446.5 L666.7,448.3 L670.9,450 L674.8,451.5 L678.7,453 L682.4,454.5 L686,455.9 L689.7,457.4 L693.5,458.9 L697.4,460.4Z" fill="#f26eb5"/>
<path d="M697.7,459.6 L693.8,458.1 L690.1,456.6 L686.4,455.1 L682.7,453.6 L679,452.2 L675.2,450.7 L671.2,449.1 L667,447.4 L662.5,445.7 L657.7,443.8 L652.5,441.7 L647,439.5 L641.2,437.2 L635.1,434.8 L628.9,432.4 L622.6,429.9 L616.3,427.4 L610,424.9 L603.7,422.4 L597.6,420 L591.6,417.6 L585.6,415.2 L579.6,412.8 L573.6,410.5 L567.6,408.1 L561.6,405.7 L555.6,403.3 L549.6,400.9 L543.6,398.5 L537.6,396.1 L531.5,393.7 L525.4,391.2 L519.2,388.8 L513.1,386.3 L506.9,383.8 L500.8,381.4 L494.8,378.9 L488.9,376.5 L483.1,374.1 L477.5,371.8 L472,369.4 L466.5,367 L461,364.5 L455.7,362.1 L450.4,359.7 L445.3,357.4 L440.5,355.1 L435.9,353.1 L431.6,351.2 L427.7,349.5 L424.1,348 L420.9,346.7 L417.9,345.6 L415.3,344.6 L412.8,343.8 L410.5,343 L408.4,342.3 L406.4,341.6 L404.5,341 L402.7,340.3 L401,339.7 L399.4,339.2 L398.1,338.7 L396.9,338.2 L395.8,337.8 L394.8,337.5 L393.8,337.1 L392.9,336.8 L391.8,336.5 L390.7,336.2 L389.5,336 L388.3,335.7 L387.2,335.4 L386,335.2 L384.8,335 L383.7,334.8 L382.5,334.7 L381.4,334.6 L380.3,334.5 L379.2,334.5 L378.2,334.5 L377.2,334.5 L376.2,334.6 L375.2,334.8 L374.2,334.9 L373.2,335.1 L372.3,335.4 L371.4,335.6 L370.6,335.9 L369.8,336.2 L369,336.6 L368.3,336.9 L367.7,337.3 L367,337.8 L366.4,338.2 L365.9,338.7 L365.3,339.2 L364.7,339.8 L364.1,340.4 L363.5,341 L362.8,341.6 L362.2,342.3 L361.5,343.1 L360.9,343.8 L360.2,344.6 L359.5,345.4 L358.9,346.3 L358.2,347.1 L357.6,347.9 L356.9,348.7 L356.3,349.5 L355.7,350.3 L355.2,351.1 L354.6,351.8 L354,352.6 L353.5,353.4 L352.9,354.3 L352.2,355.2 L351.6,356.2 L350.9,357.3 L350.1,358.4 L349.3,359.6 L348.6,360.9 L347.7,362.2 L346.9,363.5 L346,364.9 L345.1,366.4 L344.2,368 L343.2,369.7 L342.3,371.4 L341.2,373.2 L340.1,375.2 L339,377.2 L337.8,379.3 L336.7,381.5 L335.4,383.7 L334.2,386 L333,388.3 L331.8,390.7 L330.6,393.1 L329.4,395.6 L328.2,398.1 L327.1,400.7 L325.9,403.4 L324.7,406.1 L323.5,408.8 L322.3,411.6 L321.1,414.3 L319.9,417 L318.7,419.7 L316.1,419.8 L317.3,417.1 L318.5,414.3 L319.7,411.5 L320.9,408.8 L322.1,406 L323.3,403.3 L324.5,400.6 L325.7,397.9 L326.9,395.3 L328.1,392.8 L329.3,390.3 L330.5,387.9 L331.7,385.5 L333,383.1 L334.2,380.8 L335.4,378.5 L336.6,376.3 L337.8,374.2 L338.9,372.2 L339.9,370.3 L341,368.5 L341.9,366.8 L342.9,365.2 L343.8,363.7 L344.7,362.3 L345.5,360.9 L346.4,359.6 L347.2,358.3 L348,357.1 L348.7,355.9 L349.5,354.7 L350.2,353.7 L350.8,352.7 L351.5,351.8 L352.1,350.9 L352.7,350.1 L353.3,349.3 L354,348.5 L354.6,347.6 L355.3,346.8 L356,345.9 L356.7,345.1 L357.4,344.2 L358.1,343.3 L358.8,342.5 L359.5,341.7 L360.2,340.9 L360.9,340.1 L361.6,339.4 L362.3,338.7 L363,338.1 L363.7,337.4 L364.3,336.9 L364.9,336.3 L365.5,335.8 L366.2,335.3 L366.8,334.9 L367.5,334.5 L368.3,334.1 L369.1,333.7 L370,333.4 L370.9,333.1 L371.8,332.9 L372.8,332.6 L373.8,332.4 L374.8,332.2 L375.9,332.1 L377,332 L378,331.9 L379.1,331.9 L380.2,331.9 L381.4,332 L382.5,332.1 L383.7,332.3 L384.9,332.4 L386.1,332.6 L387.3,332.9 L388.6,333.1 L389.8,333.4 L391,333.7 L392.1,334 L393.2,334.3 L394.2,334.6 L395.2,334.9 L396.2,335.3 L397.3,335.7 L398.6,336.1 L399.9,336.6 L401.4,337.2 L403.2,337.8 L405.1,338.5 L407,339.2 L409.1,339.8 L411.2,340.5 L413.6,341.3 L416.1,342.2 L418.8,343.2 L421.8,344.3 L425,345.6 L428.6,347.1 L432.6,348.8 L436.8,350.7 L441.4,352.8 L446.3,355 L451.4,357.3 L456.6,359.7 L462,362.1 L467.4,364.6 L472.9,367 L478.5,369.4 L484.1,371.7 L489.8,374.1 L495.7,376.5 L501.7,379 L507.8,381.5 L514,383.9 L520.2,386.4 L526.3,388.9 L532.5,391.3 L538.5,393.7 L544.5,396.1 L550.5,398.5 L556.5,400.9 L562.5,403.3 L568.5,405.7 L574.6,408.1 L580.6,410.4 L586.6,412.8 L592.6,415.2 L598.6,417.6 L604.7,420 L610.9,422.5 L617.2,425 L623.6,427.5 L629.9,430 L636.1,432.4 L642.1,434.8 L647.9,437.1 L653.5,439.3 L658.7,441.4 L663.5,443.3 L668,445.1 L672.2,446.7 L676.1,448.3 L679.9,449.8 L683.6,451.3 L687.3,452.7 L691,454.2 L694.8,455.7 L698.7,457.2Z" fill="#f26eb5"/>
<path d="M694,469 L690.1,467.5 L686.3,466 L682.6,464.6 L678.9,463.1 L675.2,461.7 L671.4,460.2 L667.4,458.7 L663.2,457 L658.7,455.3 L653.9,453.4 L648.7,451.4 L643.1,449.3 L637.3,447 L631.2,444.7 L625,442.3 L618.7,439.9 L612.3,437.4 L606,434.9 L599.7,432.5 L593.6,430.2 L587.6,427.8 L581.6,425.5 L575.5,423.2 L569.5,420.8 L563.5,418.5 L557.5,416.1 L551.4,413.8 L545.4,411.4 L539.4,409.1 L533.4,406.7 L527.3,404.3 L521.1,401.9 L515,399.5 L508.8,397.1 L502.6,394.6 L496.5,392.2 L490.4,389.8 L484.5,387.4 L478.8,385 L473.2,382.6 L467.7,380.2 L462.2,377.8 L456.7,375.2 L451.4,372.7 L446.1,370.2 L441.1,367.8 L436.3,365.5 L431.8,363.4 L427.6,361.4 L423.7,359.7 L420.3,358.3 L417.2,357 L414.4,355.9 L411.9,355 L409.7,354.2 L407.6,353.5 L405.7,352.8 L403.9,352.3 L402.1,351.7 L400.4,351.2 L398.8,350.8 L397.4,350.4 L396.1,350.2 L395,350 L394,349.8 L393,349.7 L392.1,349.7 L391.2,349.6 L390.2,349.5 L389.3,349.5 L388.2,349.4 L387.2,349.3 L386.2,349.3 L385.2,349.2 L384.3,349.2 L383.3,349.2 L382.4,349.2 L381.5,349.3 L380.7,349.3 L379.9,349.4 L379.1,349.5 L378.4,349.6 L377.8,349.7 L377.1,349.8 L376.5,350 L375.9,350.1 L375.4,350.3 L374.8,350.5 L374.3,350.7 L373.8,350.9 L373.3,351.1 L372.9,351.4 L372.5,351.6 L372.1,351.8 L371.7,352.1 L371.3,352.4 L371,352.7 L370.6,353 L370.3,353.4 L369.9,353.7 L369.5,354.2 L369.1,354.7 L368.7,355.2 L368.3,355.7 L367.9,356.3 L367.5,356.8 L367.1,357.4 L366.7,358 L366.3,358.6 L365.9,359.2 L365.6,359.7 L365.2,360.2 L364.9,360.7 L364.7,361.2 L364.4,361.7 L364.1,362.2 L363.7,362.8 L363.4,363.5 L362.9,364.3 L362.5,365.1 L361.9,366.1 L361.3,367.1 L360.7,368.2 L360.1,369.4 L359.4,370.7 L358.7,372 L357.9,373.3 L357.2,374.8 L356.4,376.2 L355.6,377.7 L354.9,379.2 L354.1,380.8 L353.3,382.4 L352.4,384 L351.6,385.8 L350.7,387.5 L349.8,389.3 L348.8,391.2 L347.9,393.2 L346.9,395.2 L345.8,397.4 L344.7,399.6 L343.6,401.9 L342.4,404.3 L341.2,406.8 L340,409.3 L338.7,411.7 L337.5,414.2 L336.3,416.7 L335.1,419.1 L338,419 L339.2,416.6 L340.4,414.2 L341.6,411.8 L342.8,409.3 L344.1,406.9 L345.3,404.5 L346.4,402.1 L347.6,399.9 L348.7,397.7 L349.7,395.6 L350.7,393.6 L351.6,391.7 L352.5,389.9 L353.4,388.2 L354.2,386.5 L355,384.9 L355.7,383.3 L356.5,381.8 L357.3,380.3 L358,378.8 L358.7,377.4 L359.5,375.9 L360.2,374.6 L360.9,373.2 L361.6,371.9 L362.2,370.7 L362.9,369.5 L363.5,368.5 L364,367.4 L364.5,366.5 L364.9,365.7 L365.3,365 L365.6,364.3 L365.9,363.8 L366.2,363.3 L366.4,362.8 L366.7,362.4 L366.9,362 L367.2,361.5 L367.5,361 L367.8,360.5 L368.2,359.9 L368.5,359.4 L368.9,358.8 L369.2,358.3 L369.6,357.8 L369.9,357.3 L370.3,356.8 L370.6,356.4 L371,356 L371.3,355.6 L371.7,355.3 L372,355 L372.3,354.8 L372.6,354.5 L373,354.3 L373.3,354.1 L373.7,353.9 L374.1,353.7 L374.5,353.5 L375,353.3 L375.4,353.1 L375.9,352.9 L376.4,352.8 L376.9,352.6 L377.5,352.5 L378,352.3 L378.6,352.2 L379.3,352.1 L380,352 L380.7,351.9 L381.5,351.9 L382.4,351.8 L383.3,351.7 L384.2,351.7 L385.1,351.7 L386,351.7 L387,351.7 L388,351.7 L389,351.8 L390,351.8 L390.9,351.9 L391.8,351.9 L392.7,351.9 L393.6,352 L394.6,352.1 L395.8,352.2 L397,352.4 L398.4,352.8 L400,353.2 L401.7,353.7 L403.4,354.2 L405.2,354.7 L407.1,355.4 L409.1,356.1 L411.3,356.9 L413.8,357.8 L416.5,358.9 L419.6,360.1 L423,361.6 L426.8,363.3 L431,365.2 L435.5,367.4 L440.3,369.7 L445.4,372.1 L450.6,374.6 L456,377.2 L461.4,379.7 L466.9,382.2 L472.4,384.6 L478,387 L483.7,389.3 L489.7,391.7 L495.7,394.2 L501.8,396.6 L508,399 L514.2,401.4 L520.4,403.8 L526.5,406.2 L532.6,408.6 L538.6,411 L544.7,413.3 L550.7,415.7 L556.7,418 L562.7,420.4 L568.8,422.7 L574.8,425 L580.8,427.3 L586.9,429.7 L592.9,432 L599,434.4 L605.3,436.8 L611.6,439.2 L618,441.7 L624.3,444.1 L630.5,446.5 L636.6,448.8 L642.4,451.1 L648,453.2 L653.2,455.2 L658,457.1 L662.5,458.8 L666.7,460.4 L670.7,462 L674.5,463.4 L678.2,464.9 L681.9,466.3 L685.6,467.7 L689.4,469.2 L693.3,470.7Z" fill="#f5c95e"/>
<path d="M368,392 C364,388 360,380 357.5,372" fill="none" stroke="#f26eb5" stroke-width="2" stroke-linecap="round"/>
</g>
</g>
<path d="M261,237 L393,68 M261,286 L338,415" stroke="#9db3c6" stroke-width="0.9" fill="none"/>
<rect x="260.6" y="236.6" width="37.5" height="49" fill="none" stroke="#f3f6fa" stroke-width="1.9"/>
<path d="M466.5,40 H477.5 L562.6,197.6 M542.5,40 H552.5 L565.3,124.5 M377.5,92 H386 L439.5,131.5 M377.5,130.5 H386 L500.5,197 M364,181.6 H371 L391,210 M487.5,446 H500 L566.5,342" stroke="#f4f8fb" stroke-width="1.5" fill="none" stroke-linejoin="round"/>
<g stroke="#fff" stroke-width="0.6">
<text x="425" y="44.5" text-anchor="start" font-size="15.2" textLength="37" lengthAdjust="spacingAndGlyphs">cone</text>
<text x="511" y="44.5" text-anchor="start" font-size="15.2" textLength="27" lengthAdjust="spacingAndGlyphs">rod</text>
<text x="372.5" y="96.3" text-anchor="end" font-size="15.2" textLength="99.5" lengthAdjust="spacingAndGlyphs">ganglion cell</text>
<text x="372.5" y="134.8" text-anchor="end" font-size="15.2" textLength="87.5" lengthAdjust="spacingAndGlyphs">bipolar cell</text>
<text x="357" y="187.2" text-anchor="end" font-size="15.2" textLength="52" lengthAdjust="spacingAndGlyphs">retinal</text>
<text x="357" y="206.4" text-anchor="end" font-size="15.2" textLength="48" lengthAdjust="spacingAndGlyphs">artery</text>
<text x="221" y="450.3" text-anchor="start" font-size="15.2" textLength="260" lengthAdjust="spacingAndGlyphs">retinal pigment epithelium (RPE)</text>
</g>
<text x="28" y="65" font-size="39.5" style="font-family:'Liberation Sans',sans-serif" fill="#f4f7fa" textLength="111" lengthAdjust="spacingAndGlyphs">Retina</text>
</svg>
</body></html>
